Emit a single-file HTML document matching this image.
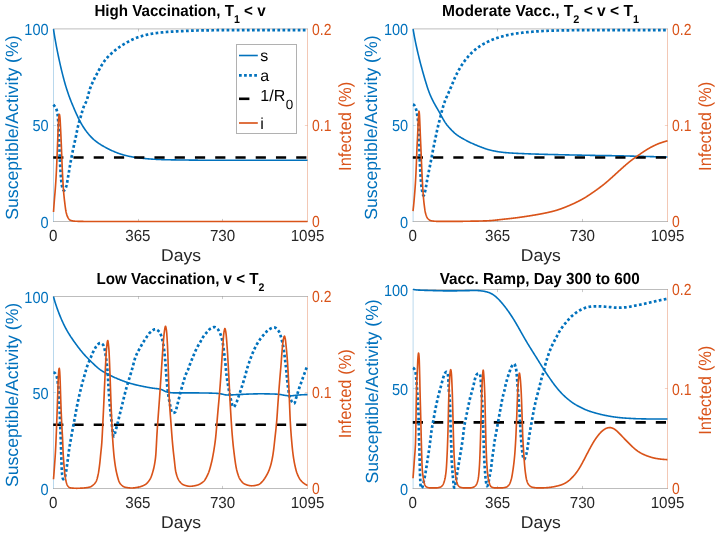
<!DOCTYPE html>
<html><head><meta charset="utf-8"><title>Vaccination scenarios</title>
<!-- Chart: four-panel epidemic model figure (s, a, 1/R0, i) recreated as inline SVG -->
<style>html,body{margin:0;padding:0;background:#fff;}body{width:720px;height:538px;overflow:hidden;font-family:"Liberation Sans",sans-serif;}svg{display:block;}</style></head>
<body>
<svg width="720" height="538" viewBox="0 0 720 538" font-family="'Liberation Sans', sans-serif" text-rendering="geometricPrecision">
<rect width="720" height="538" fill="#fff"/>
<g opacity="0.999">
<clipPath id="clip0"><rect x="52.1" y="27.299999999999997" width="256.8" height="195.6"/></clipPath>
<line x1="53.0" y1="28.9" x2="308.0" y2="28.9" stroke="#262626" stroke-width="1" stroke-opacity="0.3"/>
<line x1="53.0" y1="221.5" x2="308.0" y2="221.5" stroke="#262626" stroke-width="1" stroke-opacity="0.3"/>
<line x1="53.5" y1="28.9" x2="53.5" y2="221.5" stroke="#0072BD" stroke-width="1" stroke-opacity="0.28"/>
<line x1="307.5" y1="28.9" x2="307.5" y2="221.5" stroke="#D95319" stroke-width="1" stroke-opacity="0.32"/>
<line x1="138.50" y1="221.5" x2="138.50" y2="218.9" stroke="#262626" stroke-width="1" stroke-opacity="0.24"/>
<line x1="138.50" y1="28.9" x2="138.50" y2="31.5" stroke="#262626" stroke-width="1" stroke-opacity="0.24"/>
<line x1="222.50" y1="221.5" x2="222.50" y2="218.9" stroke="#262626" stroke-width="1" stroke-opacity="0.24"/>
<line x1="222.50" y1="28.9" x2="222.50" y2="31.5" stroke="#262626" stroke-width="1" stroke-opacity="0.24"/>
<line x1="53.5" y1="125.50" x2="56.1" y2="125.50" stroke="#0072BD" stroke-width="1" stroke-opacity="0.22400000000000003"/>
<line x1="307.5" y1="125.50" x2="304.9" y2="125.50" stroke="#D95319" stroke-width="1" stroke-opacity="0.256"/>
<g clip-path="url(#clip0)" fill="none" stroke-linejoin="round">
<path d="M53.50,29.10 L54.00,32.53 L54.50,35.68 L55.00,38.63 L55.50,41.45 L56.00,44.16 L56.50,46.80 L57.00,49.38 L57.50,51.90 L58.00,54.36 L58.50,56.75 L59.00,59.09 L59.50,61.41 L60.00,63.67 L60.50,65.87 L61.00,68.02 L61.50,70.10 L62.00,72.14 L62.50,74.13 L63.00,76.08 L63.50,77.99 L64.00,79.85 L64.50,81.67 L65.00,83.45 L65.50,85.19 L66.00,86.87 L66.50,88.51 L67.00,90.09 L67.50,91.62 L68.00,93.11 L68.50,94.54 L69.00,95.94 L69.50,97.29 L70.00,98.62 L70.50,99.91 L71.00,101.18 L71.50,102.43 L72.00,103.65 L72.50,104.87 L73.00,106.06 L73.50,107.25 L74.00,108.42 L74.50,109.58 L75.00,110.72 L75.50,111.86 L76.00,112.98 L76.50,114.09 L77.00,115.19 L77.50,116.26 L78.00,117.32 L78.50,118.35 L79.00,119.36 L79.50,120.34 L80.00,121.30 L80.50,122.22 L81.00,123.12 L81.50,124.00 L82.00,124.85 L82.50,125.68 L83.00,126.48 L83.50,127.26 L84.00,128.02 L84.50,128.76 L85.00,129.49 L85.50,130.19 L86.00,130.87 L86.50,131.54 L87.00,132.20 L87.50,132.83 L88.00,133.46 L88.50,134.06 L89.00,134.66 L89.50,135.24 L90.00,135.80 L90.50,136.35 L91.00,136.88 L91.50,137.40 L92.00,137.90 L92.50,138.38 L93.00,138.85 L93.50,139.31 L94.00,139.75 L94.50,140.17 L95.00,140.58 L95.50,140.99 L96.00,141.38 L96.50,141.76 L97.00,142.13 L97.50,142.49 L98.00,142.85 L98.50,143.20 L99.00,143.54 L99.50,143.87 L100.00,144.20 L100.50,144.52 L101.00,144.83 L101.50,145.14 L102.00,145.44 L102.50,145.74 L103.00,146.03 L103.50,146.31 L104.00,146.60 L104.50,146.88 L105.00,147.15 L105.50,147.42 L106.00,147.69 L106.50,147.95 L107.00,148.21 L107.50,148.47 L108.00,148.73 L108.50,148.98 L109.00,149.23 L109.50,149.48 L110.00,149.72 L110.50,149.96 L111.00,150.20 L111.50,150.43 L112.00,150.66 L112.50,150.89 L113.00,151.11 L113.50,151.33 L114.00,151.55 L114.50,151.76 L115.00,151.97 L115.50,152.18 L116.00,152.38 L116.50,152.57 L117.00,152.77 L117.50,152.96 L118.00,153.14 L118.50,153.32 L119.00,153.50 L119.50,153.67 L120.00,153.84 L120.50,154.00 L121.00,154.16 L121.50,154.32 L122.00,154.47 L122.50,154.62 L123.00,154.77 L123.50,154.92 L124.00,155.06 L124.50,155.19 L125.00,155.33 L125.50,155.46 L126.00,155.58 L126.50,155.71 L127.00,155.83 L127.50,155.94 L128.00,156.06 L128.50,156.17 L129.00,156.27 L129.50,156.38 L130.00,156.47 L130.50,156.57 L131.00,156.66 L131.50,156.75 L132.00,156.84 L132.50,156.93 L133.00,157.01 L133.50,157.09 L134.00,157.17 L134.50,157.25 L135.00,157.32 L135.50,157.40 L136.00,157.47 L136.50,157.54 L137.00,157.61 L137.50,157.68 L138.00,157.74 L138.50,157.81 L139.00,157.87 L139.50,157.93 L140.00,157.99 L140.50,158.05 L141.00,158.11 L141.50,158.17 L142.00,158.23 L142.50,158.29 L143.00,158.34 L143.50,158.40 L144.00,158.45 L144.50,158.51 L145.00,158.56 L145.50,158.61 L146.00,158.66 L146.50,158.70 L147.00,158.75 L147.50,158.79 L148.00,158.84 L148.50,158.88 L149.00,158.92 L149.50,158.95 L150.00,158.99 L150.50,159.02 L151.00,159.06 L151.50,159.09 L152.00,159.12 L152.50,159.15 L153.00,159.18 L153.50,159.21 L154.00,159.24 L154.50,159.27 L155.00,159.29 L155.50,159.32 L156.00,159.34 L156.50,159.37 L157.00,159.39 L157.50,159.42 L158.00,159.44 L158.50,159.46 L159.00,159.49 L159.50,159.51 L160.00,159.53 L160.50,159.55 L161.00,159.57 L161.50,159.59 L162.00,159.60 L162.50,159.62 L163.00,159.64 L163.50,159.65 L164.00,159.67 L164.50,159.68 L165.00,159.70 L165.50,159.71 L166.00,159.72 L166.50,159.73 L167.00,159.75 L167.50,159.76 L168.00,159.77 L168.50,159.78 L169.00,159.79 L169.50,159.80 L170.00,159.81 L170.50,159.82 L171.00,159.83 L171.50,159.84 L172.00,159.85 L172.50,159.86 L173.00,159.87 L173.50,159.88 L174.00,159.89 L174.50,159.90 L175.00,159.90 L175.50,159.91 L176.00,159.92 L176.50,159.93 L177.00,159.93 L177.50,159.94 L178.00,159.95 L178.50,159.96 L179.00,159.96 L179.50,159.97 L180.00,159.97 L180.50,159.98 L181.00,159.99 L181.50,159.99 L182.00,160.00 L182.50,160.01 L183.00,160.01 L183.50,160.02 L184.00,160.02 L184.50,160.03 L185.00,160.03 L185.50,160.04 L186.00,160.05 L186.50,160.05 L187.00,160.06 L187.50,160.06 L188.00,160.07 L188.50,160.07 L189.00,160.08 L189.50,160.09 L190.00,160.09 L190.50,160.10 L191.00,160.10 L191.50,160.11 L192.00,160.11 L192.50,160.12 L193.00,160.12 L193.50,160.13 L194.00,160.13 L194.50,160.14 L195.00,160.15 L195.50,160.15 L196.00,160.16 L196.50,160.16 L197.00,160.17 L197.50,160.17 L198.00,160.18 L198.50,160.18 L199.00,160.19 L199.50,160.19 L200.00,160.19 L200.50,160.20 L201.00,160.20 L201.50,160.21 L202.00,160.21 L202.50,160.22 L203.00,160.22 L203.50,160.23 L204.00,160.23 L204.50,160.23 L205.00,160.24 L205.50,160.24 L206.00,160.24 L206.50,160.25 L207.00,160.25 L207.50,160.25 L208.00,160.26 L208.50,160.26 L209.00,160.26 L209.50,160.27 L210.00,160.27 L210.50,160.27 L211.00,160.28 L211.50,160.28 L212.00,160.28 L212.50,160.28 L213.00,160.28 L213.50,160.29 L214.00,160.29 L214.50,160.29 L215.00,160.29 L215.50,160.29 L216.00,160.29 L216.50,160.30 L217.00,160.30 L217.50,160.30 L218.00,160.30 L218.50,160.30 L219.00,160.30 L219.50,160.30 L220.00,160.30 L220.50,160.30 L221.00,160.30 L221.50,160.30 L222.00,160.30 L222.50,160.30 L223.00,160.30 L223.50,160.30 L224.00,160.30 L224.50,160.30 L225.00,160.30 L225.50,160.30 L226.00,160.30 L226.50,160.30 L227.00,160.30 L227.50,160.30 L228.00,160.30 L228.50,160.30 L229.00,160.30 L229.50,160.30 L230.00,160.30 L230.50,160.30 L231.00,160.30 L231.50,160.30 L232.00,160.30 L232.50,160.30 L233.00,160.30 L233.50,160.30 L234.00,160.30 L234.50,160.30 L235.00,160.30 L235.50,160.30 L236.00,160.30 L236.50,160.30 L237.00,160.30 L237.50,160.30 L238.00,160.30 L238.50,160.30 L239.00,160.30 L239.50,160.30 L240.00,160.30 L240.50,160.30 L241.00,160.30 L241.50,160.30 L242.00,160.30 L242.50,160.30 L243.00,160.30 L243.50,160.30 L244.00,160.30 L244.50,160.30 L245.00,160.30 L245.50,160.30 L246.00,160.30 L246.50,160.30 L247.00,160.30 L247.50,160.30 L248.00,160.30 L248.50,160.30 L249.00,160.30 L249.50,160.30 L250.00,160.30 L250.50,160.30 L251.00,160.30 L251.50,160.30 L252.00,160.30 L252.50,160.30 L253.00,160.30 L253.50,160.30 L254.00,160.30 L254.50,160.30 L255.00,160.30 L255.50,160.30 L256.00,160.30 L256.50,160.30 L257.00,160.30 L257.50,160.30 L258.00,160.30 L258.50,160.30 L259.00,160.30 L259.50,160.30 L260.00,160.30 L260.50,160.30 L261.00,160.30 L261.50,160.30 L262.00,160.30 L262.50,160.30 L263.00,160.30 L263.50,160.30 L264.00,160.30 L264.50,160.30 L265.00,160.30 L265.50,160.30 L266.00,160.30 L266.50,160.30 L267.00,160.30 L267.50,160.30 L268.00,160.30 L268.50,160.30 L269.00,160.30 L269.50,160.30 L270.00,160.30 L270.50,160.30 L271.00,160.30 L271.50,160.30 L272.00,160.30 L272.50,160.30 L273.00,160.30 L273.50,160.30 L274.00,160.30 L274.50,160.30 L275.00,160.30 L275.50,160.30 L276.00,160.30 L276.50,160.30 L277.00,160.30 L277.50,160.30 L278.00,160.30 L278.50,160.30 L279.00,160.30 L279.50,160.30 L280.00,160.30 L280.50,160.30 L281.00,160.30 L281.50,160.30 L282.00,160.30 L282.50,160.30 L283.00,160.30 L283.50,160.30 L284.00,160.30 L284.50,160.30 L285.00,160.30 L285.50,160.30 L286.00,160.30 L286.50,160.30 L287.00,160.30 L287.50,160.30 L288.00,160.30 L288.50,160.30 L289.00,160.30 L289.50,160.30 L290.00,160.30 L290.50,160.30 L291.00,160.30 L291.50,160.30 L292.00,160.30 L292.50,160.30 L293.00,160.30 L293.50,160.30 L294.00,160.30 L294.50,160.30 L295.00,160.30 L295.50,160.30 L296.00,160.30 L296.50,160.30 L297.00,160.30 L297.50,160.30 L298.00,160.30 L298.50,160.30 L299.00,160.30 L299.50,160.30 L300.00,160.30 L300.50,160.30 L301.00,160.30 L301.50,160.30 L302.00,160.30 L302.50,160.30 L303.00,160.30 L303.50,160.30 L304.00,160.30 L304.50,160.30 L305.00,160.30 L305.50,160.30 L306.00,160.30 L306.50,160.30 L307.00,160.30 L307.50,160.30" stroke="#0072BD" stroke-width="1.6"/>
<line x1="53.2" y1="157.55" x2="307.5" y2="157.55" stroke="#000" stroke-width="2.6" stroke-dasharray="10.2 10.05"/>
<path d="M53.40,104.60 L53.65,104.92 L53.90,105.26 L54.15,105.61 L54.40,105.94 L54.65,106.26 L54.90,106.59 L55.15,106.93 L55.40,107.30 L55.65,107.70 L55.90,108.16 L56.15,108.67 L56.40,109.27 L56.65,109.97 L56.90,110.83 L57.15,111.86 L57.40,113.12 L57.65,114.64 L57.90,117.03 L58.15,120.39 L58.40,124.47 L58.65,129.05 L58.90,133.90 L59.15,139.82 L59.40,146.50 L59.65,153.39 L59.90,160.07 L60.15,165.23 L60.40,169.54 L60.65,173.23 L60.90,176.54 L61.15,179.63 L61.40,182.22 L61.65,184.06 L61.90,185.48 L62.15,186.73 L62.40,187.79 L62.65,188.65 L62.90,189.30 L63.15,189.77 L63.40,190.18 L63.65,190.48 L63.90,190.60 L64.15,190.52 L64.40,190.30 L64.65,189.99 L64.90,189.64 L65.15,189.26 L65.40,188.77 L65.65,188.17 L65.90,187.47 L66.15,186.69 L66.40,185.85 L66.65,184.93 L66.90,183.80 L67.15,182.50 L67.40,181.08 L67.65,179.59 L67.90,178.07 L68.15,176.57 L68.40,175.13 L68.65,173.66 L68.90,172.17 L69.15,170.65 L69.40,169.14 L69.65,167.63 L69.90,166.15 L70.15,164.72 L70.40,163.30 L70.65,161.90 L70.90,160.52 L71.15,159.16 L71.40,157.81 L71.65,156.49 L71.90,155.20 L72.15,153.93 L72.40,152.69 L72.65,151.47 L72.90,150.27 L73.15,149.08 L73.40,147.91 L73.65,146.73 L73.90,145.57 L74.15,144.43 L74.40,143.31 L74.65,142.19 L74.90,141.08 L75.15,139.96 L75.40,138.82 L75.65,137.67 L75.90,136.47 L76.15,135.24 L76.40,133.99 L76.65,132.72 L76.90,131.46 L77.15,130.22 L77.40,129.01 L77.65,127.85 L77.90,126.74 L78.15,125.70 L78.40,124.71 L78.65,123.77 L78.90,122.85 L79.15,121.97 L79.40,121.11 L79.65,120.26 L79.90,119.43 L80.15,118.60 L80.40,117.77 L80.65,116.94 L80.90,116.10 L81.15,115.24 L81.40,114.37 L81.65,113.48 L81.90,112.60 L82.15,111.72 L82.40,110.85 L82.65,110.00 L82.90,109.17 L83.15,108.37 L83.40,107.62 L83.65,106.91 L83.90,106.25 L84.15,105.65 L84.40,105.11 L84.65,104.61 L84.90,104.13 L85.15,103.67 L85.40,103.22 L85.65,102.75 L85.90,102.26 L86.15,101.73 L86.40,101.15 L86.65,100.50 L86.90,99.78 L87.15,99.00 L87.40,98.15 L87.65,97.26 L87.90,96.34 L88.15,95.39 L88.40,94.43 L88.65,93.47 L88.90,92.52 L89.15,91.60 L89.40,90.70 L89.65,89.86 L89.90,89.06 L90.15,88.34 L90.40,87.67 L90.65,87.01 L90.90,86.38 L91.15,85.76 L91.40,85.15 L91.65,84.55 L91.90,83.97 L92.15,83.40 L92.40,82.84 L92.65,82.29 L92.90,81.76 L93.15,81.23 L93.40,80.71 L93.65,80.19 L93.90,79.69 L94.15,79.19 L94.40,78.69 L94.65,78.20 L94.90,77.72 L95.15,77.24 L95.40,76.76 L95.65,76.29 L95.90,75.81 L96.15,75.34 L96.40,74.87 L96.65,74.39 L96.90,73.92 L97.15,73.45 L97.40,72.97 L97.65,72.50 L97.90,72.03 L98.15,71.56 L98.40,71.09 L98.65,70.62 L98.90,70.16 L99.15,69.70 L99.40,69.24 L99.65,68.78 L99.90,68.33 L100.15,67.88 L100.40,67.43 L100.65,66.99 L100.90,66.56 L101.15,66.12 L101.40,65.70 L101.65,65.28 L101.90,64.86 L102.15,64.45 L102.40,64.05 L102.65,63.65 L102.90,63.26 L103.15,62.88 L103.40,62.50 L103.65,62.14 L103.90,61.78 L104.15,61.43 L104.40,61.08 L104.65,60.75 L104.90,60.43 L105.15,60.11 L105.40,59.80 L105.65,59.50 L105.90,59.19 L106.15,58.90 L106.40,58.60 L106.65,58.32 L106.90,58.03 L107.15,57.75 L107.40,57.47 L107.65,57.20 L107.90,56.93 L108.15,56.67 L108.40,56.40 L108.65,56.15 L108.90,55.89 L109.15,55.64 L109.40,55.39 L109.65,55.14 L109.90,54.90 L110.15,54.66 L110.40,54.42 L110.65,54.19 L110.90,53.95 L111.15,53.73 L111.40,53.50 L111.65,53.27 L111.90,53.05 L112.15,52.83 L112.40,52.61 L112.65,52.39 L112.90,52.18 L113.15,51.96 L113.40,51.75 L113.65,51.54 L113.90,51.33 L114.15,51.12 L114.40,50.92 L114.65,50.71 L114.90,50.51 L115.15,50.31 L115.40,50.11 L115.65,49.91 L115.90,49.71 L116.15,49.51 L116.40,49.32 L116.65,49.12 L116.90,48.93 L117.15,48.74 L117.40,48.55 L117.65,48.36 L117.90,48.17 L118.15,47.99 L118.40,47.81 L118.65,47.62 L118.90,47.44 L119.15,47.26 L119.40,47.08 L119.65,46.91 L119.90,46.73 L120.15,46.56 L120.40,46.39 L120.65,46.22 L120.90,46.05 L121.15,45.88 L121.40,45.71 L121.65,45.55 L121.90,45.39 L122.15,45.22 L122.40,45.06 L122.65,44.90 L122.90,44.75 L123.15,44.59 L123.40,44.44 L123.65,44.28 L123.90,44.13 L124.15,43.98 L124.40,43.83 L124.65,43.69 L124.90,43.54 L125.15,43.40 L125.40,43.26 L125.65,43.12 L125.90,42.98 L126.15,42.84 L126.40,42.70 L126.65,42.56 L126.90,42.42 L127.15,42.28 L127.40,42.14 L127.65,42.01 L127.90,41.87 L128.15,41.74 L128.40,41.60 L128.65,41.47 L128.90,41.34 L129.15,41.21 L129.40,41.08 L129.65,40.95 L129.90,40.82 L130.15,40.69 L130.40,40.56 L130.65,40.43 L130.90,40.31 L131.15,40.18 L131.40,40.06 L131.65,39.94 L131.90,39.82 L132.15,39.70 L132.40,39.58 L132.65,39.46 L132.90,39.34 L133.15,39.23 L133.40,39.12 L133.65,39.00 L133.90,38.89 L134.15,38.78 L134.40,38.67 L134.65,38.56 L134.90,38.46 L135.15,38.35 L135.40,38.25 L135.65,38.15 L135.90,38.05 L136.15,37.95 L136.40,37.85 L136.65,37.76 L136.90,37.66 L137.15,37.57 L137.40,37.48 L137.65,37.39 L137.90,37.30 L138.15,37.22 L138.40,37.13 L138.65,37.05 L138.90,36.97 L139.15,36.89 L139.40,36.81 L139.65,36.73 L139.90,36.65 L140.15,36.57 L140.40,36.49 L140.65,36.41 L140.90,36.34 L141.15,36.26 L141.40,36.19 L141.65,36.11 L141.90,36.04 L142.15,35.97 L142.40,35.89 L142.65,35.82 L142.90,35.75 L143.15,35.68 L143.40,35.61 L143.65,35.54 L143.90,35.47 L144.15,35.41 L144.40,35.34 L144.65,35.27 L144.90,35.21 L145.15,35.14 L145.40,35.08 L145.65,35.02 L145.90,34.96 L146.15,34.90 L146.40,34.84 L146.65,34.78 L146.90,34.72 L147.15,34.66 L147.40,34.60 L147.65,34.55 L147.90,34.49 L148.15,34.44 L148.40,34.38 L148.65,34.33 L148.90,34.28 L149.15,34.23 L149.40,34.18 L149.65,34.13 L149.90,34.08 L150.15,34.04 L150.40,33.99 L150.65,33.95 L150.90,33.90 L151.15,33.86 L151.40,33.82 L151.65,33.78 L151.90,33.73 L152.15,33.69 L152.40,33.65 L152.65,33.61 L152.90,33.58 L153.15,33.54 L153.40,33.50 L153.65,33.46 L153.90,33.42 L154.15,33.39 L154.40,33.35 L154.65,33.31 L154.90,33.28 L155.15,33.24 L155.40,33.20 L155.65,33.17 L155.90,33.14 L156.15,33.10 L156.40,33.07 L156.65,33.03 L156.90,33.00 L157.15,32.97 L157.40,32.94 L157.65,32.90 L157.90,32.87 L158.15,32.84 L158.40,32.81 L158.65,32.78 L158.90,32.75 L159.15,32.72 L159.40,32.69 L159.65,32.66 L159.90,32.63 L160.15,32.60 L160.40,32.58 L160.65,32.55 L160.90,32.52 L161.15,32.49 L161.40,32.47 L161.65,32.44 L161.90,32.41 L162.15,32.39 L162.40,32.36 L162.65,32.34 L162.90,32.31 L163.15,32.29 L163.40,32.26 L163.65,32.24 L163.90,32.22 L164.15,32.19 L164.40,32.17 L164.65,32.15 L164.90,32.13 L165.15,32.10 L165.40,32.08 L165.65,32.06 L165.90,32.04 L166.15,32.02 L166.40,32.00 L166.65,31.98 L166.90,31.96 L167.15,31.94 L167.40,31.92 L167.65,31.90 L167.90,31.88 L168.15,31.86 L168.40,31.85 L168.65,31.83 L168.90,31.81 L169.15,31.79 L169.40,31.77 L169.65,31.76 L169.90,31.74 L170.15,31.72 L170.40,31.70 L170.65,31.69 L170.90,31.67 L171.15,31.65 L171.40,31.64 L171.65,31.62 L171.90,31.61 L172.15,31.59 L172.40,31.57 L172.65,31.56 L172.90,31.54 L173.15,31.53 L173.40,31.51 L173.65,31.50 L173.90,31.49 L174.15,31.47 L174.40,31.46 L174.65,31.44 L174.90,31.43 L175.15,31.41 L175.40,31.40 L175.65,31.39 L175.90,31.37 L176.15,31.36 L176.40,31.35 L176.65,31.33 L176.90,31.32 L177.15,31.31 L177.40,31.30 L177.65,31.28 L177.90,31.27 L178.15,31.26 L178.40,31.25 L178.65,31.24 L178.90,31.22 L179.15,31.21 L179.40,31.20 L179.65,31.19 L179.90,31.18 L180.15,31.17 L180.40,31.15 L180.65,31.14 L180.90,31.13 L181.15,31.12 L181.40,31.11 L181.65,31.10 L181.90,31.08 L182.15,31.07 L182.40,31.06 L182.65,31.05 L182.90,31.04 L183.15,31.03 L183.40,31.02 L183.65,31.00 L183.90,30.99 L184.15,30.98 L184.40,30.97 L184.65,30.96 L184.90,30.95 L185.15,30.94 L185.40,30.93 L185.65,30.91 L185.90,30.90 L186.15,30.89 L186.40,30.88 L186.65,30.87 L186.90,30.86 L187.15,30.85 L187.40,30.84 L187.65,30.83 L187.90,30.82 L188.15,30.81 L188.40,30.80 L188.65,30.79 L188.90,30.78 L189.15,30.77 L189.40,30.76 L189.65,30.75 L189.90,30.74 L190.15,30.73 L190.40,30.72 L190.65,30.71 L190.90,30.70 L191.15,30.69 L191.40,30.68 L191.65,30.67 L191.90,30.67 L192.15,30.66 L192.40,30.65 L192.65,30.64 L192.90,30.63 L193.15,30.62 L193.40,30.61 L193.65,30.61 L193.90,30.60 L194.15,30.59 L194.40,30.58 L194.65,30.58 L194.90,30.57 L195.15,30.56 L195.40,30.55 L195.65,30.55 L195.90,30.54 L196.15,30.53 L196.40,30.53 L196.65,30.52 L196.90,30.51 L197.15,30.51 L197.40,30.50 L197.65,30.50 L197.90,30.49 L198.15,30.48 L198.40,30.48 L198.65,30.47 L198.90,30.47 L199.15,30.46 L199.40,30.46 L199.65,30.46 L199.90,30.45 L200.15,30.45 L200.40,30.44 L200.65,30.44 L200.90,30.44 L201.15,30.43 L201.40,30.43 L201.65,30.42 L201.90,30.42 L202.15,30.42 L202.40,30.41 L202.65,30.41 L202.90,30.40 L203.15,30.40 L203.40,30.40 L203.65,30.39 L203.90,30.39 L204.15,30.38 L204.40,30.38 L204.65,30.38 L204.90,30.37 L205.15,30.37 L205.40,30.37 L205.65,30.36 L205.90,30.36 L206.15,30.36 L206.40,30.35 L206.65,30.35 L206.90,30.34 L207.15,30.34 L207.40,30.34 L207.65,30.33 L207.90,30.33 L208.15,30.33 L208.40,30.32 L208.65,30.32 L208.90,30.32 L209.15,30.31 L209.40,30.31 L209.65,30.31 L209.90,30.30 L210.15,30.30 L210.40,30.30 L210.65,30.29 L210.90,30.29 L211.15,30.29 L211.40,30.29 L211.65,30.28 L211.90,30.28 L212.15,30.28 L212.40,30.27 L212.65,30.27 L212.90,30.27 L213.15,30.26 L213.40,30.26 L213.65,30.26 L213.90,30.26 L214.15,30.25 L214.40,30.25 L214.65,30.25 L214.90,30.25 L215.15,30.24 L215.40,30.24 L215.65,30.24 L215.90,30.23 L216.15,30.23 L216.40,30.23 L216.65,30.23 L216.90,30.23 L217.15,30.22 L217.40,30.22 L217.65,30.22 L217.90,30.22 L218.15,30.21 L218.40,30.21 L218.65,30.21 L218.90,30.21 L219.15,30.20 L219.40,30.20 L219.65,30.20 L219.90,30.20 L220.15,30.20 L220.40,30.19 L220.65,30.19 L220.90,30.19 L221.15,30.19 L221.40,30.19 L221.65,30.19 L221.90,30.18 L222.15,30.18 L222.40,30.18 L222.65,30.18 L222.90,30.18 L223.15,30.18 L223.40,30.17 L223.65,30.17 L223.90,30.17 L224.15,30.17 L224.40,30.17 L224.65,30.17 L224.90,30.17 L225.15,30.17 L225.40,30.16 L225.65,30.16 L225.90,30.16 L226.15,30.16 L226.40,30.16 L226.65,30.16 L226.90,30.16 L227.15,30.16 L227.40,30.16 L227.65,30.16 L227.90,30.15 L228.15,30.15 L228.40,30.15 L228.65,30.15 L228.90,30.15 L229.15,30.15 L229.40,30.15 L229.65,30.15 L229.90,30.15 L230.15,30.15 L230.40,30.15 L230.65,30.15 L230.90,30.15 L231.15,30.15 L231.40,30.15 L231.65,30.15 L231.90,30.15 L232.15,30.15 L232.40,30.15 L232.65,30.15 L232.90,30.15 L233.15,30.15 L233.40,30.15 L233.65,30.15 L233.90,30.14 L234.15,30.14 L234.40,30.14 L234.65,30.14 L234.90,30.14 L235.15,30.14 L235.40,30.14 L235.65,30.14 L235.90,30.14 L236.15,30.14 L236.40,30.14 L236.65,30.14 L236.90,30.14 L237.15,30.14 L237.40,30.14 L237.65,30.14 L237.90,30.14 L238.15,30.14 L238.40,30.14 L238.65,30.14 L238.90,30.14 L239.15,30.14 L239.40,30.14 L239.65,30.14 L239.90,30.14 L240.15,30.14 L240.40,30.14 L240.65,30.14 L240.90,30.14 L241.15,30.14 L241.40,30.14 L241.65,30.14 L241.90,30.13 L242.15,30.13 L242.40,30.13 L242.65,30.13 L242.90,30.13 L243.15,30.13 L243.40,30.13 L243.65,30.13 L243.90,30.13 L244.15,30.13 L244.40,30.13 L244.65,30.13 L244.90,30.13 L245.15,30.13 L245.40,30.13 L245.65,30.13 L245.90,30.13 L246.15,30.13 L246.40,30.13 L246.65,30.13 L246.90,30.13 L247.15,30.13 L247.40,30.13 L247.65,30.13 L247.90,30.13 L248.15,30.13 L248.40,30.13 L248.65,30.13 L248.90,30.13 L249.15,30.13 L249.40,30.13 L249.65,30.13 L249.90,30.13 L250.15,30.13 L250.40,30.13 L250.65,30.13 L250.90,30.13 L251.15,30.13 L251.40,30.13 L251.65,30.12 L251.90,30.12 L252.15,30.12 L252.40,30.12 L252.65,30.12 L252.90,30.12 L253.15,30.12 L253.40,30.12 L253.65,30.12 L253.90,30.12 L254.15,30.12 L254.40,30.12 L254.65,30.12 L254.90,30.12 L255.15,30.12 L255.40,30.12 L255.65,30.12 L255.90,30.12 L256.15,30.12 L256.40,30.12 L256.65,30.12 L256.90,30.12 L257.15,30.12 L257.40,30.12 L257.65,30.12 L257.90,30.12 L258.15,30.12 L258.40,30.12 L258.65,30.12 L258.90,30.12 L259.15,30.12 L259.40,30.12 L259.65,30.12 L259.90,30.12 L260.15,30.12 L260.40,30.12 L260.65,30.12 L260.90,30.12 L261.15,30.12 L261.40,30.12 L261.65,30.12 L261.90,30.12 L262.15,30.12 L262.40,30.12 L262.65,30.12 L262.90,30.12 L263.15,30.12 L263.40,30.12 L263.65,30.11 L263.90,30.11 L264.15,30.11 L264.40,30.11 L264.65,30.11 L264.90,30.11 L265.15,30.11 L265.40,30.11 L265.65,30.11 L265.90,30.11 L266.15,30.11 L266.40,30.11 L266.65,30.11 L266.90,30.11 L267.15,30.11 L267.40,30.11 L267.65,30.11 L267.90,30.11 L268.15,30.11 L268.40,30.11 L268.65,30.11 L268.90,30.11 L269.15,30.11 L269.40,30.11 L269.65,30.11 L269.90,30.11 L270.15,30.11 L270.40,30.11 L270.65,30.11 L270.90,30.11 L271.15,30.11 L271.40,30.11 L271.65,30.11 L271.90,30.11 L272.15,30.11 L272.40,30.11 L272.65,30.11 L272.90,30.11 L273.15,30.11 L273.40,30.11 L273.65,30.11 L273.90,30.11 L274.15,30.11 L274.40,30.11 L274.65,30.11 L274.90,30.11 L275.15,30.11 L275.40,30.11 L275.65,30.11 L275.90,30.11 L276.15,30.11 L276.40,30.11 L276.65,30.11 L276.90,30.11 L277.15,30.11 L277.40,30.11 L277.65,30.11 L277.90,30.11 L278.15,30.11 L278.40,30.11 L278.65,30.11 L278.90,30.11 L279.15,30.11 L279.40,30.11 L279.65,30.11 L279.90,30.11 L280.15,30.11 L280.40,30.11 L280.65,30.11 L280.90,30.11 L281.15,30.11 L281.40,30.11 L281.65,30.10 L281.90,30.10 L282.15,30.10 L282.40,30.10 L282.65,30.10 L282.90,30.10 L283.15,30.10 L283.40,30.10 L283.65,30.10 L283.90,30.10 L284.15,30.10 L284.40,30.10 L284.65,30.10 L284.90,30.10 L285.15,30.10 L285.40,30.10 L285.65,30.10 L285.90,30.10 L286.15,30.10 L286.40,30.10 L286.65,30.10 L286.90,30.10 L287.15,30.10 L287.40,30.10 L287.65,30.10 L287.90,30.10 L288.15,30.10 L288.40,30.10 L288.65,30.10 L288.90,30.10 L289.15,30.10 L289.40,30.10 L289.65,30.10 L289.90,30.10 L290.15,30.10 L290.40,30.10 L290.65,30.10 L290.90,30.10 L291.15,30.10 L291.40,30.10 L291.65,30.10 L291.90,30.10 L292.15,30.10 L292.40,30.10 L292.65,30.10 L292.90,30.10 L293.15,30.10 L293.40,30.10 L293.65,30.10 L293.90,30.10 L294.15,30.10 L294.40,30.10 L294.65,30.10 L294.90,30.10 L295.15,30.10 L295.40,30.10 L295.65,30.10 L295.90,30.10 L296.15,30.10 L296.40,30.10 L296.65,30.10 L296.90,30.10 L297.15,30.10 L297.40,30.10 L297.65,30.10 L297.90,30.10 L298.15,30.10 L298.40,30.10 L298.65,30.10 L298.90,30.10 L299.15,30.10 L299.40,30.10 L299.65,30.10 L299.90,30.10 L300.15,30.10 L300.40,30.10 L300.65,30.10 L300.90,30.10 L301.15,30.10 L301.40,30.10 L301.65,30.10 L301.90,30.10 L302.15,30.10 L302.40,30.10 L302.65,30.10 L302.90,30.10 L303.15,30.10 L303.40,30.10 L303.65,30.10 L303.90,30.10 L304.15,30.10 L304.40,30.10 L304.65,30.10 L304.90,30.10 L305.15,30.10 L305.40,30.10 L305.65,30.10 L305.90,30.10 L306.15,30.10 L306.40,30.10 L306.65,30.10 L306.90,30.10 L307.15,30.10 L307.40,30.10 L307.50,30.10" stroke="#0072BD" stroke-width="2.7" stroke-dasharray="2.7 2.38" stroke-dashoffset="0"/>
<path d="M53.50,212.00 L53.75,208.46 L54.00,205.03 L54.25,201.71 L54.50,198.50 L54.75,195.53 L55.00,192.69 L55.25,189.66 L55.50,186.24 L55.75,182.53 L56.00,178.50 L56.25,174.07 L56.50,168.99 L56.75,163.42 L57.00,157.70 L57.25,151.73 L57.50,145.53 L57.75,138.93 L58.00,131.84 L58.25,125.97 L58.50,121.03 L58.75,117.43 L59.00,115.58 L59.25,114.42 L59.50,114.57 L59.75,115.91 L60.00,118.00 L60.25,122.11 L60.50,127.00 L60.75,131.96 L61.00,137.40 L61.25,143.19 L61.50,149.61 L61.75,156.24 L62.00,162.42 L62.25,168.42 L62.50,174.05 L62.75,178.90 L63.00,183.15 L63.25,186.98 L63.50,190.37 L63.75,193.33 L64.00,195.99 L64.25,198.40 L64.50,200.63 L64.75,202.71 L65.00,204.76 L65.25,206.75 L65.50,208.61 L65.75,210.27 L66.00,211.64 L66.25,212.73 L66.50,213.70 L66.75,214.59 L67.00,215.39 L67.25,216.10 L67.50,216.72 L67.75,217.24 L68.00,217.66 L68.25,218.05 L68.50,218.42 L68.75,218.76 L69.00,219.08 L69.25,219.37 L69.50,219.63 L69.75,219.85 L70.00,220.04 L70.25,220.19 L70.50,220.30 L70.75,220.39 L71.00,220.47 L71.25,220.55 L71.50,220.62 L71.75,220.69 L72.00,220.76 L72.25,220.82 L72.50,220.88 L72.75,220.93 L73.00,220.98 L73.25,221.02 L73.50,221.06 L73.75,221.09 L74.00,221.12 L74.25,221.15 L74.50,221.17 L74.75,221.19 L75.00,221.20 L75.25,221.21 L75.50,221.22 L75.75,221.23 L76.00,221.24 L76.25,221.25 L76.50,221.26 L76.75,221.27 L77.00,221.28 L77.25,221.29 L77.50,221.30 L77.75,221.30 L78.00,221.31 L78.25,221.32 L78.50,221.33 L78.75,221.34 L79.00,221.34 L79.25,221.35 L79.50,221.36 L79.75,221.37 L80.00,221.37 L80.25,221.38 L80.50,221.39 L80.75,221.39 L81.00,221.40 L81.25,221.40 L81.50,221.41 L81.75,221.41 L82.00,221.42 L82.25,221.42 L82.50,221.43 L82.75,221.43 L83.00,221.44 L83.25,221.44 L83.50,221.45 L83.75,221.45 L84.00,221.46 L84.25,221.46 L84.50,221.46 L84.75,221.47 L85.00,221.47 L85.25,221.47 L85.50,221.48 L85.75,221.48 L86.00,221.48 L86.25,221.48 L86.50,221.49 L86.75,221.49 L87.00,221.49 L87.25,221.49 L87.50,221.49 L87.75,221.49 L88.00,221.50 L88.25,221.50 L88.50,221.50 L88.75,221.50 L89.00,221.50 L89.25,221.50 L89.50,221.50 L89.75,221.50 L90.00,221.50 L90.25,221.50 L90.50,221.50 L90.75,221.50 L91.00,221.50 L91.25,221.50 L91.50,221.50 L91.75,221.50 L92.00,221.50 L92.25,221.50 L92.50,221.50 L92.75,221.50 L93.00,221.50 L93.25,221.50 L93.50,221.50 L93.75,221.50 L94.00,221.50 L94.25,221.50 L94.50,221.50 L94.75,221.50 L95.00,221.50 L95.25,221.50 L95.50,221.50 L95.75,221.50 L96.00,221.50 L96.25,221.50 L96.50,221.50 L96.75,221.50 L97.00,221.50 L97.25,221.50 L97.50,221.50 L97.75,221.50 L98.00,221.50 L98.25,221.50 L98.50,221.50 L98.75,221.50 L99.00,221.50 L99.25,221.50 L99.50,221.50 L99.75,221.50 L100.00,221.50 L100.25,221.50 L100.50,221.50 L100.75,221.50 L101.00,221.50 L101.25,221.50 L101.50,221.50 L101.75,221.50 L102.00,221.50 L102.25,221.50 L102.50,221.50 L102.75,221.50 L103.00,221.50 L103.25,221.50 L103.50,221.50 L103.75,221.50 L104.00,221.50 L104.25,221.50 L104.50,221.50 L104.75,221.50 L105.00,221.50 L105.25,221.50 L105.50,221.50 L105.75,221.50 L106.00,221.50 L106.25,221.50 L106.50,221.50 L106.75,221.50 L107.00,221.50 L107.25,221.50 L107.50,221.50 L107.75,221.50 L108.00,221.50 L108.25,221.50 L108.50,221.50 L108.75,221.50 L109.00,221.50 L109.25,221.50 L109.50,221.50 L109.75,221.50 L110.00,221.50 L110.25,221.50 L110.50,221.50 L110.75,221.50 L111.00,221.50 L111.25,221.50 L111.50,221.50 L111.75,221.50 L112.00,221.50 L112.25,221.50 L112.50,221.50 L112.75,221.50 L113.00,221.50 L113.25,221.50 L113.50,221.50 L113.75,221.50 L114.00,221.50 L114.25,221.50 L114.50,221.50 L114.75,221.50 L115.00,221.50 L115.25,221.50 L115.50,221.50 L115.75,221.50 L116.00,221.50 L116.25,221.50 L116.50,221.50 L116.75,221.50 L117.00,221.50 L117.25,221.50 L117.50,221.50 L117.75,221.50 L118.00,221.50 L118.25,221.50 L118.50,221.50 L118.75,221.50 L119.00,221.50 L119.25,221.50 L119.50,221.50 L119.75,221.50 L120.00,221.50 L120.25,221.50 L120.50,221.50 L120.75,221.50 L121.00,221.50 L121.25,221.50 L121.50,221.50 L121.75,221.50 L122.00,221.50 L122.25,221.50 L122.50,221.50 L122.75,221.50 L123.00,221.50 L123.25,221.50 L123.50,221.50 L123.75,221.50 L124.00,221.50 L124.25,221.50 L124.50,221.50 L124.75,221.50 L125.00,221.50 L125.25,221.50 L125.50,221.50 L125.75,221.50 L126.00,221.50 L126.25,221.50 L126.50,221.50 L126.75,221.50 L127.00,221.50 L127.25,221.50 L127.50,221.50 L127.75,221.50 L128.00,221.50 L128.25,221.50 L128.50,221.50 L128.75,221.50 L129.00,221.50 L129.25,221.50 L129.50,221.50 L129.75,221.50 L130.00,221.50 L130.25,221.50 L130.50,221.50 L130.75,221.50 L131.00,221.50 L131.25,221.50 L131.50,221.50 L131.75,221.50 L132.00,221.50 L132.25,221.50 L132.50,221.50 L132.75,221.50 L133.00,221.50 L133.25,221.50 L133.50,221.50 L133.75,221.50 L134.00,221.50 L134.25,221.50 L134.50,221.50 L134.75,221.50 L135.00,221.50 L135.25,221.50 L135.50,221.50 L135.75,221.50 L136.00,221.50 L136.25,221.50 L136.50,221.50 L136.75,221.50 L137.00,221.50 L137.25,221.50 L137.50,221.50 L137.75,221.50 L138.00,221.50 L138.25,221.50 L138.50,221.50 L138.75,221.50 L139.00,221.50 L139.25,221.50 L139.50,221.50 L139.75,221.50 L140.00,221.50 L140.25,221.50 L140.50,221.50 L140.75,221.50 L141.00,221.50 L141.25,221.50 L141.50,221.50 L141.75,221.50 L142.00,221.50 L142.25,221.50 L142.50,221.50 L142.75,221.50 L143.00,221.50 L143.25,221.50 L143.50,221.50 L143.75,221.50 L144.00,221.50 L144.25,221.50 L144.50,221.50 L144.75,221.50 L145.00,221.50 L145.25,221.50 L145.50,221.50 L145.75,221.50 L146.00,221.50 L146.25,221.50 L146.50,221.50 L146.75,221.50 L147.00,221.50 L147.25,221.50 L147.50,221.50 L147.75,221.50 L148.00,221.50 L148.25,221.50 L148.50,221.50 L148.75,221.50 L149.00,221.50 L149.25,221.50 L149.50,221.50 L149.75,221.50 L150.00,221.50 L150.25,221.50 L150.50,221.50 L150.75,221.50 L151.00,221.50 L151.25,221.50 L151.50,221.50 L151.75,221.50 L152.00,221.50 L152.25,221.50 L152.50,221.50 L152.75,221.50 L153.00,221.50 L153.25,221.50 L153.50,221.50 L153.75,221.50 L154.00,221.50 L154.25,221.50 L154.50,221.50 L154.75,221.50 L155.00,221.50 L155.25,221.50 L155.50,221.50 L155.75,221.50 L156.00,221.50 L156.25,221.50 L156.50,221.50 L156.75,221.50 L157.00,221.50 L157.25,221.50 L157.50,221.50 L157.75,221.50 L158.00,221.50 L158.25,221.50 L158.50,221.50 L158.75,221.50 L159.00,221.50 L159.25,221.50 L159.50,221.50 L159.75,221.50 L160.00,221.50 L160.25,221.50 L160.50,221.50 L160.75,221.50 L161.00,221.50 L161.25,221.50 L161.50,221.50 L161.75,221.50 L162.00,221.50 L162.25,221.50 L162.50,221.50 L162.75,221.50 L163.00,221.50 L163.25,221.50 L163.50,221.50 L163.75,221.50 L164.00,221.50 L164.25,221.50 L164.50,221.50 L164.75,221.50 L165.00,221.50 L165.25,221.50 L165.50,221.50 L165.75,221.50 L166.00,221.50 L166.25,221.50 L166.50,221.50 L166.75,221.50 L167.00,221.50 L167.25,221.50 L167.50,221.50 L167.75,221.50 L168.00,221.50 L168.25,221.50 L168.50,221.50 L168.75,221.50 L169.00,221.50 L169.25,221.50 L169.50,221.50 L169.75,221.50 L170.00,221.50 L170.25,221.50 L170.50,221.50 L170.75,221.50 L171.00,221.50 L171.25,221.50 L171.50,221.50 L171.75,221.50 L172.00,221.50 L172.25,221.50 L172.50,221.50 L172.75,221.50 L173.00,221.50 L173.25,221.50 L173.50,221.50 L173.75,221.50 L174.00,221.50 L174.25,221.50 L174.50,221.50 L174.75,221.50 L175.00,221.50 L175.25,221.50 L175.50,221.50 L175.75,221.50 L176.00,221.50 L176.25,221.50 L176.50,221.50 L176.75,221.50 L177.00,221.50 L177.25,221.50 L177.50,221.50 L177.75,221.50 L178.00,221.50 L178.25,221.50 L178.50,221.50 L178.75,221.50 L179.00,221.50 L179.25,221.50 L179.50,221.50 L179.75,221.50 L180.00,221.50 L180.25,221.50 L180.50,221.50 L180.75,221.50 L181.00,221.50 L181.25,221.50 L181.50,221.50 L181.75,221.50 L182.00,221.50 L182.25,221.50 L182.50,221.50 L182.75,221.50 L183.00,221.50 L183.25,221.50 L183.50,221.50 L183.75,221.50 L184.00,221.50 L184.25,221.50 L184.50,221.50 L184.75,221.50 L185.00,221.50 L185.25,221.50 L185.50,221.50 L185.75,221.50 L186.00,221.50 L186.25,221.50 L186.50,221.50 L186.75,221.50 L187.00,221.50 L187.25,221.50 L187.50,221.50 L187.75,221.50 L188.00,221.50 L188.25,221.50 L188.50,221.50 L188.75,221.50 L189.00,221.50 L189.25,221.50 L189.50,221.50 L189.75,221.50 L190.00,221.50 L190.25,221.50 L190.50,221.50 L190.75,221.50 L191.00,221.50 L191.25,221.50 L191.50,221.50 L191.75,221.50 L192.00,221.50 L192.25,221.50 L192.50,221.50 L192.75,221.50 L193.00,221.50 L193.25,221.50 L193.50,221.50 L193.75,221.50 L194.00,221.50 L194.25,221.50 L194.50,221.50 L194.75,221.50 L195.00,221.50 L195.25,221.50 L195.50,221.50 L195.75,221.50 L196.00,221.50 L196.25,221.50 L196.50,221.50 L196.75,221.50 L197.00,221.50 L197.25,221.50 L197.50,221.50 L197.75,221.50 L198.00,221.50 L198.25,221.50 L198.50,221.50 L198.75,221.50 L199.00,221.50 L199.25,221.50 L199.50,221.50 L199.75,221.50 L200.00,221.50 L200.25,221.50 L200.50,221.50 L200.75,221.50 L201.00,221.50 L201.25,221.50 L201.50,221.50 L201.75,221.50 L202.00,221.50 L202.25,221.50 L202.50,221.50 L202.75,221.50 L203.00,221.50 L203.25,221.50 L203.50,221.50 L203.75,221.50 L204.00,221.50 L204.25,221.50 L204.50,221.50 L204.75,221.50 L205.00,221.50 L205.25,221.50 L205.50,221.50 L205.75,221.50 L206.00,221.50 L206.25,221.50 L206.50,221.50 L206.75,221.50 L207.00,221.50 L207.25,221.50 L207.50,221.50 L207.75,221.50 L208.00,221.50 L208.25,221.50 L208.50,221.50 L208.75,221.50 L209.00,221.50 L209.25,221.50 L209.50,221.50 L209.75,221.50 L210.00,221.50 L210.25,221.50 L210.50,221.50 L210.75,221.50 L211.00,221.50 L211.25,221.50 L211.50,221.50 L211.75,221.50 L212.00,221.50 L212.25,221.50 L212.50,221.50 L212.75,221.50 L213.00,221.50 L213.25,221.50 L213.50,221.50 L213.75,221.50 L214.00,221.50 L214.25,221.50 L214.50,221.50 L214.75,221.50 L215.00,221.50 L215.25,221.50 L215.50,221.50 L215.75,221.50 L216.00,221.50 L216.25,221.50 L216.50,221.50 L216.75,221.50 L217.00,221.50 L217.25,221.50 L217.50,221.50 L217.75,221.50 L218.00,221.50 L218.25,221.50 L218.50,221.50 L218.75,221.50 L219.00,221.50 L219.25,221.50 L219.50,221.50 L219.75,221.50 L220.00,221.50 L220.25,221.50 L220.50,221.50 L220.75,221.50 L221.00,221.50 L221.25,221.50 L221.50,221.50 L221.75,221.50 L222.00,221.50 L222.25,221.50 L222.50,221.50 L222.75,221.50 L223.00,221.50 L223.25,221.50 L223.50,221.50 L223.75,221.50 L224.00,221.50 L224.25,221.50 L224.50,221.50 L224.75,221.50 L225.00,221.50 L225.25,221.50 L225.50,221.50 L225.75,221.50 L226.00,221.50 L226.25,221.50 L226.50,221.50 L226.75,221.50 L227.00,221.50 L227.25,221.50 L227.50,221.50 L227.75,221.50 L228.00,221.50 L228.25,221.50 L228.50,221.50 L228.75,221.50 L229.00,221.50 L229.25,221.50 L229.50,221.50 L229.75,221.50 L230.00,221.50 L230.25,221.50 L230.50,221.50 L230.75,221.50 L231.00,221.50 L231.25,221.50 L231.50,221.50 L231.75,221.50 L232.00,221.50 L232.25,221.50 L232.50,221.50 L232.75,221.50 L233.00,221.50 L233.25,221.50 L233.50,221.50 L233.75,221.50 L234.00,221.50 L234.25,221.50 L234.50,221.50 L234.75,221.50 L235.00,221.50 L235.25,221.50 L235.50,221.50 L235.75,221.50 L236.00,221.50 L236.25,221.50 L236.50,221.50 L236.75,221.50 L237.00,221.50 L237.25,221.50 L237.50,221.50 L237.75,221.50 L238.00,221.50 L238.25,221.50 L238.50,221.50 L238.75,221.50 L239.00,221.50 L239.25,221.50 L239.50,221.50 L239.75,221.50 L240.00,221.50 L240.25,221.50 L240.50,221.50 L240.75,221.50 L241.00,221.50 L241.25,221.50 L241.50,221.50 L241.75,221.50 L242.00,221.50 L242.25,221.50 L242.50,221.50 L242.75,221.50 L243.00,221.50 L243.25,221.50 L243.50,221.50 L243.75,221.50 L244.00,221.50 L244.25,221.50 L244.50,221.50 L244.75,221.50 L245.00,221.50 L245.25,221.50 L245.50,221.50 L245.75,221.50 L246.00,221.50 L246.25,221.50 L246.50,221.50 L246.75,221.50 L247.00,221.50 L247.25,221.50 L247.50,221.50 L247.75,221.50 L248.00,221.50 L248.25,221.50 L248.50,221.50 L248.75,221.50 L249.00,221.50 L249.25,221.50 L249.50,221.50 L249.75,221.50 L250.00,221.50 L250.25,221.50 L250.50,221.50 L250.75,221.50 L251.00,221.50 L251.25,221.50 L251.50,221.50 L251.75,221.50 L252.00,221.50 L252.25,221.50 L252.50,221.50 L252.75,221.50 L253.00,221.50 L253.25,221.50 L253.50,221.50 L253.75,221.50 L254.00,221.50 L254.25,221.50 L254.50,221.50 L254.75,221.50 L255.00,221.50 L255.25,221.50 L255.50,221.50 L255.75,221.50 L256.00,221.50 L256.25,221.50 L256.50,221.50 L256.75,221.50 L257.00,221.50 L257.25,221.50 L257.50,221.50 L257.75,221.50 L258.00,221.50 L258.25,221.50 L258.50,221.50 L258.75,221.50 L259.00,221.50 L259.25,221.50 L259.50,221.50 L259.75,221.50 L260.00,221.50 L260.25,221.50 L260.50,221.50 L260.75,221.50 L261.00,221.50 L261.25,221.50 L261.50,221.50 L261.75,221.50 L262.00,221.50 L262.25,221.50 L262.50,221.50 L262.75,221.50 L263.00,221.50 L263.25,221.50 L263.50,221.50 L263.75,221.50 L264.00,221.50 L264.25,221.50 L264.50,221.50 L264.75,221.50 L265.00,221.50 L265.25,221.50 L265.50,221.50 L265.75,221.50 L266.00,221.50 L266.25,221.50 L266.50,221.50 L266.75,221.50 L267.00,221.50 L267.25,221.50 L267.50,221.50 L267.75,221.50 L268.00,221.50 L268.25,221.50 L268.50,221.50 L268.75,221.50 L269.00,221.50 L269.25,221.50 L269.50,221.50 L269.75,221.50 L270.00,221.50 L270.25,221.50 L270.50,221.50 L270.75,221.50 L271.00,221.50 L271.25,221.50 L271.50,221.50 L271.75,221.50 L272.00,221.50 L272.25,221.50 L272.50,221.50 L272.75,221.50 L273.00,221.50 L273.25,221.50 L273.50,221.50 L273.75,221.50 L274.00,221.50 L274.25,221.50 L274.50,221.50 L274.75,221.50 L275.00,221.50 L275.25,221.50 L275.50,221.50 L275.75,221.50 L276.00,221.50 L276.25,221.50 L276.50,221.50 L276.75,221.50 L277.00,221.50 L277.25,221.50 L277.50,221.50 L277.75,221.50 L278.00,221.50 L278.25,221.50 L278.50,221.50 L278.75,221.50 L279.00,221.50 L279.25,221.50 L279.50,221.50 L279.75,221.50 L280.00,221.50 L280.25,221.50 L280.50,221.50 L280.75,221.50 L281.00,221.50 L281.25,221.50 L281.50,221.50 L281.75,221.50 L282.00,221.50 L282.25,221.50 L282.50,221.50 L282.75,221.50 L283.00,221.50 L283.25,221.50 L283.50,221.50 L283.75,221.50 L284.00,221.50 L284.25,221.50 L284.50,221.50 L284.75,221.50 L285.00,221.50 L285.25,221.50 L285.50,221.50 L285.75,221.50 L286.00,221.50 L286.25,221.50 L286.50,221.50 L286.75,221.50 L287.00,221.50 L287.25,221.50 L287.50,221.50 L287.75,221.50 L288.00,221.50 L288.25,221.50 L288.50,221.50 L288.75,221.50 L289.00,221.50 L289.25,221.50 L289.50,221.50 L289.75,221.50 L290.00,221.50 L290.25,221.50 L290.50,221.50 L290.75,221.50 L291.00,221.50 L291.25,221.50 L291.50,221.50 L291.75,221.50 L292.00,221.50 L292.25,221.50 L292.50,221.50 L292.75,221.50 L293.00,221.50 L293.25,221.50 L293.50,221.50 L293.75,221.50 L294.00,221.50 L294.25,221.50 L294.50,221.50 L294.75,221.50 L295.00,221.50 L295.25,221.50 L295.50,221.50 L295.75,221.50 L296.00,221.50 L296.25,221.50 L296.50,221.50 L296.75,221.50 L297.00,221.50 L297.25,221.50 L297.50,221.50 L297.75,221.50 L298.00,221.50 L298.25,221.50 L298.50,221.50 L298.75,221.50 L299.00,221.50 L299.25,221.50 L299.50,221.50 L299.75,221.50 L300.00,221.50 L300.25,221.50 L300.50,221.50 L300.75,221.50 L301.00,221.50 L301.25,221.50 L301.50,221.50 L301.75,221.50 L302.00,221.50 L302.25,221.50 L302.50,221.50 L302.75,221.50 L303.00,221.50 L303.25,221.50 L303.50,221.50 L303.75,221.50 L304.00,221.50 L304.25,221.50 L304.50,221.50 L304.75,221.50 L305.00,221.50 L305.25,221.50 L305.50,221.50 L305.75,221.50 L306.00,221.50 L306.25,221.50 L306.50,221.50 L306.75,221.50 L307.00,221.50 L307.25,221.50 L307.50,221.50" stroke="#D95319" stroke-width="1.65"/>
</g>
<text transform="translate(48.60,34.90) scale(0.91,1)" font-size="16.0" text-anchor="end" fill="#0072BD" font-weight="normal" >100</text>
<text transform="translate(48.60,131.20) scale(0.91,1)" font-size="16.0" text-anchor="end" fill="#0072BD" font-weight="normal" >50</text>
<text transform="translate(48.60,227.50) scale(0.91,1)" font-size="16.0" text-anchor="end" fill="#0072BD" font-weight="normal" >0</text>
<text transform="translate(312.10,34.65) scale(0.87,1)" font-size="16.0" text-anchor="start" fill="#D95319" font-weight="normal" >0.2</text>
<text transform="translate(312.10,130.95) scale(0.87,1)" font-size="16.0" text-anchor="start" fill="#D95319" font-weight="normal" >0.1</text>
<text transform="translate(312.10,227.20) scale(0.87,1)" font-size="16.0" text-anchor="start" fill="#D95319" font-weight="normal" >0</text>
<text transform="translate(53.10,240.70) scale(0.945,1)" font-size="16.0" text-anchor="middle" fill="#262626" font-weight="normal" >0</text>
<text transform="translate(137.87,240.70) scale(0.945,1)" font-size="16.0" text-anchor="middle" fill="#262626" font-weight="normal" >365</text>
<text transform="translate(222.53,240.70) scale(0.945,1)" font-size="16.0" text-anchor="middle" fill="#262626" font-weight="normal" >730</text>
<text transform="translate(307.50,240.70) scale(0.945,1)" font-size="16.0" text-anchor="middle" fill="#262626" font-weight="normal" >1095</text>
<text transform="translate(181.00,261.40) scale(1,1)" font-size="17.0" text-anchor="middle" fill="#262626" font-weight="normal" textLength="40.0" lengthAdjust="spacingAndGlyphs">Days</text>
<text transform="translate(17.70,127.60) rotate(-90)" font-size="17.6" text-anchor="middle" fill="#0072BD" textLength="184.3" lengthAdjust="spacingAndGlyphs">Susceptible/Activity (%)</text>
<text transform="translate(350.50,126.40) rotate(-90)" font-size="17.6" text-anchor="middle" fill="#D95319" textLength="89.1" lengthAdjust="spacingAndGlyphs">Infected (%)</text>
<text transform="translate(180.0,16.3) scale(0.91,1)" font-size="16.0" font-weight="bold" text-anchor="middle" fill="#000" textLength="188.13" lengthAdjust="spacingAndGlyphs"><tspan>High Vaccination, T</tspan><tspan font-size="11.20" dy="6.80">1</tspan><tspan dy="-6.80"> &lt; v</tspan></text>
<clipPath id="clip1"><rect x="411.70000000000005" y="27.299999999999997" width="257.2" height="195.6"/></clipPath>
<line x1="412.6" y1="28.9" x2="668.0" y2="28.9" stroke="#262626" stroke-width="1" stroke-opacity="0.3"/>
<line x1="412.6" y1="221.5" x2="668.0" y2="221.5" stroke="#262626" stroke-width="1" stroke-opacity="0.3"/>
<line x1="413.1" y1="28.9" x2="413.1" y2="221.5" stroke="#0072BD" stroke-width="1" stroke-opacity="0.28"/>
<line x1="667.5" y1="28.9" x2="667.5" y2="221.5" stroke="#D95319" stroke-width="1" stroke-opacity="0.32"/>
<line x1="497.50" y1="221.5" x2="497.50" y2="218.9" stroke="#262626" stroke-width="1" stroke-opacity="0.24"/>
<line x1="497.50" y1="28.9" x2="497.50" y2="31.5" stroke="#262626" stroke-width="1" stroke-opacity="0.24"/>
<line x1="582.50" y1="221.5" x2="582.50" y2="218.9" stroke="#262626" stroke-width="1" stroke-opacity="0.24"/>
<line x1="582.50" y1="28.9" x2="582.50" y2="31.5" stroke="#262626" stroke-width="1" stroke-opacity="0.24"/>
<line x1="413.1" y1="125.50" x2="415.70000000000005" y2="125.50" stroke="#0072BD" stroke-width="1" stroke-opacity="0.22400000000000003"/>
<line x1="667.5" y1="125.50" x2="664.9" y2="125.50" stroke="#D95319" stroke-width="1" stroke-opacity="0.256"/>
<g clip-path="url(#clip1)" fill="none" stroke-linejoin="round">
<path d="M413.10,29.10 L413.60,32.18 L414.10,35.01 L414.60,37.67 L415.10,40.20 L415.60,42.63 L416.10,44.99 L416.60,47.29 L417.10,49.54 L417.60,51.72 L418.10,53.84 L418.60,55.91 L419.10,57.97 L419.60,59.99 L420.10,61.95 L420.60,63.86 L421.10,65.74 L421.60,67.58 L422.10,69.40 L422.60,71.20 L423.10,72.97 L423.60,74.74 L424.10,76.48 L424.60,78.21 L425.10,79.91 L425.60,81.59 L426.10,83.24 L426.60,84.85 L427.10,86.41 L427.60,87.94 L428.10,89.40 L428.60,90.82 L429.10,92.18 L429.60,93.48 L430.10,94.72 L430.60,95.91 L431.10,97.05 L431.60,98.14 L432.10,99.19 L432.60,100.20 L433.10,101.18 L433.60,102.14 L434.10,103.07 L434.60,103.98 L435.10,104.87 L435.60,105.75 L436.10,106.62 L436.60,107.48 L437.10,108.34 L437.60,109.20 L438.10,110.07 L438.60,110.94 L439.10,111.81 L439.60,112.70 L440.10,113.59 L440.60,114.50 L441.10,115.41 L441.60,116.33 L442.10,117.24 L442.60,118.15 L443.10,119.05 L443.60,119.92 L444.10,120.77 L444.60,121.58 L445.10,122.37 L445.60,123.11 L446.10,123.82 L446.60,124.50 L447.10,125.14 L447.60,125.76 L448.10,126.36 L448.60,126.94 L449.10,127.51 L449.60,128.06 L450.10,128.60 L450.60,129.14 L451.10,129.66 L451.60,130.18 L452.10,130.69 L452.60,131.18 L453.10,131.67 L453.60,132.14 L454.10,132.60 L454.60,133.05 L455.10,133.48 L455.60,133.89 L456.10,134.29 L456.60,134.68 L457.10,135.05 L457.60,135.41 L458.10,135.76 L458.60,136.10 L459.10,136.42 L459.60,136.74 L460.10,137.05 L460.60,137.35 L461.10,137.65 L461.60,137.94 L462.10,138.23 L462.60,138.51 L463.10,138.79 L463.60,139.07 L464.10,139.34 L464.60,139.61 L465.10,139.88 L465.60,140.15 L466.10,140.42 L466.60,140.68 L467.10,140.94 L467.60,141.20 L468.10,141.45 L468.60,141.70 L469.10,141.95 L469.60,142.19 L470.10,142.43 L470.60,142.67 L471.10,142.90 L471.60,143.13 L472.10,143.36 L472.60,143.59 L473.10,143.81 L473.60,144.03 L474.10,144.25 L474.60,144.47 L475.10,144.69 L475.60,144.90 L476.10,145.11 L476.60,145.32 L477.10,145.53 L477.60,145.74 L478.10,145.94 L478.60,146.14 L479.10,146.34 L479.60,146.54 L480.10,146.73 L480.60,146.92 L481.10,147.11 L481.60,147.30 L482.10,147.49 L482.60,147.68 L483.10,147.86 L483.60,148.05 L484.10,148.23 L484.60,148.41 L485.10,148.58 L485.60,148.76 L486.10,148.92 L486.60,149.09 L487.10,149.25 L487.60,149.40 L488.10,149.55 L488.60,149.69 L489.10,149.83 L489.60,149.96 L490.10,150.08 L490.60,150.21 L491.10,150.32 L491.60,150.44 L492.10,150.55 L492.60,150.66 L493.10,150.76 L493.60,150.87 L494.10,150.97 L494.60,151.07 L495.10,151.16 L495.60,151.26 L496.10,151.35 L496.60,151.44 L497.10,151.53 L497.60,151.61 L498.10,151.70 L498.60,151.78 L499.10,151.86 L499.60,151.93 L500.10,152.01 L500.60,152.08 L501.10,152.14 L501.60,152.21 L502.10,152.27 L502.60,152.33 L503.10,152.38 L503.60,152.44 L504.10,152.49 L504.60,152.54 L505.10,152.58 L505.60,152.63 L506.10,152.67 L506.60,152.71 L507.10,152.75 L507.60,152.79 L508.10,152.82 L508.60,152.86 L509.10,152.90 L509.60,152.93 L510.10,152.96 L510.60,153.00 L511.10,153.03 L511.60,153.06 L512.10,153.09 L512.60,153.12 L513.10,153.15 L513.60,153.18 L514.10,153.21 L514.60,153.24 L515.10,153.26 L515.60,153.29 L516.10,153.32 L516.60,153.34 L517.10,153.37 L517.60,153.39 L518.10,153.41 L518.60,153.44 L519.10,153.46 L519.60,153.48 L520.10,153.51 L520.60,153.53 L521.10,153.55 L521.60,153.57 L522.10,153.59 L522.60,153.61 L523.10,153.63 L523.60,153.65 L524.10,153.67 L524.60,153.69 L525.10,153.71 L525.60,153.73 L526.10,153.75 L526.60,153.77 L527.10,153.79 L527.60,153.80 L528.10,153.82 L528.60,153.84 L529.10,153.86 L529.60,153.88 L530.10,153.90 L530.60,153.91 L531.10,153.93 L531.60,153.95 L532.10,153.97 L532.60,153.98 L533.10,154.00 L533.60,154.02 L534.10,154.03 L534.60,154.05 L535.10,154.07 L535.60,154.08 L536.10,154.10 L536.60,154.11 L537.10,154.13 L537.60,154.14 L538.10,154.16 L538.60,154.17 L539.10,154.19 L539.60,154.20 L540.10,154.22 L540.60,154.23 L541.10,154.25 L541.60,154.26 L542.10,154.28 L542.60,154.29 L543.10,154.30 L543.60,154.32 L544.10,154.33 L544.60,154.34 L545.10,154.36 L545.60,154.37 L546.10,154.38 L546.60,154.40 L547.10,154.41 L547.60,154.42 L548.10,154.43 L548.60,154.45 L549.10,154.46 L549.60,154.47 L550.10,154.48 L550.60,154.50 L551.10,154.51 L551.60,154.52 L552.10,154.53 L552.60,154.55 L553.10,154.56 L553.60,154.57 L554.10,154.58 L554.60,154.59 L555.10,154.60 L555.60,154.62 L556.10,154.63 L556.60,154.64 L557.10,154.65 L557.60,154.66 L558.10,154.67 L558.60,154.68 L559.10,154.70 L559.60,154.71 L560.10,154.72 L560.60,154.73 L561.10,154.74 L561.60,154.75 L562.10,154.76 L562.60,154.78 L563.10,154.79 L563.60,154.80 L564.10,154.81 L564.60,154.82 L565.10,154.83 L565.60,154.84 L566.10,154.85 L566.60,154.86 L567.10,154.87 L567.60,154.89 L568.10,154.90 L568.60,154.91 L569.10,154.92 L569.60,154.93 L570.10,154.94 L570.60,154.95 L571.10,154.96 L571.60,154.97 L572.10,154.98 L572.60,154.99 L573.10,155.00 L573.60,155.01 L574.10,155.02 L574.60,155.03 L575.10,155.04 L575.60,155.05 L576.10,155.06 L576.60,155.07 L577.10,155.08 L577.60,155.09 L578.10,155.10 L578.60,155.11 L579.10,155.12 L579.60,155.13 L580.10,155.14 L580.60,155.15 L581.10,155.16 L581.60,155.17 L582.10,155.18 L582.60,155.19 L583.10,155.20 L583.60,155.21 L584.10,155.22 L584.60,155.23 L585.10,155.24 L585.60,155.25 L586.10,155.26 L586.60,155.27 L587.10,155.28 L587.60,155.28 L588.10,155.29 L588.60,155.30 L589.10,155.31 L589.60,155.32 L590.10,155.33 L590.60,155.34 L591.10,155.35 L591.60,155.36 L592.10,155.37 L592.60,155.37 L593.10,155.38 L593.60,155.39 L594.10,155.40 L594.60,155.41 L595.10,155.42 L595.60,155.43 L596.10,155.43 L596.60,155.44 L597.10,155.45 L597.60,155.46 L598.10,155.47 L598.60,155.48 L599.10,155.48 L599.60,155.49 L600.10,155.50 L600.60,155.51 L601.10,155.52 L601.60,155.52 L602.10,155.53 L602.60,155.54 L603.10,155.55 L603.60,155.55 L604.10,155.56 L604.60,155.57 L605.10,155.57 L605.60,155.58 L606.10,155.59 L606.60,155.60 L607.10,155.60 L607.60,155.61 L608.10,155.62 L608.60,155.62 L609.10,155.63 L609.60,155.64 L610.10,155.65 L610.60,155.65 L611.10,155.66 L611.60,155.67 L612.10,155.68 L612.60,155.69 L613.10,155.69 L613.60,155.70 L614.10,155.71 L614.60,155.72 L615.10,155.73 L615.60,155.74 L616.10,155.75 L616.60,155.76 L617.10,155.77 L617.60,155.78 L618.10,155.79 L618.60,155.80 L619.10,155.81 L619.60,155.83 L620.10,155.84 L620.60,155.85 L621.10,155.86 L621.60,155.87 L622.10,155.88 L622.60,155.90 L623.10,155.91 L623.60,155.92 L624.10,155.93 L624.60,155.94 L625.10,155.96 L625.60,155.97 L626.10,155.98 L626.60,155.99 L627.10,156.01 L627.60,156.02 L628.10,156.03 L628.60,156.05 L629.10,156.06 L629.60,156.07 L630.10,156.08 L630.60,156.10 L631.10,156.11 L631.60,156.12 L632.10,156.14 L632.60,156.15 L633.10,156.16 L633.60,156.17 L634.10,156.19 L634.60,156.20 L635.10,156.21 L635.60,156.23 L636.10,156.24 L636.60,156.25 L637.10,156.26 L637.60,156.28 L638.10,156.29 L638.60,156.30 L639.10,156.31 L639.60,156.32 L640.10,156.34 L640.60,156.35 L641.10,156.36 L641.60,156.37 L642.10,156.38 L642.60,156.40 L643.10,156.41 L643.60,156.42 L644.10,156.43 L644.60,156.44 L645.10,156.46 L645.60,156.47 L646.10,156.48 L646.60,156.49 L647.10,156.51 L647.60,156.52 L648.10,156.53 L648.60,156.54 L649.10,156.55 L649.60,156.57 L650.10,156.58 L650.60,156.59 L651.10,156.60 L651.60,156.61 L652.10,156.63 L652.60,156.64 L653.10,156.65 L653.60,156.66 L654.10,156.68 L654.60,156.69 L655.10,156.70 L655.60,156.71 L656.10,156.72 L656.60,156.74 L657.10,156.75 L657.60,156.76 L658.10,156.77 L658.60,156.78 L659.10,156.80 L659.60,156.81 L660.10,156.82 L660.60,156.83 L661.10,156.85 L661.60,156.86 L662.10,156.87 L662.60,156.88 L663.10,156.89 L663.60,156.91 L664.10,156.92 L664.60,156.93 L665.10,156.94 L665.60,156.95 L666.10,156.97 L666.60,156.98 L667.10,156.99 L667.40,157.00" stroke="#0072BD" stroke-width="1.6"/>
<line x1="412.8" y1="157.55" x2="667.5" y2="157.55" stroke="#000" stroke-width="2.6" stroke-dasharray="10.2 10.05"/>
<path d="M413.00,104.40 L413.25,104.47 L413.50,104.61 L413.75,104.79 L414.00,105.00 L414.25,105.26 L414.50,105.59 L414.75,106.00 L415.00,106.48 L415.25,107.02 L415.50,107.62 L415.75,108.28 L416.00,109.00 L416.25,109.89 L416.50,111.02 L416.75,112.35 L417.00,113.80 L417.25,115.30 L417.50,116.80 L417.75,118.39 L418.00,120.21 L418.25,122.40 L418.50,125.10 L418.75,129.30 L419.00,135.20 L419.25,143.52 L419.50,151.70 L419.75,158.90 L420.00,165.19 L420.25,170.75 L420.50,175.10 L420.75,178.53 L421.00,181.62 L421.25,184.36 L421.50,186.72 L421.75,188.68 L422.00,190.20 L422.25,191.49 L422.50,192.71 L422.75,193.81 L423.00,194.70 L423.25,195.31 L423.50,195.59 L423.75,195.48 L424.00,195.05 L424.25,194.36 L424.50,193.50 L424.75,192.55 L425.00,191.58 L425.25,190.60 L425.50,189.45 L425.75,188.13 L426.00,186.69 L426.25,185.18 L426.50,183.66 L426.75,182.16 L427.00,180.74 L427.25,179.41 L427.50,178.12 L427.75,176.85 L428.00,175.59 L428.25,174.34 L428.50,173.10 L428.75,171.85 L429.00,170.60 L429.25,169.35 L429.50,168.10 L429.75,166.86 L430.00,165.62 L430.25,164.38 L430.50,163.14 L430.75,161.88 L431.00,160.61 L431.25,159.33 L431.50,158.02 L431.75,156.69 L432.00,155.35 L432.25,154.01 L432.50,152.67 L432.75,151.35 L433.00,150.04 L433.25,148.75 L433.50,147.50 L433.75,146.26 L434.00,145.03 L434.25,143.82 L434.50,142.61 L434.75,141.42 L435.00,140.23 L435.25,139.04 L435.50,137.85 L435.75,136.65 L436.00,135.46 L436.25,134.27 L436.50,133.09 L436.75,131.92 L437.00,130.77 L437.25,129.64 L437.50,128.53 L437.75,127.46 L438.00,126.41 L438.25,125.38 L438.50,124.37 L438.75,123.38 L439.00,122.39 L439.25,121.42 L439.50,120.44 L439.75,119.47 L440.00,118.49 L440.25,117.51 L440.50,116.51 L440.75,115.51 L441.00,114.50 L441.25,113.50 L441.50,112.50 L441.75,111.53 L442.00,110.57 L442.25,109.64 L442.50,108.74 L442.75,107.88 L443.00,107.04 L443.25,106.22 L443.50,105.40 L443.75,104.61 L444.00,103.83 L444.25,103.07 L444.50,102.34 L444.75,101.62 L445.00,100.92 L445.25,100.25 L445.50,99.60 L445.75,98.98 L446.00,98.39 L446.25,97.83 L446.50,97.29 L446.75,96.76 L447.00,96.23 L447.25,95.70 L447.50,95.16 L447.75,94.61 L448.00,94.05 L448.25,93.48 L448.50,92.91 L448.75,92.34 L449.00,91.76 L449.25,91.19 L449.50,90.61 L449.75,90.03 L450.00,89.45 L450.25,88.87 L450.50,88.29 L450.75,87.71 L451.00,87.13 L451.25,86.55 L451.50,85.96 L451.75,85.36 L452.00,84.76 L452.25,84.16 L452.50,83.55 L452.75,82.93 L453.00,82.32 L453.25,81.71 L453.50,81.10 L453.75,80.50 L454.00,79.89 L454.25,79.30 L454.50,78.71 L454.75,78.13 L455.00,77.56 L455.25,77.00 L455.50,76.45 L455.75,75.92 L456.00,75.40 L456.25,74.90 L456.50,74.40 L456.75,73.91 L457.00,73.42 L457.25,72.93 L457.50,72.45 L457.75,71.98 L458.00,71.51 L458.25,71.05 L458.50,70.59 L458.75,70.13 L459.00,69.68 L459.25,69.24 L459.50,68.80 L459.75,68.36 L460.00,67.94 L460.25,67.51 L460.50,67.09 L460.75,66.68 L461.00,66.27 L461.25,65.87 L461.50,65.47 L461.75,65.08 L462.00,64.70 L462.25,64.32 L462.50,63.94 L462.75,63.57 L463.00,63.21 L463.25,62.85 L463.50,62.49 L463.75,62.14 L464.00,61.79 L464.25,61.45 L464.50,61.11 L464.75,60.77 L465.00,60.44 L465.25,60.11 L465.50,59.79 L465.75,59.47 L466.00,59.15 L466.25,58.84 L466.50,58.53 L466.75,58.22 L467.00,57.92 L467.25,57.62 L467.50,57.33 L467.75,57.04 L468.00,56.75 L468.25,56.46 L468.50,56.18 L468.75,55.91 L469.00,55.64 L469.25,55.37 L469.50,55.10 L469.75,54.84 L470.00,54.58 L470.25,54.32 L470.50,54.06 L470.75,53.80 L471.00,53.55 L471.25,53.30 L471.50,53.05 L471.75,52.80 L472.00,52.56 L472.25,52.31 L472.50,52.07 L472.75,51.83 L473.00,51.60 L473.25,51.36 L473.50,51.13 L473.75,50.90 L474.00,50.68 L474.25,50.46 L474.50,50.23 L474.75,50.02 L475.00,49.80 L475.25,49.59 L475.50,49.38 L475.75,49.17 L476.00,48.97 L476.25,48.77 L476.50,48.57 L476.75,48.38 L477.00,48.19 L477.25,48.00 L477.50,47.82 L477.75,47.64 L478.00,47.46 L478.25,47.28 L478.50,47.11 L478.75,46.93 L479.00,46.76 L479.25,46.59 L479.50,46.43 L479.75,46.26 L480.00,46.10 L480.25,45.94 L480.50,45.78 L480.75,45.62 L481.00,45.46 L481.25,45.30 L481.50,45.15 L481.75,45.00 L482.00,44.85 L482.25,44.70 L482.50,44.55 L482.75,44.41 L483.00,44.26 L483.25,44.12 L483.50,43.98 L483.75,43.84 L484.00,43.70 L484.25,43.56 L484.50,43.42 L484.75,43.29 L485.00,43.16 L485.25,43.02 L485.50,42.89 L485.75,42.76 L486.00,42.63 L486.25,42.51 L486.50,42.38 L486.75,42.26 L487.00,42.13 L487.25,42.01 L487.50,41.89 L487.75,41.77 L488.00,41.65 L488.25,41.53 L488.50,41.42 L488.75,41.30 L489.00,41.19 L489.25,41.07 L489.50,40.96 L489.75,40.84 L490.00,40.73 L490.25,40.62 L490.50,40.51 L490.75,40.40 L491.00,40.29 L491.25,40.19 L491.50,40.08 L491.75,39.97 L492.00,39.87 L492.25,39.76 L492.50,39.66 L492.75,39.56 L493.00,39.46 L493.25,39.36 L493.50,39.26 L493.75,39.16 L494.00,39.07 L494.25,38.97 L494.50,38.88 L494.75,38.78 L495.00,38.69 L495.25,38.60 L495.50,38.51 L495.75,38.42 L496.00,38.33 L496.25,38.24 L496.50,38.16 L496.75,38.07 L497.00,37.99 L497.25,37.91 L497.50,37.83 L497.75,37.75 L498.00,37.67 L498.25,37.59 L498.50,37.51 L498.75,37.44 L499.00,37.36 L499.25,37.28 L499.50,37.21 L499.75,37.13 L500.00,37.06 L500.25,36.98 L500.50,36.91 L500.75,36.83 L501.00,36.76 L501.25,36.69 L501.50,36.61 L501.75,36.54 L502.00,36.47 L502.25,36.40 L502.50,36.33 L502.75,36.26 L503.00,36.19 L503.25,36.13 L503.50,36.06 L503.75,35.99 L504.00,35.92 L504.25,35.86 L504.50,35.79 L504.75,35.73 L505.00,35.66 L505.25,35.60 L505.50,35.54 L505.75,35.48 L506.00,35.42 L506.25,35.36 L506.50,35.30 L506.75,35.24 L507.00,35.18 L507.25,35.12 L507.50,35.06 L507.75,35.01 L508.00,34.95 L508.25,34.90 L508.50,34.84 L508.75,34.79 L509.00,34.74 L509.25,34.69 L509.50,34.64 L509.75,34.59 L510.00,34.54 L510.25,34.49 L510.50,34.44 L510.75,34.40 L511.00,34.35 L511.25,34.31 L511.50,34.27 L511.75,34.22 L512.00,34.18 L512.25,34.14 L512.50,34.09 L512.75,34.05 L513.00,34.01 L513.25,33.97 L513.50,33.93 L513.75,33.89 L514.00,33.85 L514.25,33.81 L514.50,33.77 L514.75,33.73 L515.00,33.69 L515.25,33.65 L515.50,33.61 L515.75,33.57 L516.00,33.54 L516.25,33.50 L516.50,33.46 L516.75,33.42 L517.00,33.39 L517.25,33.35 L517.50,33.32 L517.75,33.28 L518.00,33.25 L518.25,33.21 L518.50,33.18 L518.75,33.14 L519.00,33.11 L519.25,33.08 L519.50,33.04 L519.75,33.01 L520.00,32.98 L520.25,32.94 L520.50,32.91 L520.75,32.88 L521.00,32.85 L521.25,32.82 L521.50,32.79 L521.75,32.76 L522.00,32.73 L522.25,32.70 L522.50,32.67 L522.75,32.64 L523.00,32.61 L523.25,32.58 L523.50,32.56 L523.75,32.53 L524.00,32.50 L524.25,32.47 L524.50,32.45 L524.75,32.42 L525.00,32.40 L525.25,32.37 L525.50,32.34 L525.75,32.32 L526.00,32.29 L526.25,32.27 L526.50,32.25 L526.75,32.22 L527.00,32.20 L527.25,32.18 L527.50,32.15 L527.75,32.13 L528.00,32.11 L528.25,32.09 L528.50,32.07 L528.75,32.04 L529.00,32.02 L529.25,32.00 L529.50,31.98 L529.75,31.96 L530.00,31.94 L530.25,31.91 L530.50,31.89 L530.75,31.87 L531.00,31.85 L531.25,31.83 L531.50,31.81 L531.75,31.79 L532.00,31.77 L532.25,31.75 L532.50,31.73 L532.75,31.71 L533.00,31.69 L533.25,31.67 L533.50,31.65 L533.75,31.63 L534.00,31.61 L534.25,31.59 L534.50,31.57 L534.75,31.55 L535.00,31.53 L535.25,31.51 L535.50,31.49 L535.75,31.47 L536.00,31.45 L536.25,31.43 L536.50,31.42 L536.75,31.40 L537.00,31.38 L537.25,31.36 L537.50,31.34 L537.75,31.33 L538.00,31.31 L538.25,31.29 L538.50,31.27 L538.75,31.26 L539.00,31.24 L539.25,31.22 L539.50,31.21 L539.75,31.19 L540.00,31.17 L540.25,31.16 L540.50,31.14 L540.75,31.13 L541.00,31.11 L541.25,31.09 L541.50,31.08 L541.75,31.06 L542.00,31.05 L542.25,31.04 L542.50,31.02 L542.75,31.01 L543.00,30.99 L543.25,30.98 L543.50,30.97 L543.75,30.95 L544.00,30.94 L544.25,30.93 L544.50,30.91 L544.75,30.90 L545.00,30.89 L545.25,30.88 L545.50,30.87 L545.75,30.86 L546.00,30.84 L546.25,30.83 L546.50,30.82 L546.75,30.81 L547.00,30.80 L547.25,30.79 L547.50,30.78 L547.75,30.77 L548.00,30.76 L548.25,30.75 L548.50,30.75 L548.75,30.74 L549.00,30.73 L549.25,30.72 L549.50,30.71 L549.75,30.71 L550.00,30.70 L550.25,30.69 L550.50,30.69 L550.75,30.68 L551.00,30.67 L551.25,30.67 L551.50,30.66 L551.75,30.65 L552.00,30.65 L552.25,30.64 L552.50,30.63 L552.75,30.63 L553.00,30.62 L553.25,30.61 L553.50,30.61 L553.75,30.60 L554.00,30.59 L554.25,30.59 L554.50,30.58 L554.75,30.58 L555.00,30.57 L555.25,30.56 L555.50,30.56 L555.75,30.55 L556.00,30.55 L556.25,30.54 L556.50,30.53 L556.75,30.53 L557.00,30.52 L557.25,30.52 L557.50,30.51 L557.75,30.50 L558.00,30.50 L558.25,30.49 L558.50,30.49 L558.75,30.48 L559.00,30.48 L559.25,30.47 L559.50,30.47 L559.75,30.46 L560.00,30.45 L560.25,30.45 L560.50,30.44 L560.75,30.44 L561.00,30.43 L561.25,30.43 L561.50,30.42 L561.75,30.42 L562.00,30.41 L562.25,30.41 L562.50,30.40 L562.75,30.40 L563.00,30.39 L563.25,30.39 L563.50,30.38 L563.75,30.38 L564.00,30.38 L564.25,30.37 L564.50,30.37 L564.75,30.36 L565.00,30.36 L565.25,30.35 L565.50,30.35 L565.75,30.34 L566.00,30.34 L566.25,30.34 L566.50,30.33 L566.75,30.33 L567.00,30.32 L567.25,30.32 L567.50,30.32 L567.75,30.31 L568.00,30.31 L568.25,30.30 L568.50,30.30 L568.75,30.30 L569.00,30.29 L569.25,30.29 L569.50,30.29 L569.75,30.28 L570.00,30.28 L570.25,30.28 L570.50,30.27 L570.75,30.27 L571.00,30.27 L571.25,30.26 L571.50,30.26 L571.75,30.26 L572.00,30.26 L572.25,30.25 L572.50,30.25 L572.75,30.25 L573.00,30.25 L573.25,30.24 L573.50,30.24 L573.75,30.24 L574.00,30.24 L574.25,30.23 L574.50,30.23 L574.75,30.23 L575.00,30.23 L575.25,30.22 L575.50,30.22 L575.75,30.22 L576.00,30.22 L576.25,30.22 L576.50,30.22 L576.75,30.21 L577.00,30.21 L577.25,30.21 L577.50,30.21 L577.75,30.21 L578.00,30.21 L578.25,30.21 L578.50,30.21 L578.75,30.20 L579.00,30.20 L579.25,30.20 L579.50,30.20 L579.75,30.20 L580.00,30.20 L580.25,30.20 L580.50,30.20 L580.75,30.20 L581.00,30.20 L581.25,30.20 L581.50,30.20 L581.75,30.20 L582.00,30.20 L582.25,30.19 L582.50,30.19 L582.75,30.19 L583.00,30.19 L583.25,30.19 L583.50,30.19 L583.75,30.19 L584.00,30.19 L584.25,30.19 L584.50,30.19 L584.75,30.19 L585.00,30.19 L585.25,30.19 L585.50,30.19 L585.75,30.19 L586.00,30.19 L586.25,30.19 L586.50,30.18 L586.75,30.18 L587.00,30.18 L587.25,30.18 L587.50,30.18 L587.75,30.18 L588.00,30.18 L588.25,30.18 L588.50,30.18 L588.75,30.18 L589.00,30.18 L589.25,30.18 L589.50,30.18 L589.75,30.18 L590.00,30.18 L590.25,30.18 L590.50,30.18 L590.75,30.18 L591.00,30.17 L591.25,30.17 L591.50,30.17 L591.75,30.17 L592.00,30.17 L592.25,30.17 L592.50,30.17 L592.75,30.17 L593.00,30.17 L593.25,30.17 L593.50,30.17 L593.75,30.17 L594.00,30.17 L594.25,30.17 L594.50,30.17 L594.75,30.17 L595.00,30.17 L595.25,30.17 L595.50,30.17 L595.75,30.17 L596.00,30.16 L596.25,30.16 L596.50,30.16 L596.75,30.16 L597.00,30.16 L597.25,30.16 L597.50,30.16 L597.75,30.16 L598.00,30.16 L598.25,30.16 L598.50,30.16 L598.75,30.16 L599.00,30.16 L599.25,30.16 L599.50,30.16 L599.75,30.16 L600.00,30.16 L600.25,30.16 L600.50,30.16 L600.75,30.16 L601.00,30.16 L601.25,30.15 L601.50,30.15 L601.75,30.15 L602.00,30.15 L602.25,30.15 L602.50,30.15 L602.75,30.15 L603.00,30.15 L603.25,30.15 L603.50,30.15 L603.75,30.15 L604.00,30.15 L604.25,30.15 L604.50,30.15 L604.75,30.15 L605.00,30.15 L605.25,30.15 L605.50,30.15 L605.75,30.15 L606.00,30.15 L606.25,30.15 L606.50,30.15 L606.75,30.15 L607.00,30.15 L607.25,30.14 L607.50,30.14 L607.75,30.14 L608.00,30.14 L608.25,30.14 L608.50,30.14 L608.75,30.14 L609.00,30.14 L609.25,30.14 L609.50,30.14 L609.75,30.14 L610.00,30.14 L610.25,30.14 L610.50,30.14 L610.75,30.14 L611.00,30.14 L611.25,30.14 L611.50,30.14 L611.75,30.14 L612.00,30.14 L612.25,30.14 L612.50,30.14 L612.75,30.14 L613.00,30.14 L613.25,30.14 L613.50,30.14 L613.75,30.14 L614.00,30.13 L614.25,30.13 L614.50,30.13 L614.75,30.13 L615.00,30.13 L615.25,30.13 L615.50,30.13 L615.75,30.13 L616.00,30.13 L616.25,30.13 L616.50,30.13 L616.75,30.13 L617.00,30.13 L617.25,30.13 L617.50,30.13 L617.75,30.13 L618.00,30.13 L618.25,30.13 L618.50,30.13 L618.75,30.13 L619.00,30.13 L619.25,30.13 L619.50,30.13 L619.75,30.13 L620.00,30.13 L620.25,30.13 L620.50,30.13 L620.75,30.13 L621.00,30.13 L621.25,30.13 L621.50,30.13 L621.75,30.12 L622.00,30.12 L622.25,30.12 L622.50,30.12 L622.75,30.12 L623.00,30.12 L623.25,30.12 L623.50,30.12 L623.75,30.12 L624.00,30.12 L624.25,30.12 L624.50,30.12 L624.75,30.12 L625.00,30.12 L625.25,30.12 L625.50,30.12 L625.75,30.12 L626.00,30.12 L626.25,30.12 L626.50,30.12 L626.75,30.12 L627.00,30.12 L627.25,30.12 L627.50,30.12 L627.75,30.12 L628.00,30.12 L628.25,30.12 L628.50,30.12 L628.75,30.12 L629.00,30.12 L629.25,30.12 L629.50,30.12 L629.75,30.12 L630.00,30.12 L630.25,30.12 L630.50,30.12 L630.75,30.12 L631.00,30.12 L631.25,30.12 L631.50,30.12 L631.75,30.11 L632.00,30.11 L632.25,30.11 L632.50,30.11 L632.75,30.11 L633.00,30.11 L633.25,30.11 L633.50,30.11 L633.75,30.11 L634.00,30.11 L634.25,30.11 L634.50,30.11 L634.75,30.11 L635.00,30.11 L635.25,30.11 L635.50,30.11 L635.75,30.11 L636.00,30.11 L636.25,30.11 L636.50,30.11 L636.75,30.11 L637.00,30.11 L637.25,30.11 L637.50,30.11 L637.75,30.11 L638.00,30.11 L638.25,30.11 L638.50,30.11 L638.75,30.11 L639.00,30.11 L639.25,30.11 L639.50,30.11 L639.75,30.11 L640.00,30.11 L640.25,30.11 L640.50,30.11 L640.75,30.11 L641.00,30.11 L641.25,30.11 L641.50,30.11 L641.75,30.11 L642.00,30.11 L642.25,30.11 L642.50,30.11 L642.75,30.11 L643.00,30.11 L643.25,30.11 L643.50,30.11 L643.75,30.11 L644.00,30.11 L644.25,30.11 L644.50,30.11 L644.75,30.11 L645.00,30.11 L645.25,30.11 L645.50,30.11 L645.75,30.11 L646.00,30.11 L646.25,30.11 L646.50,30.10 L646.75,30.10 L647.00,30.10 L647.25,30.10 L647.50,30.10 L647.75,30.10 L648.00,30.10 L648.25,30.10 L648.50,30.10 L648.75,30.10 L649.00,30.10 L649.25,30.10 L649.50,30.10 L649.75,30.10 L650.00,30.10 L650.25,30.10 L650.50,30.10 L650.75,30.10 L651.00,30.10 L651.25,30.10 L651.50,30.10 L651.75,30.10 L652.00,30.10 L652.25,30.10 L652.50,30.10 L652.75,30.10 L653.00,30.10 L653.25,30.10 L653.50,30.10 L653.75,30.10 L654.00,30.10 L654.25,30.10 L654.50,30.10 L654.75,30.10 L655.00,30.10 L655.25,30.10 L655.50,30.10 L655.75,30.10 L656.00,30.10 L656.25,30.10 L656.50,30.10 L656.75,30.10 L657.00,30.10 L657.25,30.10 L657.50,30.10 L657.75,30.10 L658.00,30.10 L658.25,30.10 L658.50,30.10 L658.75,30.10 L659.00,30.10 L659.25,30.10 L659.50,30.10 L659.75,30.10 L660.00,30.10 L660.25,30.10 L660.50,30.10 L660.75,30.10 L661.00,30.10 L661.25,30.10 L661.50,30.10 L661.75,30.10 L662.00,30.10 L662.25,30.10 L662.50,30.10 L662.75,30.10 L663.00,30.10 L663.25,30.10 L663.50,30.10 L663.75,30.10 L664.00,30.10 L664.25,30.10 L664.50,30.10 L664.75,30.10 L665.00,30.10 L665.25,30.10 L665.50,30.10 L665.75,30.10 L666.00,30.10 L666.25,30.10 L666.50,30.10 L666.75,30.10 L667.00,30.10 L667.25,30.10 L667.50,30.10" stroke="#0072BD" stroke-width="2.7" stroke-dasharray="2.7 2.38" stroke-dashoffset="0"/>
<path d="M413.00,211.10 L413.25,208.93 L413.50,206.56 L413.75,204.01 L414.00,201.31 L414.25,198.46 L414.50,195.50 L414.75,192.41 L415.00,189.13 L415.25,185.58 L415.50,181.68 L415.75,177.28 L416.00,172.15 L416.25,166.52 L416.50,160.49 L416.75,153.57 L417.00,147.20 L417.25,142.39 L417.50,137.97 L417.75,132.64 L418.00,126.54 L418.25,120.95 L418.50,115.93 L418.75,112.78 L419.00,111.20 L419.25,112.52 L419.50,115.33 L419.75,120.50 L420.00,126.42 L420.25,133.16 L420.50,139.29 L420.75,144.58 L421.00,150.00 L421.25,156.21 L421.50,162.60 L421.75,168.45 L422.00,173.96 L422.25,178.95 L422.50,183.53 L422.75,187.76 L423.00,191.50 L423.25,194.86 L423.50,197.95 L423.75,200.72 L424.00,203.10 L424.25,205.21 L424.50,207.19 L424.75,209.01 L425.00,210.63 L425.25,212.00 L425.50,213.10 L425.75,214.01 L426.00,214.85 L426.25,215.61 L426.50,216.30 L426.75,216.90 L427.00,217.43 L427.25,217.86 L427.50,218.20 L427.75,218.49 L428.00,218.76 L428.25,219.01 L428.50,219.25 L428.75,219.48 L429.00,219.68 L429.25,219.87 L429.50,220.04 L429.75,220.20 L430.00,220.34 L430.25,220.46 L430.50,220.56 L430.75,220.64 L431.00,220.70 L431.25,220.75 L431.50,220.80 L431.75,220.85 L432.00,220.89 L432.25,220.94 L432.50,220.98 L432.75,221.02 L433.00,221.05 L433.25,221.09 L433.50,221.12 L433.75,221.15 L434.00,221.17 L434.25,221.20 L434.50,221.22 L434.75,221.24 L435.00,221.26 L435.25,221.27 L435.50,221.28 L435.75,221.29 L436.00,221.30 L436.25,221.30 L436.50,221.31 L436.75,221.31 L437.00,221.31 L437.25,221.32 L437.50,221.32 L437.75,221.32 L438.00,221.33 L438.25,221.33 L438.50,221.33 L438.75,221.34 L439.00,221.34 L439.25,221.34 L439.50,221.35 L439.75,221.35 L440.00,221.35 L440.25,221.35 L440.50,221.36 L440.75,221.36 L441.00,221.36 L441.25,221.36 L441.50,221.37 L441.75,221.37 L442.00,221.37 L442.25,221.37 L442.50,221.37 L442.75,221.38 L443.00,221.38 L443.25,221.38 L443.50,221.38 L443.75,221.38 L444.00,221.38 L444.25,221.38 L444.50,221.39 L444.75,221.39 L445.00,221.39 L445.25,221.39 L445.50,221.39 L445.75,221.39 L446.00,221.39 L446.25,221.39 L446.50,221.39 L446.75,221.39 L447.00,221.39 L447.25,221.40 L447.50,221.40 L447.75,221.40 L448.00,221.40 L448.25,221.40 L448.50,221.40 L448.75,221.40 L449.00,221.40 L449.25,221.40 L449.50,221.40 L449.75,221.40 L450.00,221.40 L450.25,221.40 L450.50,221.40 L450.75,221.40 L451.00,221.40 L451.25,221.39 L451.50,221.39 L451.75,221.39 L452.00,221.39 L452.25,221.39 L452.50,221.39 L452.75,221.39 L453.00,221.39 L453.25,221.39 L453.50,221.39 L453.75,221.38 L454.00,221.38 L454.25,221.38 L454.50,221.38 L454.75,221.38 L455.00,221.38 L455.25,221.38 L455.50,221.37 L455.75,221.37 L456.00,221.37 L456.25,221.37 L456.50,221.37 L456.75,221.36 L457.00,221.36 L457.25,221.36 L457.50,221.36 L457.75,221.36 L458.00,221.35 L458.25,221.35 L458.50,221.35 L458.75,221.35 L459.00,221.34 L459.25,221.34 L459.50,221.34 L459.75,221.34 L460.00,221.33 L460.25,221.33 L460.50,221.33 L460.75,221.32 L461.00,221.32 L461.25,221.32 L461.50,221.32 L461.75,221.31 L462.00,221.31 L462.25,221.31 L462.50,221.30 L462.75,221.30 L463.00,221.30 L463.25,221.29 L463.50,221.29 L463.75,221.29 L464.00,221.28 L464.25,221.28 L464.50,221.28 L464.75,221.27 L465.00,221.27 L465.25,221.27 L465.50,221.26 L465.75,221.26 L466.00,221.26 L466.25,221.25 L466.50,221.25 L466.75,221.25 L467.00,221.24 L467.25,221.24 L467.50,221.24 L467.75,221.23 L468.00,221.23 L468.25,221.22 L468.50,221.22 L468.75,221.22 L469.00,221.21 L469.25,221.21 L469.50,221.21 L469.75,221.20 L470.00,221.20 L470.25,221.20 L470.50,221.19 L470.75,221.19 L471.00,221.18 L471.25,221.18 L471.50,221.18 L471.75,221.17 L472.00,221.17 L472.25,221.16 L472.50,221.16 L472.75,221.16 L473.00,221.15 L473.25,221.15 L473.50,221.14 L473.75,221.14 L474.00,221.14 L474.25,221.13 L474.50,221.13 L474.75,221.12 L475.00,221.12 L475.25,221.11 L475.50,221.11 L475.75,221.11 L476.00,221.10 L476.25,221.10 L476.50,221.09 L476.75,221.09 L477.00,221.08 L477.25,221.08 L477.50,221.07 L477.75,221.07 L478.00,221.06 L478.25,221.06 L478.50,221.05 L478.75,221.05 L479.00,221.04 L479.25,221.03 L479.50,221.03 L479.75,221.02 L480.00,221.02 L480.25,221.01 L480.50,221.01 L480.75,221.00 L481.00,220.99 L481.25,220.99 L481.50,220.98 L481.75,220.97 L482.00,220.97 L482.25,220.96 L482.50,220.95 L482.75,220.95 L483.00,220.94 L483.25,220.93 L483.50,220.92 L483.75,220.92 L484.00,220.91 L484.25,220.90 L484.50,220.89 L484.75,220.89 L485.00,220.88 L485.25,220.87 L485.50,220.86 L485.75,220.85 L486.00,220.84 L486.25,220.83 L486.50,220.82 L486.75,220.81 L487.00,220.80 L487.25,220.79 L487.50,220.78 L487.75,220.77 L488.00,220.76 L488.25,220.75 L488.50,220.73 L488.75,220.72 L489.00,220.71 L489.25,220.69 L489.50,220.68 L489.75,220.66 L490.00,220.65 L490.25,220.63 L490.50,220.62 L490.75,220.60 L491.00,220.58 L491.25,220.56 L491.50,220.54 L491.75,220.52 L492.00,220.50 L492.25,220.48 L492.50,220.46 L492.75,220.43 L493.00,220.41 L493.25,220.39 L493.50,220.36 L493.75,220.34 L494.00,220.31 L494.25,220.28 L494.50,220.26 L494.75,220.23 L495.00,220.20 L495.25,220.17 L495.50,220.15 L495.75,220.12 L496.00,220.09 L496.25,220.06 L496.50,220.03 L496.75,220.00 L497.00,219.97 L497.25,219.94 L497.50,219.91 L497.75,219.88 L498.00,219.85 L498.25,219.82 L498.50,219.79 L498.75,219.77 L499.00,219.74 L499.25,219.71 L499.50,219.68 L499.75,219.65 L500.00,219.62 L500.25,219.59 L500.50,219.56 L500.75,219.54 L501.00,219.51 L501.25,219.48 L501.50,219.45 L501.75,219.43 L502.00,219.40 L502.25,219.37 L502.50,219.34 L502.75,219.32 L503.00,219.29 L503.25,219.26 L503.50,219.24 L503.75,219.21 L504.00,219.18 L504.25,219.16 L504.50,219.13 L504.75,219.11 L505.00,219.08 L505.25,219.05 L505.50,219.03 L505.75,219.00 L506.00,218.97 L506.25,218.95 L506.50,218.92 L506.75,218.90 L507.00,218.87 L507.25,218.84 L507.50,218.82 L507.75,218.79 L508.00,218.76 L508.25,218.74 L508.50,218.71 L508.75,218.68 L509.00,218.66 L509.25,218.63 L509.50,218.60 L509.75,218.57 L510.00,218.55 L510.25,218.52 L510.50,218.49 L510.75,218.46 L511.00,218.44 L511.25,218.41 L511.50,218.38 L511.75,218.35 L512.00,218.32 L512.25,218.29 L512.50,218.26 L512.75,218.23 L513.00,218.20 L513.25,218.17 L513.50,218.14 L513.75,218.11 L514.00,218.08 L514.25,218.05 L514.50,218.02 L514.75,217.99 L515.00,217.96 L515.25,217.93 L515.50,217.90 L515.75,217.86 L516.00,217.83 L516.25,217.80 L516.50,217.77 L516.75,217.73 L517.00,217.70 L517.25,217.67 L517.50,217.63 L517.75,217.60 L518.00,217.57 L518.25,217.53 L518.50,217.50 L518.75,217.46 L519.00,217.43 L519.25,217.40 L519.50,217.36 L519.75,217.33 L520.00,217.29 L520.25,217.25 L520.50,217.22 L520.75,217.18 L521.00,217.15 L521.25,217.11 L521.50,217.08 L521.75,217.04 L522.00,217.00 L522.25,216.97 L522.50,216.93 L522.75,216.89 L523.00,216.86 L523.25,216.82 L523.50,216.78 L523.75,216.74 L524.00,216.71 L524.25,216.67 L524.50,216.63 L524.75,216.59 L525.00,216.56 L525.25,216.52 L525.50,216.48 L525.75,216.44 L526.00,216.40 L526.25,216.37 L526.50,216.33 L526.75,216.29 L527.00,216.25 L527.25,216.21 L527.50,216.17 L527.75,216.13 L528.00,216.09 L528.25,216.06 L528.50,216.02 L528.75,215.98 L529.00,215.94 L529.25,215.90 L529.50,215.86 L529.75,215.82 L530.00,215.78 L530.25,215.74 L530.50,215.70 L530.75,215.66 L531.00,215.62 L531.25,215.58 L531.50,215.54 L531.75,215.50 L532.00,215.46 L532.25,215.42 L532.50,215.38 L532.75,215.33 L533.00,215.29 L533.25,215.25 L533.50,215.21 L533.75,215.17 L534.00,215.13 L534.25,215.08 L534.50,215.04 L534.75,215.00 L535.00,214.96 L535.25,214.91 L535.50,214.87 L535.75,214.83 L536.00,214.79 L536.25,214.74 L536.50,214.70 L536.75,214.65 L537.00,214.61 L537.25,214.57 L537.50,214.52 L537.75,214.48 L538.00,214.43 L538.25,214.39 L538.50,214.34 L538.75,214.30 L539.00,214.25 L539.25,214.20 L539.50,214.16 L539.75,214.11 L540.00,214.07 L540.25,214.02 L540.50,213.97 L540.75,213.92 L541.00,213.88 L541.25,213.83 L541.50,213.78 L541.75,213.73 L542.00,213.68 L542.25,213.64 L542.50,213.59 L542.75,213.54 L543.00,213.49 L543.25,213.44 L543.50,213.39 L543.75,213.34 L544.00,213.29 L544.25,213.24 L544.50,213.19 L544.75,213.14 L545.00,213.09 L545.25,213.03 L545.50,212.98 L545.75,212.93 L546.00,212.88 L546.25,212.83 L546.50,212.77 L546.75,212.72 L547.00,212.67 L547.25,212.61 L547.50,212.56 L547.75,212.50 L548.00,212.45 L548.25,212.39 L548.50,212.34 L548.75,212.28 L549.00,212.23 L549.25,212.17 L549.50,212.11 L549.75,212.06 L550.00,212.00 L550.25,211.94 L550.50,211.88 L550.75,211.82 L551.00,211.76 L551.25,211.70 L551.50,211.64 L551.75,211.58 L552.00,211.52 L552.25,211.45 L552.50,211.39 L552.75,211.33 L553.00,211.26 L553.25,211.20 L553.50,211.13 L553.75,211.07 L554.00,211.00 L554.25,210.93 L554.50,210.86 L554.75,210.79 L555.00,210.72 L555.25,210.65 L555.50,210.58 L555.75,210.51 L556.00,210.44 L556.25,210.36 L556.50,210.29 L556.75,210.21 L557.00,210.14 L557.25,210.06 L557.50,209.98 L557.75,209.90 L558.00,209.82 L558.25,209.74 L558.50,209.66 L558.75,209.58 L559.00,209.49 L559.25,209.41 L559.50,209.32 L559.75,209.24 L560.00,209.15 L560.25,209.06 L560.50,208.97 L560.75,208.88 L561.00,208.79 L561.25,208.70 L561.50,208.61 L561.75,208.52 L562.00,208.43 L562.25,208.33 L562.50,208.24 L562.75,208.14 L563.00,208.05 L563.25,207.95 L563.50,207.85 L563.75,207.76 L564.00,207.66 L564.25,207.56 L564.50,207.46 L564.75,207.36 L565.00,207.26 L565.25,207.16 L565.50,207.06 L565.75,206.96 L566.00,206.86 L566.25,206.75 L566.50,206.65 L566.75,206.55 L567.00,206.45 L567.25,206.34 L567.50,206.24 L567.75,206.13 L568.00,206.03 L568.25,205.92 L568.50,205.82 L568.75,205.71 L569.00,205.61 L569.25,205.50 L569.50,205.39 L569.75,205.28 L570.00,205.18 L570.25,205.07 L570.50,204.96 L570.75,204.85 L571.00,204.74 L571.25,204.63 L571.50,204.52 L571.75,204.41 L572.00,204.30 L572.25,204.19 L572.50,204.08 L572.75,203.96 L573.00,203.85 L573.25,203.74 L573.50,203.62 L573.75,203.51 L574.00,203.39 L574.25,203.28 L574.50,203.16 L574.75,203.05 L575.00,202.93 L575.25,202.81 L575.50,202.69 L575.75,202.57 L576.00,202.45 L576.25,202.33 L576.50,202.21 L576.75,202.09 L577.00,201.97 L577.25,201.84 L577.50,201.72 L577.75,201.60 L578.00,201.47 L578.25,201.35 L578.50,201.22 L578.75,201.09 L579.00,200.96 L579.25,200.83 L579.50,200.70 L579.75,200.57 L580.00,200.44 L580.25,200.31 L580.50,200.18 L580.75,200.04 L581.00,199.91 L581.25,199.77 L581.50,199.64 L581.75,199.50 L582.00,199.36 L582.25,199.22 L582.50,199.08 L582.75,198.94 L583.00,198.79 L583.25,198.65 L583.50,198.51 L583.75,198.36 L584.00,198.21 L584.25,198.06 L584.50,197.92 L584.75,197.77 L585.00,197.61 L585.25,197.46 L585.50,197.31 L585.75,197.15 L586.00,197.00 L586.25,196.84 L586.50,196.69 L586.75,196.53 L587.00,196.37 L587.25,196.21 L587.50,196.05 L587.75,195.89 L588.00,195.72 L588.25,195.56 L588.50,195.40 L588.75,195.23 L589.00,195.07 L589.25,194.90 L589.50,194.73 L589.75,194.57 L590.00,194.40 L590.25,194.23 L590.50,194.06 L590.75,193.89 L591.00,193.72 L591.25,193.55 L591.50,193.38 L591.75,193.21 L592.00,193.04 L592.25,192.87 L592.50,192.69 L592.75,192.52 L593.00,192.35 L593.25,192.18 L593.50,192.00 L593.75,191.83 L594.00,191.65 L594.25,191.48 L594.50,191.30 L594.75,191.13 L595.00,190.95 L595.25,190.78 L595.50,190.60 L595.75,190.43 L596.00,190.25 L596.25,190.07 L596.50,189.89 L596.75,189.72 L597.00,189.54 L597.25,189.36 L597.50,189.18 L597.75,189.00 L598.00,188.82 L598.25,188.64 L598.50,188.45 L598.75,188.27 L599.00,188.09 L599.25,187.90 L599.50,187.72 L599.75,187.53 L600.00,187.35 L600.25,187.16 L600.50,186.97 L600.75,186.78 L601.00,186.59 L601.25,186.40 L601.50,186.21 L601.75,186.02 L602.00,185.82 L602.25,185.63 L602.50,185.43 L602.75,185.23 L603.00,185.04 L603.25,184.84 L603.50,184.64 L603.75,184.44 L604.00,184.23 L604.25,184.03 L604.50,183.83 L604.75,183.62 L605.00,183.41 L605.25,183.21 L605.50,183.00 L605.75,182.79 L606.00,182.58 L606.25,182.37 L606.50,182.16 L606.75,181.95 L607.00,181.73 L607.25,181.52 L607.50,181.30 L607.75,181.09 L608.00,180.87 L608.25,180.65 L608.50,180.44 L608.75,180.22 L609.00,180.00 L609.25,179.78 L609.50,179.56 L609.75,179.34 L610.00,179.12 L610.25,178.90 L610.50,178.67 L610.75,178.45 L611.00,178.23 L611.25,178.00 L611.50,177.78 L611.75,177.55 L612.00,177.33 L612.25,177.10 L612.50,176.88 L612.75,176.65 L613.00,176.42 L613.25,176.20 L613.50,175.97 L613.75,175.74 L614.00,175.51 L614.25,175.29 L614.50,175.06 L614.75,174.83 L615.00,174.60 L615.25,174.37 L615.50,174.14 L615.75,173.91 L616.00,173.68 L616.25,173.46 L616.50,173.23 L616.75,173.00 L617.00,172.77 L617.25,172.54 L617.50,172.31 L617.75,172.08 L618.00,171.86 L618.25,171.63 L618.50,171.40 L618.75,171.17 L619.00,170.95 L619.25,170.72 L619.50,170.49 L619.75,170.26 L620.00,170.04 L620.25,169.81 L620.50,169.59 L620.75,169.36 L621.00,169.14 L621.25,168.91 L621.50,168.69 L621.75,168.46 L622.00,168.24 L622.25,168.01 L622.50,167.79 L622.75,167.57 L623.00,167.34 L623.25,167.12 L623.50,166.90 L623.75,166.68 L624.00,166.45 L624.25,166.23 L624.50,166.01 L624.75,165.79 L625.00,165.57 L625.25,165.36 L625.50,165.14 L625.75,164.92 L626.00,164.70 L626.25,164.49 L626.50,164.27 L626.75,164.06 L627.00,163.85 L627.25,163.64 L627.50,163.43 L627.75,163.22 L628.00,163.01 L628.25,162.80 L628.50,162.60 L628.75,162.39 L629.00,162.19 L629.25,161.99 L629.50,161.78 L629.75,161.58 L630.00,161.39 L630.25,161.19 L630.50,160.99 L630.75,160.80 L631.00,160.61 L631.25,160.42 L631.50,160.23 L631.75,160.04 L632.00,159.85 L632.25,159.66 L632.50,159.48 L632.75,159.29 L633.00,159.11 L633.25,158.92 L633.50,158.74 L633.75,158.56 L634.00,158.38 L634.25,158.20 L634.50,158.02 L634.75,157.84 L635.00,157.66 L635.25,157.48 L635.50,157.31 L635.75,157.13 L636.00,156.95 L636.25,156.78 L636.50,156.60 L636.75,156.42 L637.00,156.25 L637.25,156.07 L637.50,155.89 L637.75,155.72 L638.00,155.54 L638.25,155.37 L638.50,155.19 L638.75,155.01 L639.00,154.84 L639.25,154.66 L639.50,154.49 L639.75,154.31 L640.00,154.14 L640.25,153.97 L640.50,153.79 L640.75,153.62 L641.00,153.44 L641.25,153.27 L641.50,153.10 L641.75,152.93 L642.00,152.76 L642.25,152.59 L642.50,152.42 L642.75,152.25 L643.00,152.08 L643.25,151.91 L643.50,151.75 L643.75,151.58 L644.00,151.41 L644.25,151.25 L644.50,151.09 L644.75,150.92 L645.00,150.76 L645.25,150.60 L645.50,150.44 L645.75,150.28 L646.00,150.12 L646.25,149.97 L646.50,149.81 L646.75,149.66 L647.00,149.50 L647.25,149.35 L647.50,149.20 L647.75,149.05 L648.00,148.90 L648.25,148.75 L648.50,148.60 L648.75,148.45 L649.00,148.31 L649.25,148.16 L649.50,148.02 L649.75,147.88 L650.00,147.74 L650.25,147.60 L650.50,147.46 L650.75,147.32 L651.00,147.19 L651.25,147.05 L651.50,146.92 L651.75,146.79 L652.00,146.65 L652.25,146.52 L652.50,146.40 L652.75,146.27 L653.00,146.14 L653.25,146.02 L653.50,145.90 L653.75,145.77 L654.00,145.65 L654.25,145.53 L654.50,145.41 L654.75,145.30 L655.00,145.18 L655.25,145.07 L655.50,144.95 L655.75,144.84 L656.00,144.73 L656.25,144.62 L656.50,144.51 L656.75,144.40 L657.00,144.30 L657.25,144.19 L657.50,144.09 L657.75,143.99 L658.00,143.89 L658.25,143.79 L658.50,143.69 L658.75,143.59 L659.00,143.49 L659.25,143.40 L659.50,143.30 L659.75,143.21 L660.00,143.12 L660.25,143.03 L660.50,142.94 L660.75,142.85 L661.00,142.77 L661.25,142.68 L661.50,142.60 L661.75,142.51 L662.00,142.43 L662.25,142.34 L662.50,142.26 L662.75,142.18 L663.00,142.10 L663.25,142.02 L663.50,141.95 L663.75,141.87 L664.00,141.79 L664.25,141.72 L664.50,141.65 L664.75,141.57 L665.00,141.50 L665.25,141.43 L665.50,141.36 L665.75,141.29 L666.00,141.22 L666.25,141.15 L666.50,141.08 L666.75,141.01 L667.00,140.94 L667.25,140.87 L667.50,140.80" stroke="#D95319" stroke-width="1.65"/>
</g>
<text transform="translate(408.20,34.90) scale(0.91,1)" font-size="16.0" text-anchor="end" fill="#0072BD" font-weight="normal" >100</text>
<text transform="translate(408.20,131.20) scale(0.91,1)" font-size="16.0" text-anchor="end" fill="#0072BD" font-weight="normal" >50</text>
<text transform="translate(408.20,227.50) scale(0.91,1)" font-size="16.0" text-anchor="end" fill="#0072BD" font-weight="normal" >0</text>
<text transform="translate(672.10,34.65) scale(0.87,1)" font-size="16.0" text-anchor="start" fill="#D95319" font-weight="normal" >0.2</text>
<text transform="translate(672.10,130.95) scale(0.87,1)" font-size="16.0" text-anchor="start" fill="#D95319" font-weight="normal" >0.1</text>
<text transform="translate(672.10,227.20) scale(0.87,1)" font-size="16.0" text-anchor="start" fill="#D95319" font-weight="normal" >0</text>
<text transform="translate(412.70,240.70) scale(0.945,1)" font-size="16.0" text-anchor="middle" fill="#262626" font-weight="normal" >0</text>
<text transform="translate(497.60,240.70) scale(0.945,1)" font-size="16.0" text-anchor="middle" fill="#262626" font-weight="normal" >365</text>
<text transform="translate(582.40,240.70) scale(0.945,1)" font-size="16.0" text-anchor="middle" fill="#262626" font-weight="normal" >730</text>
<text transform="translate(667.50,240.70) scale(0.945,1)" font-size="16.0" text-anchor="middle" fill="#262626" font-weight="normal" >1095</text>
<text transform="translate(540.80,261.40) scale(1,1)" font-size="17.0" text-anchor="middle" fill="#262626" font-weight="normal" textLength="40.0" lengthAdjust="spacingAndGlyphs">Days</text>
<text transform="translate(377.30,127.60) rotate(-90)" font-size="17.6" text-anchor="middle" fill="#0072BD" textLength="184.3" lengthAdjust="spacingAndGlyphs">Susceptible/Activity (%)</text>
<text transform="translate(710.50,126.40) rotate(-90)" font-size="17.6" text-anchor="middle" fill="#D95319" textLength="89.1" lengthAdjust="spacingAndGlyphs">Infected (%)</text>
<text transform="translate(540.5,16.3) scale(0.91,1)" font-size="16.0" font-weight="bold" text-anchor="middle" fill="#000" textLength="216.48" lengthAdjust="spacingAndGlyphs"><tspan>Moderate Vacc., T</tspan><tspan font-size="11.20" dy="6.80">2</tspan><tspan dy="-6.80"> &lt; v &lt; T</tspan><tspan font-size="11.20" dy="6.80">1</tspan></text>
<clipPath id="clip2"><rect x="52.1" y="294.9" width="256.8" height="195.0"/></clipPath>
<line x1="53.0" y1="296.5" x2="308.0" y2="296.5" stroke="#262626" stroke-width="1" stroke-opacity="0.3"/>
<line x1="53.0" y1="488.5" x2="308.0" y2="488.5" stroke="#262626" stroke-width="1" stroke-opacity="0.3"/>
<line x1="53.5" y1="296.5" x2="53.5" y2="488.5" stroke="#0072BD" stroke-width="1" stroke-opacity="0.28"/>
<line x1="307.5" y1="296.5" x2="307.5" y2="488.5" stroke="#D95319" stroke-width="1" stroke-opacity="0.32"/>
<line x1="138.50" y1="488.5" x2="138.50" y2="485.9" stroke="#262626" stroke-width="1" stroke-opacity="0.24"/>
<line x1="138.50" y1="296.5" x2="138.50" y2="299.1" stroke="#262626" stroke-width="1" stroke-opacity="0.24"/>
<line x1="222.50" y1="488.5" x2="222.50" y2="485.9" stroke="#262626" stroke-width="1" stroke-opacity="0.24"/>
<line x1="222.50" y1="296.5" x2="222.50" y2="299.1" stroke="#262626" stroke-width="1" stroke-opacity="0.24"/>
<line x1="53.5" y1="392.50" x2="56.1" y2="392.50" stroke="#0072BD" stroke-width="1" stroke-opacity="0.22400000000000003"/>
<line x1="307.5" y1="392.50" x2="304.9" y2="392.50" stroke="#D95319" stroke-width="1" stroke-opacity="0.256"/>
<g clip-path="url(#clip2)" fill="none" stroke-linejoin="round">
<path d="M53.50,296.60 L54.00,298.52 L54.50,300.29 L55.00,301.96 L55.50,303.54 L56.00,305.06 L56.50,306.54 L57.00,307.98 L57.50,309.37 L58.00,310.73 L58.50,312.06 L59.00,313.35 L59.50,314.64 L60.00,315.89 L60.50,317.11 L61.00,318.30 L61.50,319.46 L62.00,320.59 L62.50,321.70 L63.00,322.78 L63.50,323.83 L64.00,324.86 L64.50,325.87 L65.00,326.85 L65.50,327.81 L66.00,328.75 L66.50,329.67 L67.00,330.57 L67.50,331.44 L68.00,332.30 L68.50,333.13 L69.00,333.95 L69.50,334.76 L70.00,335.54 L70.50,336.32 L71.00,337.08 L71.50,337.82 L72.00,338.56 L72.50,339.29 L73.00,340.01 L73.50,340.72 L74.00,341.43 L74.50,342.13 L75.00,342.83 L75.50,343.52 L76.00,344.21 L76.50,344.89 L77.00,345.57 L77.50,346.24 L78.00,346.91 L78.50,347.57 L79.00,348.22 L79.50,348.86 L80.00,349.50 L80.50,350.13 L81.00,350.75 L81.50,351.36 L82.00,351.97 L82.50,352.56 L83.00,353.15 L83.50,353.73 L84.00,354.29 L84.50,354.85 L85.00,355.40 L85.50,355.95 L86.00,356.48 L86.50,357.01 L87.00,357.53 L87.50,358.04 L88.00,358.55 L88.50,359.06 L89.00,359.56 L89.50,360.05 L90.00,360.55 L90.50,361.03 L91.00,361.52 L91.50,362.01 L92.00,362.49 L92.50,362.97 L93.00,363.45 L93.50,363.93 L94.00,364.40 L94.50,364.87 L95.00,365.34 L95.50,365.80 L96.00,366.26 L96.50,366.71 L97.00,367.14 L97.50,367.57 L98.00,367.99 L98.50,368.40 L99.00,368.79 L99.50,369.18 L100.00,369.55 L100.50,369.90 L101.00,370.25 L101.50,370.58 L102.00,370.90 L102.50,371.21 L103.00,371.52 L103.50,371.81 L104.00,372.10 L104.50,372.38 L105.00,372.66 L105.50,372.94 L106.00,373.21 L106.50,373.47 L107.00,373.74 L107.50,374.00 L108.00,374.26 L108.50,374.52 L109.00,374.78 L109.50,375.03 L110.00,375.28 L110.50,375.53 L111.00,375.78 L111.50,376.02 L112.00,376.26 L112.50,376.50 L113.00,376.74 L113.50,376.97 L114.00,377.20 L114.50,377.43 L115.00,377.65 L115.50,377.87 L116.00,378.09 L116.50,378.31 L117.00,378.52 L117.50,378.74 L118.00,378.95 L118.50,379.15 L119.00,379.36 L119.50,379.56 L120.00,379.77 L120.50,379.97 L121.00,380.16 L121.50,380.36 L122.00,380.55 L122.50,380.75 L123.00,380.93 L123.50,381.12 L124.00,381.30 L124.50,381.48 L125.00,381.66 L125.50,381.84 L126.00,382.01 L126.50,382.18 L127.00,382.34 L127.50,382.50 L128.00,382.66 L128.50,382.82 L129.00,382.97 L129.50,383.12 L130.00,383.26 L130.50,383.41 L131.00,383.55 L131.50,383.69 L132.00,383.83 L132.50,383.96 L133.00,384.10 L133.50,384.23 L134.00,384.36 L134.50,384.49 L135.00,384.61 L135.50,384.74 L136.00,384.86 L136.50,384.98 L137.00,385.10 L137.50,385.22 L138.00,385.33 L138.50,385.44 L139.00,385.56 L139.50,385.67 L140.00,385.77 L140.50,385.88 L141.00,385.99 L141.50,386.09 L142.00,386.19 L142.50,386.29 L143.00,386.40 L143.50,386.50 L144.00,386.60 L144.50,386.70 L145.00,386.79 L145.50,386.89 L146.00,386.99 L146.50,387.08 L147.00,387.18 L147.50,387.27 L148.00,387.37 L148.50,387.46 L149.00,387.55 L149.50,387.63 L150.00,387.72 L150.50,387.81 L151.00,387.89 L151.50,387.97 L152.00,388.05 L152.50,388.12 L153.00,388.19 L153.50,388.26 L154.00,388.33 L154.50,388.39 L155.00,388.45 L155.50,388.51 L156.00,388.57 L156.50,388.62 L157.00,388.67 L157.50,388.73 L158.00,388.79 L158.50,388.85 L159.00,388.93 L159.50,389.03 L160.00,389.14 L160.50,389.28 L161.00,389.43 L161.50,389.62 L162.00,389.82 L162.50,390.05 L163.00,390.29 L163.50,390.53 L164.00,390.78 L164.50,391.02 L165.00,391.25 L165.50,391.46 L166.00,391.66 L166.50,391.83 L167.00,391.99 L167.50,392.13 L168.00,392.25 L168.50,392.35 L169.00,392.44 L169.50,392.52 L170.00,392.59 L170.50,392.65 L171.00,392.71 L171.50,392.75 L172.00,392.79 L172.50,392.82 L173.00,392.84 L173.50,392.86 L174.00,392.87 L174.50,392.88 L175.00,392.89 L175.50,392.89 L176.00,392.90 L176.50,392.90 L177.00,392.90 L177.50,392.90 L178.00,392.90 L178.50,392.90 L179.00,392.90 L179.50,392.90 L180.00,392.90 L180.50,392.90 L181.00,392.90 L181.50,392.90 L182.00,392.90 L182.50,392.90 L183.00,392.90 L183.50,392.90 L184.00,392.90 L184.50,392.90 L185.00,392.90 L185.50,392.90 L186.00,392.90 L186.50,392.90 L187.00,392.90 L187.50,392.90 L188.00,392.90 L188.50,392.90 L189.00,392.90 L189.50,392.90 L190.00,392.90 L190.50,392.90 L191.00,392.90 L191.50,392.90 L192.00,392.90 L192.50,392.90 L193.00,392.90 L193.50,392.90 L194.00,392.90 L194.50,392.90 L195.00,392.90 L195.50,392.91 L196.00,392.91 L196.50,392.91 L197.00,392.91 L197.50,392.91 L198.00,392.92 L198.50,392.92 L199.00,392.92 L199.50,392.93 L200.00,392.93 L200.50,392.94 L201.00,392.94 L201.50,392.95 L202.00,392.96 L202.50,392.96 L203.00,392.97 L203.50,392.98 L204.00,392.98 L204.50,392.99 L205.00,393.00 L205.50,393.01 L206.00,393.02 L206.50,393.03 L207.00,393.04 L207.50,393.05 L208.00,393.06 L208.50,393.07 L209.00,393.09 L209.50,393.10 L210.00,393.11 L210.50,393.12 L211.00,393.14 L211.50,393.15 L212.00,393.17 L212.50,393.18 L213.00,393.20 L213.50,393.21 L214.00,393.23 L214.50,393.25 L215.00,393.27 L215.50,393.29 L216.00,393.31 L216.50,393.33 L217.00,393.36 L217.50,393.40 L218.00,393.44 L218.50,393.48 L219.00,393.54 L219.50,393.61 L220.00,393.69 L220.50,393.78 L221.00,393.88 L221.50,393.99 L222.00,394.11 L222.50,394.22 L223.00,394.34 L223.50,394.46 L224.00,394.57 L224.50,394.67 L225.00,394.76 L225.50,394.84 L226.00,394.90 L226.50,394.95 L227.00,394.98 L227.50,395.01 L228.00,395.02 L228.50,395.02 L229.00,395.02 L229.50,395.01 L230.00,394.99 L230.50,394.97 L231.00,394.95 L231.50,394.92 L232.00,394.89 L232.50,394.86 L233.00,394.83 L233.50,394.80 L234.00,394.77 L234.50,394.74 L235.00,394.71 L235.50,394.69 L236.00,394.66 L236.50,394.63 L237.00,394.61 L237.50,394.58 L238.00,394.56 L238.50,394.54 L239.00,394.51 L239.50,394.49 L240.00,394.47 L240.50,394.45 L241.00,394.42 L241.50,394.40 L242.00,394.38 L242.50,394.35 L243.00,394.33 L243.50,394.31 L244.00,394.29 L244.50,394.26 L245.00,394.24 L245.50,394.22 L246.00,394.20 L246.50,394.17 L247.00,394.15 L247.50,394.13 L248.00,394.11 L248.50,394.09 L249.00,394.07 L249.50,394.05 L250.00,394.03 L250.50,394.01 L251.00,393.99 L251.50,393.98 L252.00,393.96 L252.50,393.94 L253.00,393.93 L253.50,393.91 L254.00,393.90 L254.50,393.89 L255.00,393.88 L255.50,393.86 L256.00,393.85 L256.50,393.84 L257.00,393.84 L257.50,393.83 L258.00,393.82 L258.50,393.82 L259.00,393.81 L259.50,393.81 L260.00,393.81 L260.50,393.81 L261.00,393.81 L261.50,393.81 L262.00,393.81 L262.50,393.81 L263.00,393.81 L263.50,393.82 L264.00,393.82 L264.50,393.83 L265.00,393.83 L265.50,393.84 L266.00,393.85 L266.50,393.85 L267.00,393.86 L267.50,393.87 L268.00,393.88 L268.50,393.89 L269.00,393.90 L269.50,393.91 L270.00,393.93 L270.50,393.94 L271.00,393.95 L271.50,393.97 L272.00,393.98 L272.50,394.00 L273.00,394.01 L273.50,394.03 L274.00,394.05 L274.50,394.07 L275.00,394.09 L275.50,394.11 L276.00,394.13 L276.50,394.16 L277.00,394.19 L277.50,394.23 L278.00,394.27 L278.50,394.32 L279.00,394.38 L279.50,394.44 L280.00,394.51 L280.50,394.58 L281.00,394.66 L281.50,394.75 L282.00,394.83 L282.50,394.92 L283.00,395.00 L283.50,395.09 L284.00,395.18 L284.50,395.26 L285.00,395.34 L285.50,395.43 L286.00,395.50 L286.50,395.58 L287.00,395.65 L287.50,395.71 L288.00,395.76 L288.50,395.81 L289.00,395.84 L289.50,395.86 L290.00,395.87 L290.50,395.87 L291.00,395.85 L291.50,395.82 L292.00,395.77 L292.50,395.72 L293.00,395.66 L293.50,395.59 L294.00,395.53 L294.50,395.45 L295.00,395.39 L295.50,395.32 L296.00,395.25 L296.50,395.19 L297.00,395.14 L297.50,395.09 L298.00,395.05 L298.50,395.00 L299.00,394.96 L299.50,394.93 L300.00,394.90 L300.50,394.86 L301.00,394.83 L301.50,394.80 L302.00,394.78 L302.50,394.75 L303.00,394.73 L303.50,394.70 L304.00,394.68 L304.50,394.66 L305.00,394.65 L305.50,394.63 L306.00,394.62 L306.50,394.61 L307.00,394.60 L307.50,394.60" stroke="#0072BD" stroke-width="1.6"/>
<line x1="53.2" y1="424.75" x2="307.5" y2="424.75" stroke="#000" stroke-width="2.6" stroke-dasharray="10.2 10.05"/>
<path d="M53.40,372.50 L53.65,372.52 L53.90,372.58 L54.15,372.66 L54.40,372.76 L54.65,372.88 L54.90,373.08 L55.15,373.36 L55.40,373.72 L55.65,374.14 L55.90,374.62 L56.15,375.16 L56.40,375.75 L56.65,376.43 L56.90,377.34 L57.15,378.50 L57.40,379.88 L57.65,381.46 L57.90,383.24 L58.15,385.29 L58.40,387.95 L58.65,391.19 L58.90,394.94 L59.15,399.12 L59.40,404.18 L59.65,410.63 L59.90,417.42 L60.15,423.66 L60.40,429.61 L60.65,435.86 L60.90,443.14 L61.15,451.95 L61.40,459.58 L61.65,466.73 L61.90,472.12 L62.15,474.48 L62.40,476.20 L62.65,477.58 L62.90,478.56 L63.15,479.11 L63.40,479.19 L63.65,479.09 L63.90,478.89 L64.15,478.62 L64.40,478.29 L64.65,477.92 L64.90,477.29 L65.15,476.37 L65.40,475.26 L65.65,474.04 L65.90,472.79 L66.15,471.35 L66.40,469.73 L66.65,467.97 L66.90,466.14 L67.15,464.27 L67.40,462.42 L67.65,460.61 L67.90,458.73 L68.15,456.79 L68.40,454.85 L68.65,452.93 L68.90,451.08 L69.15,449.33 L69.40,447.70 L69.65,446.13 L69.90,444.61 L70.15,443.13 L70.40,441.69 L70.65,440.27 L70.90,438.88 L71.15,437.49 L71.40,436.12 L71.65,434.73 L71.90,433.34 L72.15,431.97 L72.40,430.61 L72.65,429.26 L72.90,427.93 L73.15,426.60 L73.40,425.28 L73.65,423.96 L73.90,422.63 L74.15,421.30 L74.40,419.96 L74.65,418.61 L74.90,417.24 L75.15,415.87 L75.40,414.51 L75.65,413.14 L75.90,411.79 L76.15,410.45 L76.40,409.14 L76.65,407.86 L76.90,406.60 L77.15,405.37 L77.40,404.15 L77.65,402.94 L77.90,401.76 L78.15,400.59 L78.40,399.43 L78.65,398.29 L78.90,397.17 L79.15,396.06 L79.40,394.96 L79.65,393.88 L79.90,392.81 L80.15,391.75 L80.40,390.70 L80.65,389.67 L80.90,388.64 L81.15,387.63 L81.40,386.63 L81.65,385.64 L81.90,384.66 L82.15,383.70 L82.40,382.75 L82.65,381.81 L82.90,380.90 L83.15,380.01 L83.40,379.14 L83.65,378.28 L83.90,377.43 L84.15,376.59 L84.40,375.74 L84.65,374.90 L84.90,374.04 L85.15,373.18 L85.40,372.28 L85.65,371.36 L85.90,370.42 L86.15,369.49 L86.40,368.60 L86.65,367.76 L86.90,367.00 L87.15,366.29 L87.40,365.60 L87.65,364.94 L87.90,364.30 L88.15,363.69 L88.40,363.08 L88.65,362.49 L88.90,361.91 L89.15,361.34 L89.40,360.76 L89.65,360.19 L89.90,359.61 L90.15,359.02 L90.40,358.42 L90.65,357.81 L90.90,357.20 L91.15,356.59 L91.40,355.98 L91.65,355.37 L91.90,354.77 L92.15,354.17 L92.40,353.58 L92.65,353.01 L92.90,352.45 L93.15,351.91 L93.40,351.39 L93.65,350.89 L93.90,350.41 L94.15,349.94 L94.40,349.47 L94.65,349.01 L94.90,348.56 L95.15,348.12 L95.40,347.70 L95.65,347.29 L95.90,346.90 L96.15,346.53 L96.40,346.19 L96.65,345.88 L96.90,345.60 L97.15,345.33 L97.40,345.06 L97.65,344.78 L97.90,344.51 L98.15,344.25 L98.40,344.00 L98.65,343.77 L98.90,343.56 L99.15,343.38 L99.40,343.23 L99.65,343.11 L99.90,343.03 L100.15,343.00 L100.40,343.01 L100.65,343.05 L100.90,343.12 L101.15,343.23 L101.40,343.36 L101.65,343.52 L101.90,343.70 L102.15,343.91 L102.40,344.15 L102.65,344.41 L102.90,344.69 L103.15,345.00 L103.40,345.32 L103.65,345.68 L103.90,346.25 L104.15,347.08 L104.40,348.13 L104.65,349.32 L104.90,350.61 L105.15,351.94 L105.40,353.33 L105.65,354.94 L105.90,356.72 L106.15,358.63 L106.40,360.65 L106.65,362.72 L106.90,364.83 L107.15,367.06 L107.40,369.54 L107.65,372.38 L107.90,375.99 L108.15,380.58 L108.40,385.34 L108.65,389.44 L108.90,393.03 L109.15,396.41 L109.40,399.60 L109.65,402.63 L109.90,405.50 L110.15,408.26 L110.40,410.92 L110.65,413.48 L110.90,415.94 L111.15,418.28 L111.40,420.51 L111.65,422.62 L111.90,424.86 L112.15,427.22 L112.40,429.58 L112.65,431.79 L112.90,433.72 L113.15,435.22 L113.40,436.15 L113.65,436.39 L113.90,436.21 L114.15,435.79 L114.40,435.18 L114.65,434.41 L114.90,433.52 L115.15,432.56 L115.40,431.56 L115.65,430.57 L115.90,429.61 L116.15,428.73 L116.40,427.86 L116.65,426.95 L116.90,426.02 L117.15,425.05 L117.40,424.07 L117.65,423.07 L117.90,422.05 L118.15,421.03 L118.40,420.00 L118.65,418.97 L118.90,417.94 L119.15,416.91 L119.40,415.90 L119.65,414.90 L119.90,413.89 L120.15,412.88 L120.40,411.86 L120.65,410.84 L120.90,409.82 L121.15,408.80 L121.40,407.78 L121.65,406.76 L121.90,405.74 L122.15,404.72 L122.40,403.71 L122.65,402.70 L122.90,401.70 L123.15,400.69 L123.40,399.68 L123.65,398.67 L123.90,397.65 L124.15,396.64 L124.40,395.63 L124.65,394.63 L124.90,393.64 L125.15,392.66 L125.40,391.69 L125.65,390.73 L125.90,389.80 L126.15,388.88 L126.40,387.99 L126.65,387.11 L126.90,386.25 L127.15,385.41 L127.40,384.58 L127.65,383.75 L127.90,382.94 L128.15,382.12 L128.40,381.31 L128.65,380.50 L128.90,379.69 L129.15,378.87 L129.40,378.04 L129.65,377.22 L129.90,376.41 L130.15,375.60 L130.40,374.79 L130.65,373.98 L130.90,373.16 L131.15,372.35 L131.40,371.52 L131.65,370.69 L131.90,369.84 L132.15,368.98 L132.40,368.08 L132.65,367.14 L132.90,366.18 L133.15,365.21 L133.40,364.23 L133.65,363.26 L133.90,362.29 L134.15,361.35 L134.40,360.45 L134.65,359.58 L134.90,358.76 L135.15,357.99 L135.40,357.30 L135.65,356.65 L135.90,356.03 L136.15,355.43 L136.40,354.86 L136.65,354.30 L136.90,353.76 L137.15,353.23 L137.40,352.72 L137.65,352.23 L137.90,351.74 L138.15,351.27 L138.40,350.80 L138.65,350.35 L138.90,349.89 L139.15,349.44 L139.40,349.00 L139.65,348.55 L139.90,348.10 L140.15,347.65 L140.40,347.20 L140.65,346.75 L140.90,346.30 L141.15,345.85 L141.40,345.41 L141.65,344.97 L141.90,344.53 L142.15,344.10 L142.40,343.68 L142.65,343.26 L142.90,342.84 L143.15,342.42 L143.40,342.01 L143.65,341.61 L143.90,341.21 L144.15,340.81 L144.40,340.42 L144.65,340.03 L144.90,339.65 L145.15,339.27 L145.40,338.90 L145.65,338.53 L145.90,338.15 L146.15,337.77 L146.40,337.39 L146.65,337.00 L146.90,336.62 L147.15,336.25 L147.40,335.87 L147.65,335.50 L147.90,335.14 L148.15,334.79 L148.40,334.44 L148.65,334.11 L148.90,333.79 L149.15,333.48 L149.40,333.19 L149.65,332.91 L149.90,332.66 L150.15,332.42 L150.40,332.20 L150.65,331.99 L150.90,331.78 L151.15,331.57 L151.40,331.36 L151.65,331.15 L151.90,330.94 L152.15,330.74 L152.40,330.55 L152.65,330.36 L152.90,330.18 L153.15,330.01 L153.40,329.86 L153.65,329.72 L153.90,329.59 L154.15,329.47 L154.40,329.38 L154.65,329.30 L154.90,329.25 L155.15,329.21 L155.40,329.20 L155.65,329.21 L155.90,329.26 L156.15,329.32 L156.40,329.41 L156.65,329.53 L156.90,329.67 L157.15,329.82 L157.40,330.00 L157.65,330.20 L157.90,330.41 L158.15,330.64 L158.40,330.88 L158.65,331.13 L158.90,331.40 L159.15,331.68 L159.40,331.96 L159.65,332.26 L159.90,332.62 L160.15,333.07 L160.40,333.61 L160.65,334.22 L160.90,334.90 L161.15,335.64 L161.40,336.44 L161.65,337.30 L161.90,338.19 L162.15,339.13 L162.40,340.10 L162.65,341.13 L162.90,342.30 L163.15,343.62 L163.40,345.08 L163.65,346.67 L163.90,348.39 L164.15,350.22 L164.40,352.24 L164.65,354.58 L164.90,357.17 L165.15,359.95 L165.40,362.83 L165.65,365.86 L165.90,369.34 L166.15,373.05 L166.40,376.74 L166.65,380.14 L166.90,383.00 L167.15,385.43 L167.40,387.75 L167.65,389.93 L167.90,391.99 L168.15,393.92 L168.40,395.71 L168.65,397.36 L168.90,398.87 L169.15,400.24 L169.40,401.52 L169.65,402.82 L169.90,404.11 L170.15,405.38 L170.40,406.62 L170.65,407.80 L170.90,408.91 L171.15,409.92 L171.40,410.82 L171.65,411.59 L171.90,412.21 L172.15,412.66 L172.40,412.93 L172.65,413.00 L172.90,412.99 L173.15,412.96 L173.40,412.91 L173.65,412.84 L173.90,412.77 L174.15,412.67 L174.40,412.57 L174.65,412.45 L174.90,412.31 L175.15,412.17 L175.40,411.85 L175.65,411.31 L175.90,410.59 L176.15,409.73 L176.40,408.76 L176.65,407.72 L176.90,406.65 L177.15,405.58 L177.40,404.56 L177.65,403.62 L177.90,402.67 L178.15,401.70 L178.40,400.69 L178.65,399.67 L178.90,398.63 L179.15,397.60 L179.40,396.57 L179.65,395.56 L179.90,394.57 L180.15,393.61 L180.40,392.67 L180.65,391.73 L180.90,390.80 L181.15,389.88 L181.40,388.96 L181.65,388.06 L181.90,387.16 L182.15,386.27 L182.40,385.40 L182.65,384.53 L182.90,383.67 L183.15,382.83 L183.40,382.00 L183.65,381.17 L183.90,380.34 L184.15,379.51 L184.40,378.69 L184.65,377.88 L184.90,377.09 L185.15,376.33 L185.40,375.59 L185.65,374.90 L185.90,374.25 L186.15,373.65 L186.40,373.11 L186.65,372.61 L186.90,372.13 L187.15,371.65 L187.40,371.14 L187.65,370.58 L187.90,369.98 L188.15,369.34 L188.40,368.68 L188.65,367.99 L188.90,367.29 L189.15,366.59 L189.40,365.89 L189.65,365.20 L189.90,364.52 L190.15,363.87 L190.40,363.23 L190.65,362.59 L190.90,361.96 L191.15,361.33 L191.40,360.70 L191.65,360.08 L191.90,359.46 L192.15,358.85 L192.40,358.24 L192.65,357.63 L192.90,357.03 L193.15,356.43 L193.40,355.84 L193.65,355.24 L193.90,354.65 L194.15,354.05 L194.40,353.46 L194.65,352.86 L194.90,352.27 L195.15,351.69 L195.40,351.11 L195.65,350.54 L195.90,349.98 L196.15,349.44 L196.40,348.91 L196.65,348.40 L196.90,347.90 L197.15,347.43 L197.40,346.96 L197.65,346.51 L197.90,346.08 L198.15,345.65 L198.40,345.22 L198.65,344.80 L198.90,344.39 L199.15,343.98 L199.40,343.56 L199.65,343.14 L199.90,342.72 L200.15,342.29 L200.40,341.85 L200.65,341.40 L200.90,340.94 L201.15,340.48 L201.40,340.01 L201.65,339.55 L201.90,339.09 L202.15,338.63 L202.40,338.19 L202.65,337.75 L202.90,337.33 L203.15,336.93 L203.40,336.55 L203.65,336.18 L203.90,335.83 L204.15,335.49 L204.40,335.16 L204.65,334.84 L204.90,334.53 L205.15,334.22 L205.40,333.92 L205.65,333.62 L205.90,333.33 L206.15,333.05 L206.40,332.76 L206.65,332.48 L206.90,332.20 L207.15,331.91 L207.40,331.62 L207.65,331.33 L207.90,331.03 L208.15,330.74 L208.40,330.45 L208.65,330.17 L208.90,329.90 L209.15,329.65 L209.40,329.41 L209.65,329.19 L209.90,329.00 L210.15,328.83 L210.40,328.68 L210.65,328.53 L210.90,328.39 L211.15,328.24 L211.40,328.10 L211.65,327.96 L211.90,327.83 L212.15,327.71 L212.40,327.59 L212.65,327.49 L212.90,327.39 L213.15,327.31 L213.40,327.24 L213.65,327.18 L213.90,327.14 L214.15,327.11 L214.40,327.10 L214.65,327.12 L214.90,327.17 L215.15,327.25 L215.40,327.36 L215.65,327.50 L215.90,327.65 L216.15,327.83 L216.40,328.02 L216.65,328.23 L216.90,328.45 L217.15,328.68 L217.40,328.91 L217.65,329.15 L217.90,329.41 L218.15,329.71 L218.40,330.05 L218.65,330.44 L218.90,330.87 L219.15,331.33 L219.40,331.82 L219.65,332.34 L219.90,332.88 L220.15,333.45 L220.40,334.04 L220.65,334.67 L220.90,335.37 L221.15,336.12 L221.40,336.94 L221.65,337.83 L221.90,338.80 L222.15,339.84 L222.40,340.98 L222.65,342.36 L222.90,343.95 L223.15,345.68 L223.40,347.47 L223.65,349.25 L223.90,351.05 L224.15,352.89 L224.40,354.79 L224.65,356.76 L224.90,358.81 L225.15,360.96 L225.40,363.25 L225.65,365.89 L225.90,368.75 L226.15,371.61 L226.40,374.22 L226.65,376.39 L226.90,378.21 L227.15,379.85 L227.40,381.36 L227.65,382.82 L227.90,384.29 L228.15,385.78 L228.40,387.26 L228.65,388.73 L228.90,390.17 L229.15,391.57 L229.40,392.92 L229.65,394.20 L229.90,395.39 L230.15,396.49 L230.40,397.50 L230.65,398.51 L230.90,399.55 L231.15,400.59 L231.40,401.61 L231.65,402.60 L231.90,403.54 L232.15,404.41 L232.40,405.18 L232.65,405.85 L232.90,406.40 L233.15,406.80 L233.40,407.04 L233.65,407.10 L233.90,407.01 L234.15,406.81 L234.40,406.51 L234.65,406.14 L234.90,405.70 L235.15,405.21 L235.40,404.69 L235.65,404.15 L235.90,403.62 L236.15,403.10 L236.40,402.58 L236.65,402.02 L236.90,401.41 L237.15,400.76 L237.40,400.08 L237.65,399.37 L237.90,398.63 L238.15,397.88 L238.40,397.12 L238.65,396.36 L238.90,395.60 L239.15,394.84 L239.40,394.09 L239.65,393.36 L239.90,392.63 L240.15,391.89 L240.40,391.14 L240.65,390.39 L240.90,389.63 L241.15,388.87 L241.40,388.10 L241.65,387.33 L241.90,386.55 L242.15,385.76 L242.40,384.97 L242.65,384.18 L242.90,383.38 L243.15,382.57 L243.40,381.77 L243.65,380.95 L243.90,380.13 L244.15,379.30 L244.40,378.46 L244.65,377.61 L244.90,376.75 L245.15,375.88 L245.40,375.00 L245.65,374.08 L245.90,373.13 L246.15,372.16 L246.40,371.19 L246.65,370.24 L246.90,369.34 L247.15,368.50 L247.40,367.68 L247.65,366.88 L247.90,366.09 L248.15,365.32 L248.40,364.57 L248.65,363.83 L248.90,363.10 L249.15,362.38 L249.40,361.67 L249.65,360.96 L249.90,360.27 L250.15,359.58 L250.40,358.90 L250.65,358.22 L250.90,357.55 L251.15,356.88 L251.40,356.22 L251.65,355.57 L251.90,354.92 L252.15,354.29 L252.40,353.66 L252.65,353.05 L252.90,352.44 L253.15,351.85 L253.40,351.27 L253.65,350.71 L253.90,350.16 L254.15,349.62 L254.40,349.08 L254.65,348.56 L254.90,348.04 L255.15,347.54 L255.40,347.04 L255.65,346.55 L255.90,346.07 L256.15,345.60 L256.40,345.14 L256.65,344.69 L256.90,344.25 L257.15,343.81 L257.40,343.39 L257.65,342.98 L257.90,342.57 L258.15,342.18 L258.40,341.79 L258.65,341.41 L258.90,341.03 L259.15,340.66 L259.40,340.30 L259.65,339.94 L259.90,339.59 L260.15,339.24 L260.40,338.90 L260.65,338.56 L260.90,338.23 L261.15,337.90 L261.40,337.58 L261.65,337.26 L261.90,336.94 L262.15,336.63 L262.40,336.33 L262.65,336.03 L262.90,335.73 L263.15,335.44 L263.40,335.15 L263.65,334.87 L263.90,334.59 L264.15,334.31 L264.40,334.02 L264.65,333.74 L264.90,333.45 L265.15,333.17 L265.40,332.88 L265.65,332.60 L265.90,332.32 L266.15,332.05 L266.40,331.78 L266.65,331.52 L266.90,331.27 L267.15,331.02 L267.40,330.79 L267.65,330.56 L267.90,330.35 L268.15,330.15 L268.40,329.97 L268.65,329.80 L268.90,329.64 L269.15,329.48 L269.40,329.33 L269.65,329.17 L269.90,329.01 L270.15,328.86 L270.40,328.71 L270.65,328.56 L270.90,328.42 L271.15,328.28 L271.40,328.15 L271.65,328.03 L271.90,327.91 L272.15,327.81 L272.40,327.71 L272.65,327.63 L272.90,327.55 L273.15,327.49 L273.40,327.45 L273.65,327.42 L273.90,327.40 L274.15,327.41 L274.40,327.44 L274.65,327.50 L274.90,327.58 L275.15,327.69 L275.40,327.82 L275.65,327.98 L275.90,328.15 L276.15,328.35 L276.40,328.56 L276.65,328.79 L276.90,329.03 L277.15,329.29 L277.40,329.56 L277.65,329.85 L277.90,330.14 L278.15,330.44 L278.40,330.75 L278.65,331.07 L278.90,331.44 L279.15,331.90 L279.40,332.43 L279.65,333.02 L279.90,333.68 L280.15,334.39 L280.40,335.14 L280.65,335.93 L280.90,336.75 L281.15,337.59 L281.40,338.45 L281.65,339.34 L281.90,340.30 L282.15,341.34 L282.40,342.46 L282.65,343.65 L282.90,344.91 L283.15,346.24 L283.40,347.63 L283.65,349.11 L283.90,350.77 L284.15,352.59 L284.40,354.49 L284.65,356.44 L284.90,358.37 L285.15,360.31 L285.40,362.29 L285.65,364.36 L285.90,366.57 L286.15,369.02 L286.40,371.83 L286.65,374.65 L286.90,377.17 L287.15,379.61 L287.40,382.02 L287.65,384.33 L287.90,386.49 L288.15,388.43 L288.40,390.12 L288.65,391.53 L288.90,392.86 L289.15,394.12 L289.40,395.30 L289.65,396.38 L289.90,397.35 L290.15,398.21 L290.40,398.93 L290.65,399.50 L290.90,399.97 L291.15,400.42 L291.40,400.85 L291.65,401.26 L291.90,401.65 L292.15,402.01 L292.40,402.34 L292.65,402.64 L292.90,402.90 L293.15,403.11 L293.40,403.29 L293.65,403.41 L293.90,403.48 L294.15,403.49 L294.40,403.30 L294.65,402.85 L294.90,402.22 L295.15,401.44 L295.40,400.56 L295.65,399.64 L295.90,398.73 L296.15,397.87 L296.40,397.10 L296.65,396.33 L296.90,395.54 L297.15,394.73 L297.40,393.90 L297.65,393.07 L297.90,392.24 L298.15,391.41 L298.40,390.59 L298.65,389.79 L298.90,389.01 L299.15,388.25 L299.40,387.52 L299.65,386.80 L299.90,386.09 L300.15,385.39 L300.40,384.70 L300.65,384.02 L300.90,383.34 L301.15,382.66 L301.40,381.98 L301.65,381.29 L301.90,380.60 L302.15,379.90 L302.40,379.20 L302.65,378.51 L302.90,377.81 L303.15,377.11 L303.40,376.41 L303.65,375.71 L303.90,375.01 L304.15,374.32 L304.40,373.63 L304.65,372.94 L304.90,372.25 L305.15,371.57 L305.40,370.88 L305.65,370.20 L305.90,369.52 L306.15,368.84 L306.40,368.16 L306.65,367.49 L306.90,366.81 L307.15,366.14 L307.40,365.47 L307.50,365.20" stroke="#0072BD" stroke-width="2.7" stroke-dasharray="2.7 2.38" stroke-dashoffset="0"/>
<path d="M53.50,479.20 L53.75,476.07 L54.00,472.82 L54.25,469.46 L54.50,466.00 L54.75,462.52 L55.00,458.97 L55.25,455.19 L55.50,451.00 L55.75,446.14 L56.00,440.65 L56.25,434.81 L56.50,428.52 L56.75,421.84 L57.00,415.00 L57.25,407.97 L57.50,400.75 L57.75,393.54 L58.00,385.82 L58.25,379.04 L58.50,374.35 L58.75,370.95 L59.00,368.94 L59.25,368.25 L59.50,369.66 L59.75,372.29 L60.00,376.93 L60.25,383.67 L60.50,392.00 L60.75,399.78 L61.00,407.00 L61.25,413.20 L61.50,418.84 L61.75,424.01 L62.00,428.56 L62.25,432.56 L62.50,436.98 L62.75,443.15 L63.00,449.94 L63.25,454.72 L63.50,458.81 L63.75,462.37 L64.00,465.44 L64.25,468.18 L64.50,470.76 L64.75,473.15 L65.00,475.29 L65.25,477.16 L65.50,478.69 L65.75,479.91 L66.00,481.02 L66.25,482.04 L66.50,482.97 L66.75,483.79 L67.00,484.50 L67.25,485.09 L67.50,485.55 L67.75,485.90 L68.00,486.22 L68.25,486.52 L68.50,486.79 L68.75,487.04 L69.00,487.25 L69.25,487.44 L69.50,487.59 L69.75,487.70 L70.00,487.78 L70.25,487.82 L70.50,487.86 L70.75,487.90 L71.00,487.93 L71.25,487.96 L71.50,488.00 L71.75,488.03 L72.00,488.05 L72.25,488.08 L72.50,488.10 L72.75,488.13 L73.00,488.15 L73.25,488.17 L73.50,488.19 L73.75,488.21 L74.00,488.22 L74.25,488.24 L74.50,488.25 L74.75,488.26 L75.00,488.27 L75.25,488.28 L75.50,488.28 L75.75,488.29 L76.00,488.29 L76.25,488.30 L76.50,488.30 L76.75,488.30 L77.00,488.30 L77.25,488.30 L77.50,488.29 L77.75,488.29 L78.00,488.28 L78.25,488.28 L78.50,488.27 L78.75,488.26 L79.00,488.25 L79.25,488.24 L79.50,488.23 L79.75,488.22 L80.00,488.21 L80.25,488.19 L80.50,488.18 L80.75,488.17 L81.00,488.15 L81.25,488.14 L81.50,488.12 L81.75,488.11 L82.00,488.09 L82.25,488.07 L82.50,488.06 L82.75,488.04 L83.00,488.02 L83.25,488.00 L83.50,487.99 L83.75,487.97 L84.00,487.95 L84.25,487.93 L84.50,487.90 L84.75,487.88 L85.00,487.86 L85.25,487.83 L85.50,487.80 L85.75,487.78 L86.00,487.75 L86.25,487.71 L86.50,487.68 L86.75,487.64 L87.00,487.61 L87.25,487.57 L87.50,487.53 L87.75,487.49 L88.00,487.44 L88.25,487.39 L88.50,487.34 L88.75,487.29 L89.00,487.24 L89.25,487.18 L89.50,487.12 L89.75,487.06 L90.00,487.00 L90.25,486.93 L90.50,486.83 L90.75,486.72 L91.00,486.59 L91.25,486.45 L91.50,486.30 L91.75,486.13 L92.00,485.95 L92.25,485.77 L92.50,485.57 L92.75,485.37 L93.00,485.17 L93.25,484.96 L93.50,484.74 L93.75,484.51 L94.00,484.27 L94.25,484.02 L94.50,483.74 L94.75,483.44 L95.00,483.13 L95.25,482.78 L95.50,482.41 L95.75,482.01 L96.00,481.57 L96.25,481.10 L96.50,480.54 L96.75,479.86 L97.00,479.08 L97.25,478.21 L97.50,477.25 L97.75,476.22 L98.00,475.12 L98.25,473.96 L98.50,472.64 L98.75,471.13 L99.00,469.45 L99.25,467.64 L99.50,465.71 L99.75,463.68 L100.00,461.37 L100.25,458.81 L100.50,456.17 L100.75,453.60 L101.00,451.24 L101.25,448.90 L101.50,446.35 L101.75,443.34 L102.00,439.48 L102.25,435.10 L102.50,430.25 L102.75,425.09 L103.00,419.98 L103.25,414.92 L103.50,409.77 L103.75,404.40 L104.00,398.65 L104.25,392.75 L104.50,387.00 L104.75,381.44 L105.00,376.03 L105.25,371.03 L105.50,366.08 L105.75,361.15 L106.00,356.49 L106.25,352.37 L106.50,349.05 L106.75,346.55 L107.00,344.19 L107.25,342.20 L107.50,340.87 L107.75,340.52 L108.00,341.25 L108.25,342.82 L108.50,344.98 L108.75,347.48 L109.00,350.76 L109.25,355.74 L109.50,361.79 L109.75,368.23 L110.00,374.53 L110.25,381.41 L110.50,388.74 L110.75,396.08 L111.00,402.97 L111.25,409.18 L111.50,415.25 L111.75,421.15 L112.00,426.72 L112.25,431.85 L112.50,436.38 L112.75,440.29 L113.00,443.92 L113.25,447.29 L113.50,450.40 L113.75,453.24 L114.00,455.80 L114.25,458.08 L114.50,460.13 L114.75,462.05 L115.00,463.86 L115.25,465.56 L115.50,467.15 L115.75,468.63 L116.00,470.01 L116.25,471.27 L116.50,472.44 L116.75,473.51 L117.00,474.53 L117.25,475.52 L117.50,476.49 L117.75,477.42 L118.00,478.31 L118.25,479.15 L118.50,479.94 L118.75,480.68 L119.00,481.35 L119.25,481.95 L119.50,482.48 L119.75,482.93 L120.00,483.30 L120.25,483.62 L120.50,483.92 L120.75,484.22 L121.00,484.50 L121.25,484.77 L121.50,485.02 L121.75,485.27 L122.00,485.50 L122.25,485.72 L122.50,485.92 L122.75,486.12 L123.00,486.29 L123.25,486.46 L123.50,486.61 L123.75,486.74 L124.00,486.86 L124.25,486.97 L124.50,487.06 L124.75,487.14 L125.00,487.20 L125.25,487.25 L125.50,487.30 L125.75,487.35 L126.00,487.40 L126.25,487.45 L126.50,487.50 L126.75,487.54 L127.00,487.58 L127.25,487.62 L127.50,487.66 L127.75,487.70 L128.00,487.73 L128.25,487.77 L128.50,487.80 L128.75,487.83 L129.00,487.85 L129.25,487.88 L129.50,487.90 L129.75,487.92 L130.00,487.94 L130.25,487.96 L130.50,487.97 L130.75,487.98 L131.00,487.99 L131.25,488.00 L131.50,488.00 L131.75,488.00 L132.00,488.00 L132.25,487.99 L132.50,487.98 L132.75,487.97 L133.00,487.96 L133.25,487.94 L133.50,487.92 L133.75,487.90 L134.00,487.87 L134.25,487.84 L134.50,487.82 L134.75,487.78 L135.00,487.75 L135.25,487.72 L135.50,487.68 L135.75,487.64 L136.00,487.60 L136.25,487.56 L136.50,487.52 L136.75,487.48 L137.00,487.43 L137.25,487.39 L137.50,487.35 L137.75,487.30 L138.00,487.25 L138.25,487.21 L138.50,487.16 L138.75,487.11 L139.00,487.06 L139.25,487.00 L139.50,486.94 L139.75,486.88 L140.00,486.81 L140.25,486.74 L140.50,486.66 L140.75,486.59 L141.00,486.50 L141.25,486.42 L141.50,486.33 L141.75,486.24 L142.00,486.14 L142.25,486.04 L142.50,485.94 L142.75,485.83 L143.00,485.72 L143.25,485.61 L143.50,485.49 L143.75,485.37 L144.00,485.24 L144.25,485.11 L144.50,484.98 L144.75,484.84 L145.00,484.70 L145.25,484.55 L145.50,484.39 L145.75,484.21 L146.00,484.02 L146.25,483.82 L146.50,483.60 L146.75,483.38 L147.00,483.13 L147.25,482.88 L147.50,482.61 L147.75,482.33 L148.00,482.03 L148.25,481.72 L148.50,481.40 L148.75,481.07 L149.00,480.72 L149.25,480.36 L149.50,479.99 L149.75,479.60 L150.00,479.20 L150.25,478.77 L150.50,478.29 L150.75,477.76 L151.00,477.19 L151.25,476.58 L151.50,475.92 L151.75,475.22 L152.00,474.47 L152.25,473.69 L152.50,472.87 L152.75,472.01 L153.00,471.12 L153.25,470.19 L153.50,469.23 L153.75,468.21 L154.00,467.13 L154.25,465.95 L154.50,464.65 L154.75,463.21 L155.00,461.62 L155.25,459.84 L155.50,457.86 L155.75,455.44 L156.00,451.93 L156.25,447.60 L156.50,442.85 L156.75,438.05 L157.00,433.60 L157.25,429.73 L157.50,426.06 L157.75,422.50 L158.00,419.03 L158.25,415.61 L158.50,412.23 L158.75,408.86 L159.00,405.47 L159.25,402.04 L159.50,398.53 L159.75,394.93 L160.00,391.28 L160.25,387.60 L160.50,383.89 L160.75,380.16 L161.00,376.44 L161.25,372.74 L161.50,369.00 L161.75,365.13 L162.00,361.20 L162.25,357.30 L162.50,353.49 L162.75,349.86 L163.00,346.48 L163.25,343.41 L163.50,340.45 L163.75,337.57 L164.00,334.88 L164.25,332.53 L164.50,330.61 L164.75,329.14 L165.00,327.76 L165.25,326.71 L165.50,326.30 L165.75,326.68 L166.00,327.68 L166.25,329.07 L166.50,330.73 L166.75,333.37 L167.00,336.96 L167.25,341.25 L167.50,346.00 L167.75,351.95 L168.00,359.37 L168.25,367.35 L168.50,375.15 L168.75,383.74 L169.00,391.95 L169.25,398.13 L169.50,402.84 L169.75,406.91 L170.00,410.51 L170.25,413.82 L170.50,416.98 L170.75,420.19 L171.00,423.57 L171.25,427.00 L171.50,430.40 L171.75,433.72 L172.00,436.93 L172.25,440.01 L172.50,442.90 L172.75,445.59 L173.00,448.13 L173.25,450.55 L173.50,452.86 L173.75,455.09 L174.00,457.28 L174.25,459.43 L174.50,461.68 L174.75,463.98 L175.00,466.22 L175.25,468.29 L175.50,470.08 L175.75,471.48 L176.00,472.53 L176.25,473.50 L176.50,474.41 L176.75,475.26 L177.00,476.05 L177.25,476.78 L177.50,477.45 L177.75,478.08 L178.00,478.65 L178.25,479.18 L178.50,479.66 L178.75,480.10 L179.00,480.50 L179.25,480.87 L179.50,481.22 L179.75,481.55 L180.00,481.88 L180.25,482.18 L180.50,482.48 L180.75,482.76 L181.00,483.02 L181.25,483.27 L181.50,483.51 L181.75,483.73 L182.00,483.93 L182.25,484.12 L182.50,484.28 L182.75,484.43 L183.00,484.57 L183.25,484.68 L183.50,484.78 L183.75,484.88 L184.00,484.97 L184.25,485.07 L184.50,485.16 L184.75,485.25 L185.00,485.34 L185.25,485.42 L185.50,485.50 L185.75,485.58 L186.00,485.66 L186.25,485.73 L186.50,485.80 L186.75,485.86 L187.00,485.92 L187.25,485.98 L187.50,486.03 L187.75,486.08 L188.00,486.13 L188.25,486.16 L188.50,486.20 L188.75,486.23 L189.00,486.25 L189.25,486.27 L189.50,486.29 L189.75,486.30 L190.00,486.30 L190.25,486.30 L190.50,486.29 L190.75,486.28 L191.00,486.27 L191.25,486.25 L191.50,486.23 L191.75,486.21 L192.00,486.18 L192.25,486.16 L192.50,486.12 L192.75,486.09 L193.00,486.05 L193.25,486.01 L193.50,485.97 L193.75,485.93 L194.00,485.88 L194.25,485.83 L194.50,485.79 L194.75,485.73 L195.00,485.68 L195.25,485.63 L195.50,485.57 L195.75,485.52 L196.00,485.46 L196.25,485.40 L196.50,485.35 L196.75,485.29 L197.00,485.23 L197.25,485.16 L197.50,485.08 L197.75,485.00 L198.00,484.91 L198.25,484.82 L198.50,484.72 L198.75,484.62 L199.00,484.50 L199.25,484.39 L199.50,484.26 L199.75,484.14 L200.00,484.00 L200.25,483.86 L200.50,483.72 L200.75,483.56 L201.00,483.41 L201.25,483.24 L201.50,483.08 L201.75,482.90 L202.00,482.72 L202.25,482.54 L202.50,482.35 L202.75,482.15 L203.00,481.95 L203.25,481.74 L203.50,481.52 L203.75,481.28 L204.00,481.01 L204.25,480.72 L204.50,480.40 L204.75,480.06 L205.00,479.70 L205.25,479.32 L205.50,478.92 L205.75,478.50 L206.00,478.06 L206.25,477.60 L206.50,477.13 L206.75,476.64 L207.00,476.14 L207.25,475.62 L207.50,475.08 L207.75,474.54 L208.00,473.98 L208.25,473.41 L208.50,472.82 L208.75,472.18 L209.00,471.49 L209.25,470.76 L209.50,469.98 L209.75,469.17 L210.00,468.31 L210.25,467.43 L210.50,466.50 L210.75,465.55 L211.00,464.57 L211.25,463.57 L211.50,462.54 L211.75,461.49 L212.00,460.39 L212.25,459.22 L212.50,457.99 L212.75,456.70 L213.00,455.36 L213.25,453.97 L213.50,452.54 L213.75,451.06 L214.00,449.54 L214.25,447.99 L214.50,446.38 L214.75,444.70 L215.00,442.91 L215.25,440.98 L215.50,438.90 L215.75,436.58 L216.00,434.01 L216.25,431.23 L216.50,428.30 L216.75,425.27 L217.00,422.20 L217.25,419.13 L217.50,416.13 L217.75,413.23 L218.00,410.42 L218.25,407.65 L218.50,404.90 L218.75,402.15 L219.00,399.36 L219.25,396.52 L219.50,393.60 L219.75,390.57 L220.00,387.42 L220.25,384.09 L220.50,380.63 L220.75,377.07 L221.00,373.45 L221.25,369.77 L221.50,365.90 L221.75,361.92 L222.00,357.90 L222.25,353.96 L222.50,350.18 L222.75,346.66 L223.00,343.30 L223.25,339.86 L223.50,336.64 L223.75,333.92 L224.00,332.00 L224.25,330.60 L224.50,329.40 L224.75,328.64 L225.00,328.56 L225.25,329.21 L225.50,330.35 L225.75,331.72 L226.00,333.37 L226.25,335.71 L226.50,338.58 L226.75,341.81 L227.00,345.24 L227.25,348.70 L227.50,352.45 L227.75,356.58 L228.00,360.98 L228.25,365.55 L228.50,370.16 L228.75,374.81 L229.00,379.72 L229.25,384.81 L229.50,389.97 L229.75,395.07 L230.00,399.99 L230.25,404.62 L230.50,408.96 L230.75,413.22 L231.00,417.36 L231.25,421.34 L231.50,425.14 L231.75,428.70 L232.00,432.00 L232.25,435.08 L232.50,438.01 L232.75,440.79 L233.00,443.41 L233.25,445.86 L233.50,448.14 L233.75,450.27 L234.00,452.35 L234.25,454.40 L234.50,456.39 L234.75,458.32 L235.00,460.17 L235.25,461.94 L235.50,463.62 L235.75,465.19 L236.00,466.64 L236.25,467.97 L236.50,469.16 L236.75,470.20 L237.00,471.16 L237.25,472.08 L237.50,472.96 L237.75,473.79 L238.00,474.58 L238.25,475.32 L238.50,476.02 L238.75,476.67 L239.00,477.28 L239.25,477.83 L239.50,478.34 L239.75,478.79 L240.00,479.20 L240.25,479.57 L240.50,479.94 L240.75,480.29 L241.00,480.63 L241.25,480.96 L241.50,481.27 L241.75,481.58 L242.00,481.86 L242.25,482.14 L242.50,482.40 L242.75,482.65 L243.00,482.88 L243.25,483.10 L243.50,483.31 L243.75,483.50 L244.00,483.67 L244.25,483.83 L244.50,483.97 L244.75,484.09 L245.00,484.20 L245.25,484.30 L245.50,484.40 L245.75,484.49 L246.00,484.58 L246.25,484.67 L246.50,484.76 L246.75,484.85 L247.00,484.93 L247.25,485.01 L247.50,485.09 L247.75,485.17 L248.00,485.24 L248.25,485.31 L248.50,485.37 L248.75,485.43 L249.00,485.49 L249.25,485.54 L249.50,485.59 L249.75,485.63 L250.00,485.67 L250.25,485.71 L250.50,485.73 L250.75,485.76 L251.00,485.78 L251.25,485.79 L251.50,485.80 L251.75,485.80 L252.00,485.80 L252.25,485.79 L252.50,485.78 L252.75,485.77 L253.00,485.75 L253.25,485.73 L253.50,485.70 L253.75,485.68 L254.00,485.64 L254.25,485.61 L254.50,485.57 L254.75,485.53 L255.00,485.49 L255.25,485.44 L255.50,485.40 L255.75,485.35 L256.00,485.29 L256.25,485.24 L256.50,485.18 L256.75,485.12 L257.00,485.06 L257.25,484.99 L257.50,484.92 L257.75,484.86 L258.00,484.79 L258.25,484.71 L258.50,484.63 L258.75,484.53 L259.00,484.41 L259.25,484.26 L259.50,484.10 L259.75,483.92 L260.00,483.72 L260.25,483.51 L260.50,483.29 L260.75,483.06 L261.00,482.82 L261.25,482.57 L261.50,482.32 L261.75,482.07 L262.00,481.81 L262.25,481.55 L262.50,481.29 L262.75,481.01 L263.00,480.73 L263.25,480.42 L263.50,480.11 L263.75,479.78 L264.00,479.44 L264.25,479.09 L264.50,478.72 L264.75,478.35 L265.00,477.96 L265.25,477.57 L265.50,477.16 L265.75,476.75 L266.00,476.33 L266.25,475.90 L266.50,475.46 L266.75,475.01 L267.00,474.55 L267.25,474.09 L267.50,473.61 L267.75,473.11 L268.00,472.59 L268.25,472.06 L268.50,471.51 L268.75,470.93 L269.00,470.32 L269.25,469.69 L269.50,469.03 L269.75,468.33 L270.00,467.60 L270.25,466.83 L270.50,466.01 L270.75,465.13 L271.00,464.19 L271.25,463.18 L271.50,462.12 L271.75,461.00 L272.00,459.81 L272.25,458.56 L272.50,457.24 L272.75,455.86 L273.00,454.40 L273.25,452.74 L273.50,450.89 L273.75,448.87 L274.00,446.74 L274.25,444.50 L274.50,442.22 L274.75,439.91 L275.00,437.61 L275.25,435.35 L275.50,433.10 L275.75,430.82 L276.00,428.47 L276.25,426.01 L276.50,423.40 L276.75,420.59 L277.00,417.44 L277.25,413.84 L277.50,410.02 L277.75,406.24 L278.00,402.72 L278.25,399.30 L278.50,395.94 L278.75,392.62 L279.00,389.35 L279.25,386.13 L279.50,382.95 L279.75,379.85 L280.00,376.83 L280.25,373.88 L280.50,370.95 L280.75,368.01 L281.00,365.00 L281.25,361.79 L281.50,358.37 L281.75,354.90 L282.00,351.55 L282.25,348.49 L282.50,345.88 L282.75,343.79 L283.00,341.90 L283.25,340.24 L283.50,338.86 L283.75,337.81 L284.00,336.89 L284.25,336.23 L284.50,336.16 L284.75,336.71 L285.00,337.61 L285.25,338.72 L285.50,340.42 L285.75,342.57 L286.00,345.00 L286.25,347.51 L286.50,350.02 L286.75,352.70 L287.00,355.58 L287.25,358.70 L287.50,362.08 L287.75,365.77 L288.00,369.97 L288.25,374.69 L288.50,379.80 L288.75,385.17 L289.00,390.69 L289.25,396.42 L289.50,402.89 L289.75,409.56 L290.00,415.78 L290.25,420.93 L290.50,425.29 L290.75,429.23 L291.00,432.81 L291.25,436.08 L291.50,439.13 L291.75,442.03 L292.00,444.78 L292.25,447.36 L292.50,449.76 L292.75,451.98 L293.00,454.00 L293.25,455.86 L293.50,457.59 L293.75,459.20 L294.00,460.71 L294.25,462.11 L294.50,463.41 L294.75,464.62 L295.00,465.79 L295.25,466.92 L295.50,467.99 L295.75,469.01 L296.00,469.98 L296.25,470.88 L296.50,471.71 L296.75,472.48 L297.00,473.17 L297.25,473.83 L297.50,474.46 L297.75,475.06 L298.00,475.63 L298.25,476.18 L298.50,476.71 L298.75,477.21 L299.00,477.68 L299.25,478.13 L299.50,478.55 L299.75,478.95 L300.00,479.32 L300.25,479.67 L300.50,480.00 L300.75,480.32 L301.00,480.62 L301.25,480.91 L301.50,481.19 L301.75,481.46 L302.00,481.71 L302.25,481.95 L302.50,482.19 L302.75,482.41 L303.00,482.62 L303.25,482.83 L303.50,483.02 L303.75,483.21 L304.00,483.40 L304.25,483.58 L304.50,483.76 L304.75,483.93 L305.00,484.10 L305.25,484.26 L305.50,484.41 L305.75,484.56 L306.00,484.71 L306.25,484.84 L306.50,484.97 L306.75,485.09 L307.00,485.20 L307.25,485.31 L307.50,485.40" stroke="#D95319" stroke-width="1.65"/>
</g>
<text transform="translate(48.60,302.50) scale(0.91,1)" font-size="16.0" text-anchor="end" fill="#0072BD" font-weight="normal" >100</text>
<text transform="translate(48.60,398.50) scale(0.91,1)" font-size="16.0" text-anchor="end" fill="#0072BD" font-weight="normal" >50</text>
<text transform="translate(48.60,494.50) scale(0.91,1)" font-size="16.0" text-anchor="end" fill="#0072BD" font-weight="normal" >0</text>
<text transform="translate(312.10,302.25) scale(0.87,1)" font-size="16.0" text-anchor="start" fill="#D95319" font-weight="normal" >0.2</text>
<text transform="translate(312.10,398.25) scale(0.87,1)" font-size="16.0" text-anchor="start" fill="#D95319" font-weight="normal" >0.1</text>
<text transform="translate(312.10,494.20) scale(0.87,1)" font-size="16.0" text-anchor="start" fill="#D95319" font-weight="normal" >0</text>
<text transform="translate(53.10,507.70) scale(0.945,1)" font-size="16.0" text-anchor="middle" fill="#262626" font-weight="normal" >0</text>
<text transform="translate(137.87,507.70) scale(0.945,1)" font-size="16.0" text-anchor="middle" fill="#262626" font-weight="normal" >365</text>
<text transform="translate(222.53,507.70) scale(0.945,1)" font-size="16.0" text-anchor="middle" fill="#262626" font-weight="normal" >730</text>
<text transform="translate(307.50,507.70) scale(0.945,1)" font-size="16.0" text-anchor="middle" fill="#262626" font-weight="normal" >1095</text>
<text transform="translate(181.00,528.40) scale(1,1)" font-size="17.0" text-anchor="middle" fill="#262626" font-weight="normal" textLength="40.0" lengthAdjust="spacingAndGlyphs">Days</text>
<text transform="translate(17.70,394.90) rotate(-90)" font-size="17.6" text-anchor="middle" fill="#0072BD" textLength="184.3" lengthAdjust="spacingAndGlyphs">Susceptible/Activity (%)</text>
<text transform="translate(350.50,393.70) rotate(-90)" font-size="17.6" text-anchor="middle" fill="#D95319" textLength="89.1" lengthAdjust="spacingAndGlyphs">Infected (%)</text>
<text transform="translate(180.4,284.0) scale(0.91,1)" font-size="16.0" font-weight="bold" text-anchor="middle" fill="#000" textLength="184.62" lengthAdjust="spacingAndGlyphs"><tspan>Low Vaccination, v &lt; T</tspan><tspan font-size="11.20" dy="6.80">2</tspan></text>
<clipPath id="clip3"><rect x="411.70000000000005" y="287.9" width="257.2" height="202.0"/></clipPath>
<line x1="412.6" y1="289.5" x2="668.0" y2="289.5" stroke="#262626" stroke-width="1" stroke-opacity="0.3"/>
<line x1="412.6" y1="488.5" x2="668.0" y2="488.5" stroke="#262626" stroke-width="1" stroke-opacity="0.3"/>
<line x1="413.1" y1="289.5" x2="413.1" y2="488.5" stroke="#0072BD" stroke-width="1" stroke-opacity="0.28"/>
<line x1="667.5" y1="289.5" x2="667.5" y2="488.5" stroke="#D95319" stroke-width="1" stroke-opacity="0.32"/>
<line x1="497.50" y1="488.5" x2="497.50" y2="485.9" stroke="#262626" stroke-width="1" stroke-opacity="0.24"/>
<line x1="497.50" y1="289.5" x2="497.50" y2="292.1" stroke="#262626" stroke-width="1" stroke-opacity="0.24"/>
<line x1="582.50" y1="488.5" x2="582.50" y2="485.9" stroke="#262626" stroke-width="1" stroke-opacity="0.24"/>
<line x1="582.50" y1="289.5" x2="582.50" y2="292.1" stroke="#262626" stroke-width="1" stroke-opacity="0.24"/>
<line x1="413.1" y1="388.50" x2="415.70000000000005" y2="388.50" stroke="#0072BD" stroke-width="1" stroke-opacity="0.22400000000000003"/>
<line x1="667.5" y1="388.50" x2="664.9" y2="388.50" stroke="#D95319" stroke-width="1" stroke-opacity="0.256"/>
<g clip-path="url(#clip3)" fill="none" stroke-linejoin="round">
<path d="M413.00,289.30 L413.50,289.43 L414.00,289.54 L414.50,289.65 L415.00,289.74 L415.50,289.82 L416.00,289.88 L416.50,289.93 L417.00,289.98 L417.50,290.02 L418.00,290.05 L418.50,290.09 L419.00,290.12 L419.50,290.15 L420.00,290.17 L420.50,290.20 L421.00,290.22 L421.50,290.24 L422.00,290.26 L422.50,290.27 L423.00,290.29 L423.50,290.31 L424.00,290.32 L424.50,290.34 L425.00,290.35 L425.50,290.37 L426.00,290.38 L426.50,290.40 L427.00,290.41 L427.50,290.42 L428.00,290.44 L428.50,290.45 L429.00,290.47 L429.50,290.48 L430.00,290.50 L430.50,290.51 L431.00,290.53 L431.50,290.54 L432.00,290.56 L432.50,290.57 L433.00,290.59 L433.50,290.60 L434.00,290.61 L434.50,290.63 L435.00,290.64 L435.50,290.66 L436.00,290.67 L436.50,290.68 L437.00,290.70 L437.50,290.71 L438.00,290.72 L438.50,290.73 L439.00,290.75 L439.50,290.76 L440.00,290.77 L440.50,290.78 L441.00,290.79 L441.50,290.80 L442.00,290.81 L442.50,290.82 L443.00,290.83 L443.50,290.84 L444.00,290.84 L444.50,290.85 L445.00,290.86 L445.50,290.87 L446.00,290.87 L446.50,290.88 L447.00,290.88 L447.50,290.88 L448.00,290.89 L448.50,290.89 L449.00,290.89 L449.50,290.89 L450.00,290.89 L450.50,290.89 L451.00,290.89 L451.50,290.89 L452.00,290.89 L452.50,290.89 L453.00,290.88 L453.50,290.88 L454.00,290.87 L454.50,290.87 L455.00,290.86 L455.50,290.85 L456.00,290.85 L456.50,290.84 L457.00,290.83 L457.50,290.82 L458.00,290.81 L458.50,290.81 L459.00,290.80 L459.50,290.79 L460.00,290.78 L460.50,290.77 L461.00,290.76 L461.50,290.74 L462.00,290.73 L462.50,290.72 L463.00,290.71 L463.50,290.70 L464.00,290.69 L464.50,290.68 L465.00,290.67 L465.50,290.66 L466.00,290.65 L466.50,290.64 L467.00,290.63 L467.50,290.62 L468.00,290.61 L468.50,290.60 L469.00,290.59 L469.50,290.58 L470.00,290.57 L470.50,290.56 L471.00,290.55 L471.50,290.55 L472.00,290.54 L472.50,290.53 L473.00,290.53 L473.50,290.52 L474.00,290.52 L474.50,290.52 L475.00,290.52 L475.50,290.52 L476.00,290.53 L476.50,290.53 L477.00,290.55 L477.50,290.56 L478.00,290.59 L478.50,290.62 L479.00,290.65 L479.50,290.70 L480.00,290.74 L480.50,290.80 L481.00,290.86 L481.50,290.92 L482.00,290.99 L482.50,291.06 L483.00,291.14 L483.50,291.22 L484.00,291.31 L484.50,291.40 L485.00,291.50 L485.50,291.61 L486.00,291.72 L486.50,291.85 L487.00,291.98 L487.50,292.12 L488.00,292.27 L488.50,292.44 L489.00,292.62 L489.50,292.81 L490.00,293.02 L490.50,293.24 L491.00,293.48 L491.50,293.74 L492.00,294.01 L492.50,294.30 L493.00,294.61 L493.50,294.94 L494.00,295.29 L494.50,295.66 L495.00,296.05 L495.50,296.46 L496.00,296.89 L496.50,297.34 L497.00,297.80 L497.50,298.28 L498.00,298.77 L498.50,299.27 L499.00,299.79 L499.50,300.32 L500.00,300.86 L500.50,301.41 L501.00,301.97 L501.50,302.54 L502.00,303.12 L502.50,303.71 L503.00,304.32 L503.50,304.93 L504.00,305.55 L504.50,306.18 L505.00,306.83 L505.50,307.48 L506.00,308.14 L506.50,308.81 L507.00,309.49 L507.50,310.18 L508.00,310.87 L508.50,311.58 L509.00,312.29 L509.50,313.01 L510.00,313.74 L510.50,314.48 L511.00,315.23 L511.50,315.98 L512.00,316.75 L512.50,317.53 L513.00,318.32 L513.50,319.11 L514.00,319.92 L514.50,320.74 L515.00,321.57 L515.50,322.41 L516.00,323.26 L516.50,324.11 L517.00,324.98 L517.50,325.84 L518.00,326.72 L518.50,327.60 L519.00,328.48 L519.50,329.36 L520.00,330.25 L520.50,331.14 L521.00,332.03 L521.50,332.92 L522.00,333.81 L522.50,334.70 L523.00,335.58 L523.50,336.46 L524.00,337.34 L524.50,338.21 L525.00,339.07 L525.50,339.93 L526.00,340.78 L526.50,341.62 L527.00,342.46 L527.50,343.29 L528.00,344.11 L528.50,344.93 L529.00,345.74 L529.50,346.55 L530.00,347.36 L530.50,348.17 L531.00,348.97 L531.50,349.77 L532.00,350.57 L532.50,351.37 L533.00,352.17 L533.50,352.97 L534.00,353.77 L534.50,354.56 L535.00,355.36 L535.50,356.15 L536.00,356.95 L536.50,357.75 L537.00,358.54 L537.50,359.34 L538.00,360.14 L538.50,360.94 L539.00,361.75 L539.50,362.55 L540.00,363.35 L540.50,364.16 L541.00,364.96 L541.50,365.76 L542.00,366.56 L542.50,367.35 L543.00,368.14 L543.50,368.92 L544.00,369.70 L544.50,370.46 L545.00,371.23 L545.50,371.99 L546.00,372.74 L546.50,373.49 L547.00,374.23 L547.50,374.97 L548.00,375.70 L548.50,376.43 L549.00,377.16 L549.50,377.89 L550.00,378.62 L550.50,379.34 L551.00,380.06 L551.50,380.77 L552.00,381.48 L552.50,382.19 L553.00,382.88 L553.50,383.57 L554.00,384.25 L554.50,384.92 L555.00,385.57 L555.50,386.22 L556.00,386.86 L556.50,387.48 L557.00,388.09 L557.50,388.70 L558.00,389.29 L558.50,389.88 L559.00,390.45 L559.50,391.02 L560.00,391.57 L560.50,392.12 L561.00,392.66 L561.50,393.19 L562.00,393.71 L562.50,394.22 L563.00,394.72 L563.50,395.21 L564.00,395.69 L564.50,396.16 L565.00,396.61 L565.50,397.06 L566.00,397.50 L566.50,397.93 L567.00,398.36 L567.50,398.77 L568.00,399.19 L568.50,399.59 L569.00,400.00 L569.50,400.40 L570.00,400.79 L570.50,401.18 L571.00,401.56 L571.50,401.94 L572.00,402.30 L572.50,402.66 L573.00,403.01 L573.50,403.34 L574.00,403.67 L574.50,403.99 L575.00,404.29 L575.50,404.60 L576.00,404.89 L576.50,405.18 L577.00,405.46 L577.50,405.74 L578.00,406.01 L578.50,406.28 L579.00,406.55 L579.50,406.81 L580.00,407.07 L580.50,407.33 L581.00,407.58 L581.50,407.83 L582.00,408.08 L582.50,408.32 L583.00,408.55 L583.50,408.78 L584.00,409.01 L584.50,409.23 L585.00,409.45 L585.50,409.67 L586.00,409.88 L586.50,410.08 L587.00,410.28 L587.50,410.48 L588.00,410.67 L588.50,410.85 L589.00,411.03 L589.50,411.20 L590.00,411.37 L590.50,411.54 L591.00,411.70 L591.50,411.85 L592.00,412.00 L592.50,412.15 L593.00,412.30 L593.50,412.45 L594.00,412.59 L594.50,412.73 L595.00,412.87 L595.50,413.01 L596.00,413.15 L596.50,413.29 L597.00,413.43 L597.50,413.57 L598.00,413.71 L598.50,413.84 L599.00,413.97 L599.50,414.10 L600.00,414.23 L600.50,414.35 L601.00,414.47 L601.50,414.59 L602.00,414.70 L602.50,414.82 L603.00,414.93 L603.50,415.04 L604.00,415.14 L604.50,415.25 L605.00,415.35 L605.50,415.45 L606.00,415.55 L606.50,415.65 L607.00,415.74 L607.50,415.84 L608.00,415.93 L608.50,416.02 L609.00,416.11 L609.50,416.20 L610.00,416.29 L610.50,416.37 L611.00,416.46 L611.50,416.54 L612.00,416.62 L612.50,416.70 L613.00,416.78 L613.50,416.85 L614.00,416.93 L614.50,417.00 L615.00,417.07 L615.50,417.14 L616.00,417.21 L616.50,417.27 L617.00,417.33 L617.50,417.39 L618.00,417.45 L618.50,417.51 L619.00,417.56 L619.50,417.62 L620.00,417.67 L620.50,417.72 L621.00,417.76 L621.50,417.81 L622.00,417.85 L622.50,417.90 L623.00,417.94 L623.50,417.97 L624.00,418.01 L624.50,418.05 L625.00,418.08 L625.50,418.11 L626.00,418.15 L626.50,418.18 L627.00,418.21 L627.50,418.24 L628.00,418.27 L628.50,418.30 L629.00,418.33 L629.50,418.36 L630.00,418.39 L630.50,418.42 L631.00,418.45 L631.50,418.48 L632.00,418.51 L632.50,418.54 L633.00,418.56 L633.50,418.59 L634.00,418.61 L634.50,418.63 L635.00,418.65 L635.50,418.67 L636.00,418.69 L636.50,418.71 L637.00,418.72 L637.50,418.73 L638.00,418.75 L638.50,418.76 L639.00,418.77 L639.50,418.79 L640.00,418.80 L640.50,418.81 L641.00,418.82 L641.50,418.83 L642.00,418.84 L642.50,418.85 L643.00,418.86 L643.50,418.87 L644.00,418.88 L644.50,418.89 L645.00,418.90 L645.50,418.91 L646.00,418.92 L646.50,418.93 L647.00,418.93 L647.50,418.94 L648.00,418.95 L648.50,418.95 L649.00,418.96 L649.50,418.97 L650.00,418.97 L650.50,418.98 L651.00,418.98 L651.50,418.98 L652.00,418.99 L652.50,418.99 L653.00,418.99 L653.50,418.99 L654.00,419.00 L654.50,419.00 L655.00,419.00 L655.50,419.00 L656.00,419.00 L656.50,419.00 L657.00,419.00 L657.50,419.00 L658.00,419.00 L658.50,419.00 L659.00,419.00 L659.50,419.00 L660.00,419.00 L660.50,419.00 L661.00,419.00 L661.50,419.00 L662.00,419.00 L662.50,419.00 L663.00,419.00 L663.50,419.00 L664.00,419.00 L664.50,419.00 L665.00,419.00 L665.50,419.00 L666.00,419.00 L666.50,419.00 L667.00,419.00 L667.50,419.00" stroke="#0072BD" stroke-width="1.6"/>
<line x1="412.8" y1="422.42" x2="667.5" y2="422.42" stroke="#000" stroke-width="2.6" stroke-dasharray="10.2 10.05"/>
<path d="M413.00,367.80 L413.25,367.92 L413.50,368.10 L413.75,368.33 L414.00,368.62 L414.25,368.98 L414.50,369.41 L414.75,369.93 L415.00,370.54 L415.25,371.26 L415.50,372.10 L415.75,373.65 L416.00,376.04 L416.25,378.61 L416.50,381.43 L416.75,384.56 L417.00,387.93 L417.25,391.59 L417.50,395.20 L417.75,398.46 L418.00,402.00 L418.25,406.05 L418.50,412.00 L418.75,427.58 L419.00,437.21 L419.25,444.82 L419.50,453.10 L419.75,463.74 L420.00,473.10 L420.25,479.40 L420.50,484.60 L420.75,487.36 L421.00,487.71 L421.25,487.90 L421.50,487.99 L421.75,487.95 L422.00,487.68 L422.25,487.27 L422.50,486.78 L422.75,486.00 L423.00,484.97 L423.25,483.81 L423.50,482.64 L423.75,481.55 L424.00,480.44 L424.25,479.30 L424.50,478.12 L424.75,476.90 L425.00,475.62 L425.25,474.29 L425.50,472.88 L425.75,471.40 L426.00,469.87 L426.25,468.31 L426.50,466.73 L426.75,465.14 L427.00,463.51 L427.25,461.85 L427.50,460.16 L427.75,458.46 L428.00,456.77 L428.25,455.10 L428.50,453.46 L428.75,451.83 L429.00,450.18 L429.25,448.49 L429.50,446.73 L429.75,444.87 L430.00,442.88 L430.25,440.84 L430.50,438.80 L430.75,436.80 L431.00,434.75 L431.25,432.75 L431.50,430.88 L431.75,429.23 L432.00,427.71 L432.25,426.28 L432.50,424.91 L432.75,423.59 L433.00,422.29 L433.25,420.98 L433.50,419.65 L433.75,418.27 L434.00,416.86 L434.25,415.44 L434.50,414.03 L434.75,412.62 L435.00,411.24 L435.25,409.90 L435.50,408.60 L435.75,407.36 L436.00,406.15 L436.25,404.97 L436.50,403.82 L436.75,402.70 L437.00,401.59 L437.25,400.50 L437.50,399.43 L437.75,398.36 L438.00,397.32 L438.25,396.29 L438.50,395.27 L438.75,394.27 L439.00,393.29 L439.25,392.33 L439.50,391.38 L439.75,390.45 L440.00,389.55 L440.25,388.68 L440.50,387.82 L440.75,386.95 L441.00,386.07 L441.25,385.14 L441.50,384.18 L441.75,383.20 L442.00,382.23 L442.25,381.28 L442.50,380.36 L442.75,379.44 L443.00,378.54 L443.25,377.68 L443.50,376.89 L443.75,376.18 L444.00,375.49 L444.25,374.83 L444.50,374.23 L444.75,373.69 L445.00,373.25 L445.25,372.89 L445.50,372.54 L445.75,372.24 L446.00,372.01 L446.25,371.90 L446.50,371.94 L446.75,372.09 L447.00,372.34 L447.25,372.70 L447.50,373.16 L447.75,373.75 L448.00,375.24 L448.25,377.67 L448.50,382.10 L448.75,388.99 L449.00,391.86 L449.25,393.70 L449.50,395.64 L449.75,398.80 L450.00,404.37 L450.25,411.74 L450.50,422.30 L450.75,431.68 L451.00,437.57 L451.25,445.47 L451.50,455.87 L451.75,461.23 L452.00,465.21 L452.25,468.83 L452.50,472.31 L452.75,475.45 L453.00,478.23 L453.25,480.67 L453.50,483.18 L453.75,485.54 L454.00,487.22 L454.25,487.69 L454.50,487.42 L454.75,486.88 L455.00,486.18 L455.25,484.95 L455.50,483.41 L455.75,481.92 L456.00,480.46 L456.25,478.95 L456.50,477.41 L456.75,475.86 L457.00,474.32 L457.25,472.80 L457.50,471.29 L457.75,469.79 L458.00,468.29 L458.25,466.80 L458.50,465.30 L458.75,463.80 L459.00,462.30 L459.25,460.80 L459.50,459.31 L459.75,457.81 L460.00,456.30 L460.25,454.80 L460.50,453.31 L460.75,451.82 L461.00,450.33 L461.25,448.82 L461.50,447.28 L461.75,445.68 L462.00,444.07 L462.25,442.45 L462.50,440.76 L462.75,438.96 L463.00,437.00 L463.25,434.59 L463.50,431.97 L463.75,429.83 L464.00,428.13 L464.25,426.58 L464.50,425.18 L464.75,423.86 L465.00,422.61 L465.25,421.38 L465.50,420.13 L465.75,418.84 L466.00,417.54 L466.25,416.25 L466.50,414.99 L466.75,413.74 L467.00,412.50 L467.25,411.28 L467.50,410.06 L467.75,408.86 L468.00,407.65 L468.25,406.45 L468.50,405.24 L468.75,404.05 L469.00,402.87 L469.25,401.71 L469.50,400.57 L469.75,399.47 L470.00,398.42 L470.25,397.40 L470.50,396.44 L470.75,395.53 L471.00,394.65 L471.25,393.79 L471.50,392.91 L471.75,392.02 L472.00,391.12 L472.25,390.23 L472.50,389.32 L472.75,388.39 L473.00,387.43 L473.25,386.46 L473.50,385.45 L473.75,384.41 L474.00,383.29 L474.25,382.07 L474.50,380.87 L474.75,379.79 L475.00,378.86 L475.25,377.93 L475.50,377.06 L475.75,376.27 L476.00,375.63 L476.25,375.17 L476.50,374.86 L476.75,374.57 L477.00,374.31 L477.25,374.08 L477.50,373.89 L477.75,373.74 L478.00,373.64 L478.25,373.60 L478.50,373.60 L478.75,373.62 L479.00,373.64 L479.25,373.68 L479.50,373.72 L479.75,373.79 L480.00,374.18 L480.25,375.40 L480.50,377.25 L480.75,380.27 L481.00,385.20 L481.25,389.37 L481.50,393.20 L481.75,396.31 L482.00,399.20 L482.25,402.83 L482.50,407.70 L482.75,413.56 L483.00,420.10 L483.25,427.89 L483.50,436.62 L483.75,445.21 L484.00,453.10 L484.25,458.69 L484.50,463.35 L484.75,467.35 L485.00,471.03 L485.25,474.47 L485.50,477.47 L485.75,479.82 L486.00,481.64 L486.25,483.36 L486.50,484.81 L486.75,485.82 L487.00,486.20 L487.25,486.05 L487.50,485.66 L487.75,485.11 L488.00,484.50 L488.25,483.69 L488.50,482.56 L488.75,481.21 L489.00,479.72 L489.25,478.20 L489.50,476.74 L489.75,475.42 L490.00,474.18 L490.25,472.95 L490.50,471.67 L490.75,470.30 L491.00,468.77 L491.25,466.96 L491.50,464.68 L491.75,462.23 L492.00,459.91 L492.25,457.99 L492.50,456.29 L492.75,454.70 L493.00,453.12 L493.25,451.45 L493.50,449.62 L493.75,447.65 L494.00,445.64 L494.25,443.68 L494.50,441.87 L494.75,440.25 L495.00,438.76 L495.25,437.34 L495.50,435.99 L495.75,434.68 L496.00,433.39 L496.25,432.08 L496.50,430.75 L496.75,429.37 L497.00,427.98 L497.25,426.60 L497.50,425.21 L497.75,423.82 L498.00,422.43 L498.25,421.04 L498.50,419.65 L498.75,418.27 L499.00,416.89 L499.25,415.50 L499.50,414.12 L499.75,412.74 L500.00,411.37 L500.25,410.00 L500.50,408.64 L500.75,407.28 L501.00,405.90 L501.25,404.50 L501.50,403.11 L501.75,401.74 L502.00,400.41 L502.25,399.14 L502.50,397.95 L502.75,396.86 L503.00,395.86 L503.25,394.94 L503.50,394.05 L503.75,393.15 L504.00,392.22 L504.25,391.21 L504.50,390.09 L504.75,388.86 L505.00,387.60 L505.25,386.42 L505.50,385.35 L505.75,384.33 L506.00,383.35 L506.25,382.40 L506.50,381.47 L506.75,380.55 L507.00,379.65 L507.25,378.77 L507.50,377.91 L507.75,377.08 L508.00,376.28 L508.25,375.50 L508.50,374.74 L508.75,374.00 L509.00,373.27 L509.25,372.56 L509.50,371.87 L509.75,371.19 L510.00,370.48 L510.25,369.77 L510.50,369.07 L510.75,368.40 L511.00,367.78 L511.25,367.22 L511.50,366.76 L511.75,366.38 L512.00,366.00 L512.25,365.63 L512.50,365.28 L512.75,364.95 L513.00,364.65 L513.25,364.39 L513.50,364.18 L513.75,364.02 L514.00,363.92 L514.25,363.90 L514.50,364.07 L514.75,364.45 L515.00,365.02 L515.25,365.75 L515.50,366.61 L515.75,367.57 L516.00,368.60 L516.25,370.09 L516.50,372.20 L516.75,374.60 L517.00,377.46 L517.25,380.82 L517.50,385.01 L517.75,388.88 L518.00,391.96 L518.25,394.73 L518.50,397.52 L518.75,400.67 L519.00,404.15 L519.25,407.87 L519.50,411.80 L519.75,415.96 L520.00,420.73 L520.25,425.83 L520.50,430.69 L520.75,434.72 L521.00,438.10 L521.25,441.12 L521.50,443.90 L521.75,446.52 L522.00,449.16 L522.25,451.69 L522.50,453.83 L522.75,455.36 L523.00,456.62 L523.25,457.77 L523.50,458.72 L523.75,459.36 L524.00,459.60 L524.25,459.48 L524.50,459.16 L524.75,458.67 L525.00,458.06 L525.25,457.38 L525.50,456.66 L525.75,455.96 L526.00,455.19 L526.25,454.30 L526.50,453.31 L526.75,452.21 L527.00,451.02 L527.25,449.73 L527.50,448.14 L527.75,446.31 L528.00,444.42 L528.25,442.66 L528.50,440.99 L528.75,439.34 L529.00,437.70 L529.25,436.08 L529.50,434.49 L529.75,432.93 L530.00,431.40 L530.25,429.90 L530.50,428.45 L530.75,427.03 L531.00,425.64 L531.25,424.27 L531.50,422.91 L531.75,421.56 L532.00,420.20 L532.25,418.82 L532.50,417.42 L532.75,416.00 L533.00,414.58 L533.25,413.16 L533.50,411.77 L533.75,410.41 L534.00,409.10 L534.25,407.86 L534.50,406.66 L534.75,405.49 L535.00,404.35 L535.25,403.23 L535.50,402.15 L535.75,401.08 L536.00,400.04 L536.25,399.01 L536.50,398.00 L536.75,397.02 L537.00,396.07 L537.25,395.15 L537.50,394.25 L537.75,393.34 L538.00,392.43 L538.25,391.49 L538.50,390.53 L538.75,389.55 L539.00,388.57 L539.25,387.58 L539.50,386.58 L539.75,385.59 L540.00,384.60 L540.25,383.60 L540.50,382.60 L540.75,381.58 L541.00,380.58 L541.25,379.59 L541.50,378.64 L541.75,377.72 L542.00,376.85 L542.25,376.03 L542.50,375.23 L542.75,374.44 L543.00,373.64 L543.25,372.82 L543.50,371.97 L543.75,371.06 L544.00,370.08 L544.25,369.04 L544.50,367.97 L544.75,366.90 L545.00,365.87 L545.25,364.91 L545.50,364.01 L545.75,363.13 L546.00,362.27 L546.25,361.44 L546.50,360.62 L546.75,359.80 L547.00,359.00 L547.25,358.20 L547.50,357.40 L547.75,356.61 L548.00,355.84 L548.25,355.08 L548.50,354.33 L548.75,353.62 L549.00,352.93 L549.25,352.25 L549.50,351.59 L549.75,350.95 L550.00,350.32 L550.25,349.70 L550.50,349.10 L550.75,348.50 L551.00,347.92 L551.25,347.34 L551.50,346.77 L551.75,346.22 L552.00,345.67 L552.25,345.13 L552.50,344.60 L552.75,344.08 L553.00,343.57 L553.25,343.07 L553.50,342.57 L553.75,342.09 L554.00,341.61 L554.25,341.15 L554.50,340.71 L554.75,340.27 L555.00,339.85 L555.25,339.42 L555.50,338.99 L555.75,338.55 L556.00,338.09 L556.25,337.61 L556.50,337.11 L556.75,336.59 L557.00,336.05 L557.25,335.52 L557.50,334.99 L557.75,334.47 L558.00,333.97 L558.25,333.49 L558.50,333.04 L558.75,332.61 L559.00,332.18 L559.25,331.77 L559.50,331.36 L559.75,330.96 L560.00,330.57 L560.25,330.18 L560.50,329.80 L560.75,329.42 L561.00,329.05 L561.25,328.68 L561.50,328.31 L561.75,327.94 L562.00,327.58 L562.25,327.22 L562.50,326.87 L562.75,326.53 L563.00,326.18 L563.25,325.85 L563.50,325.52 L563.75,325.19 L564.00,324.87 L564.25,324.56 L564.50,324.26 L564.75,323.96 L565.00,323.67 L565.25,323.38 L565.50,323.09 L565.75,322.81 L566.00,322.52 L566.25,322.24 L566.50,321.96 L566.75,321.68 L567.00,321.39 L567.25,321.10 L567.50,320.81 L567.75,320.51 L568.00,320.20 L568.25,319.90 L568.50,319.59 L568.75,319.29 L569.00,318.98 L569.25,318.68 L569.50,318.39 L569.75,318.10 L570.00,317.83 L570.25,317.56 L570.50,317.30 L570.75,317.05 L571.00,316.81 L571.25,316.58 L571.50,316.35 L571.75,316.13 L572.00,315.91 L572.25,315.70 L572.50,315.49 L572.75,315.28 L573.00,315.08 L573.25,314.88 L573.50,314.68 L573.75,314.48 L574.00,314.29 L574.25,314.09 L574.50,313.90 L574.75,313.71 L575.00,313.51 L575.25,313.32 L575.50,313.13 L575.75,312.94 L576.00,312.75 L576.25,312.56 L576.50,312.38 L576.75,312.20 L577.00,312.02 L577.25,311.84 L577.50,311.67 L577.75,311.51 L578.00,311.35 L578.25,311.19 L578.50,311.04 L578.75,310.89 L579.00,310.75 L579.25,310.60 L579.50,310.46 L579.75,310.33 L580.00,310.19 L580.25,310.06 L580.50,309.93 L580.75,309.80 L581.00,309.68 L581.25,309.55 L581.50,309.43 L581.75,309.31 L582.00,309.20 L582.25,309.08 L582.50,308.97 L582.75,308.86 L583.00,308.76 L583.25,308.65 L583.50,308.54 L583.75,308.44 L584.00,308.33 L584.25,308.23 L584.50,308.12 L584.75,308.02 L585.00,307.92 L585.25,307.82 L585.50,307.73 L585.75,307.64 L586.00,307.56 L586.25,307.48 L586.50,307.40 L586.75,307.33 L587.00,307.27 L587.25,307.21 L587.50,307.16 L587.75,307.11 L588.00,307.06 L588.25,307.01 L588.50,306.96 L588.75,306.91 L589.00,306.86 L589.25,306.82 L589.50,306.78 L589.75,306.73 L590.00,306.69 L590.25,306.66 L590.50,306.62 L590.75,306.59 L591.00,306.55 L591.25,306.52 L591.50,306.50 L591.75,306.47 L592.00,306.45 L592.25,306.43 L592.50,306.42 L592.75,306.41 L593.00,306.40 L593.25,306.39 L593.50,306.38 L593.75,306.37 L594.00,306.36 L594.25,306.36 L594.50,306.35 L594.75,306.34 L595.00,306.34 L595.25,306.33 L595.50,306.33 L595.75,306.32 L596.00,306.32 L596.25,306.31 L596.50,306.31 L596.75,306.31 L597.00,306.30 L597.25,306.30 L597.50,306.30 L597.75,306.30 L598.00,306.30 L598.25,306.30 L598.50,306.31 L598.75,306.32 L599.00,306.32 L599.25,306.34 L599.50,306.35 L599.75,306.36 L600.00,306.38 L600.25,306.40 L600.50,306.42 L600.75,306.43 L601.00,306.45 L601.25,306.47 L601.50,306.49 L601.75,306.51 L602.00,306.53 L602.25,306.55 L602.50,306.57 L602.75,306.58 L603.00,306.60 L603.25,306.61 L603.50,306.63 L603.75,306.64 L604.00,306.66 L604.25,306.67 L604.50,306.68 L604.75,306.70 L605.00,306.71 L605.25,306.73 L605.50,306.74 L605.75,306.75 L606.00,306.77 L606.25,306.78 L606.50,306.80 L606.75,306.81 L607.00,306.83 L607.25,306.85 L607.50,306.86 L607.75,306.88 L608.00,306.90 L608.25,306.92 L608.50,306.94 L608.75,306.96 L609.00,306.99 L609.25,307.01 L609.50,307.04 L609.75,307.06 L610.00,307.09 L610.25,307.12 L610.50,307.15 L610.75,307.17 L611.00,307.20 L611.25,307.23 L611.50,307.26 L611.75,307.28 L612.00,307.31 L612.25,307.33 L612.50,307.36 L612.75,307.38 L613.00,307.40 L613.25,307.42 L613.50,307.44 L613.75,307.46 L614.00,307.49 L614.25,307.51 L614.50,307.53 L614.75,307.55 L615.00,307.57 L615.25,307.59 L615.50,307.61 L615.75,307.63 L616.00,307.65 L616.25,307.66 L616.50,307.68 L616.75,307.69 L617.00,307.69 L617.25,307.70 L617.50,307.70 L617.75,307.70 L618.00,307.70 L618.25,307.70 L618.50,307.69 L618.75,307.69 L619.00,307.68 L619.25,307.68 L619.50,307.67 L619.75,307.66 L620.00,307.65 L620.25,307.64 L620.50,307.63 L620.75,307.62 L621.00,307.61 L621.25,307.60 L621.50,307.59 L621.75,307.57 L622.00,307.56 L622.25,307.55 L622.50,307.53 L622.75,307.51 L623.00,307.50 L623.25,307.48 L623.50,307.47 L623.75,307.45 L624.00,307.43 L624.25,307.41 L624.50,307.40 L624.75,307.38 L625.00,307.36 L625.25,307.34 L625.50,307.32 L625.75,307.30 L626.00,307.28 L626.25,307.26 L626.50,307.24 L626.75,307.21 L627.00,307.18 L627.25,307.14 L627.50,307.11 L627.75,307.07 L628.00,307.03 L628.25,306.99 L628.50,306.95 L628.75,306.91 L629.00,306.86 L629.25,306.81 L629.50,306.76 L629.75,306.72 L630.00,306.67 L630.25,306.61 L630.50,306.56 L630.75,306.51 L631.00,306.46 L631.25,306.40 L631.50,306.35 L631.75,306.30 L632.00,306.24 L632.25,306.19 L632.50,306.14 L632.75,306.09 L633.00,306.04 L633.25,305.98 L633.50,305.93 L633.75,305.89 L634.00,305.84 L634.25,305.79 L634.50,305.74 L634.75,305.70 L635.00,305.65 L635.25,305.61 L635.50,305.56 L635.75,305.51 L636.00,305.47 L636.25,305.42 L636.50,305.37 L636.75,305.33 L637.00,305.28 L637.25,305.23 L637.50,305.19 L637.75,305.14 L638.00,305.09 L638.25,305.04 L638.50,305.00 L638.75,304.95 L639.00,304.90 L639.25,304.85 L639.50,304.80 L639.75,304.75 L640.00,304.71 L640.25,304.66 L640.50,304.61 L640.75,304.56 L641.00,304.51 L641.25,304.46 L641.50,304.41 L641.75,304.36 L642.00,304.30 L642.25,304.25 L642.50,304.20 L642.75,304.15 L643.00,304.09 L643.25,304.04 L643.50,303.99 L643.75,303.93 L644.00,303.88 L644.25,303.82 L644.50,303.76 L644.75,303.71 L645.00,303.65 L645.25,303.59 L645.50,303.54 L645.75,303.48 L646.00,303.42 L646.25,303.36 L646.50,303.30 L646.75,303.25 L647.00,303.19 L647.25,303.13 L647.50,303.07 L647.75,303.01 L648.00,302.95 L648.25,302.89 L648.50,302.83 L648.75,302.78 L649.00,302.72 L649.25,302.66 L649.50,302.60 L649.75,302.54 L650.00,302.48 L650.25,302.43 L650.50,302.37 L650.75,302.31 L651.00,302.25 L651.25,302.20 L651.50,302.14 L651.75,302.08 L652.00,302.03 L652.25,301.97 L652.50,301.91 L652.75,301.85 L653.00,301.80 L653.25,301.74 L653.50,301.68 L653.75,301.62 L654.00,301.56 L654.25,301.51 L654.50,301.45 L654.75,301.39 L655.00,301.33 L655.25,301.28 L655.50,301.22 L655.75,301.16 L656.00,301.11 L656.25,301.05 L656.50,300.99 L656.75,300.94 L657.00,300.88 L657.25,300.83 L657.50,300.77 L657.75,300.71 L658.00,300.66 L658.25,300.60 L658.50,300.55 L658.75,300.50 L659.00,300.44 L659.25,300.39 L659.50,300.34 L659.75,300.28 L660.00,300.23 L660.25,300.18 L660.50,300.13 L660.75,300.07 L661.00,300.02 L661.25,299.97 L661.50,299.92 L661.75,299.87 L662.00,299.81 L662.25,299.76 L662.50,299.71 L662.75,299.66 L663.00,299.61 L663.25,299.56 L663.50,299.51 L663.75,299.46 L664.00,299.41 L664.25,299.36 L664.50,299.31 L664.75,299.26 L665.00,299.21 L665.25,299.16 L665.50,299.11 L665.75,299.07 L666.00,299.02 L666.25,298.97 L666.50,298.92 L666.75,298.87 L667.00,298.83 L667.25,298.78 L667.40,298.75" stroke="#0072BD" stroke-width="2.7" stroke-dasharray="2.7 2.38" stroke-dashoffset="0"/>
<path d="M413.00,478.20 L413.25,475.06 L413.50,471.82 L413.75,468.50 L414.00,465.10 L414.25,461.63 L414.50,458.10 L414.75,454.84 L415.00,451.71 L415.25,448.00 L415.50,443.00 L415.75,432.87 L416.00,417.45 L416.25,401.56 L416.50,390.00 L416.75,383.33 L417.00,378.08 L417.25,373.08 L417.50,367.22 L417.75,361.21 L418.00,357.00 L418.25,354.48 L418.50,353.05 L418.75,353.65 L419.00,355.86 L419.25,359.97 L419.50,368.31 L419.75,378.37 L420.00,390.00 L420.25,399.76 L420.50,408.87 L420.75,418.08 L421.00,428.14 L421.25,438.61 L421.50,448.00 L421.75,456.48 L422.00,464.00 L422.25,468.81 L422.50,471.87 L422.75,474.29 L423.00,476.23 L423.25,477.89 L423.50,479.41 L423.75,480.82 L424.00,482.08 L424.25,483.14 L424.50,483.95 L424.75,484.53 L425.00,485.03 L425.25,485.49 L425.50,485.90 L425.75,486.25 L426.00,486.54 L426.25,486.78 L426.50,486.95 L426.75,487.07 L427.00,487.18 L427.25,487.28 L427.50,487.38 L427.75,487.47 L428.00,487.55 L428.25,487.63 L428.50,487.69 L428.75,487.75 L429.00,487.80 L429.25,487.84 L429.50,487.87 L429.75,487.89 L430.00,487.90 L430.25,487.90 L430.50,487.90 L430.75,487.90 L431.00,487.90 L431.25,487.90 L431.50,487.90 L431.75,487.90 L432.00,487.90 L432.25,487.90 L432.50,487.90 L432.75,487.90 L433.00,487.90 L433.25,487.90 L433.50,487.90 L433.75,487.90 L434.00,487.90 L434.25,487.90 L434.50,487.90 L434.75,487.90 L435.00,487.90 L435.25,487.90 L435.50,487.90 L435.75,487.90 L436.00,487.90 L436.25,487.90 L436.50,487.89 L436.75,487.88 L437.00,487.86 L437.25,487.83 L437.50,487.80 L437.75,487.76 L438.00,487.72 L438.25,487.67 L438.50,487.62 L438.75,487.56 L439.00,487.50 L439.25,487.44 L439.50,487.37 L439.75,487.30 L440.00,487.23 L440.25,487.15 L440.50,487.04 L440.75,486.91 L441.00,486.75 L441.25,486.57 L441.50,486.37 L441.75,486.14 L442.00,485.89 L442.25,485.61 L442.50,485.32 L442.75,485.00 L443.00,484.59 L443.25,484.11 L443.50,483.54 L443.75,482.90 L444.00,482.19 L444.25,481.40 L444.50,480.56 L444.75,479.63 L445.00,478.54 L445.25,477.25 L445.50,475.75 L445.75,474.00 L446.00,471.99 L446.25,469.53 L446.50,466.09 L446.75,461.84 L447.00,457.03 L447.25,451.72 L447.50,445.41 L447.75,438.12 L448.00,430.00 L448.25,419.52 L448.50,407.72 L448.75,398.48 L449.00,391.63 L449.25,385.94 L449.50,381.14 L449.75,376.76 L450.00,373.38 L450.25,371.44 L450.50,370.03 L450.75,369.63 L451.00,370.49 L451.25,372.13 L451.50,374.73 L451.75,379.22 L452.00,384.96 L452.25,391.34 L452.50,399.62 L452.75,409.26 L453.00,418.81 L453.25,428.73 L453.50,438.00 L453.75,446.27 L454.00,453.10 L454.25,458.21 L454.50,462.55 L454.75,466.20 L455.00,469.28 L455.25,472.04 L455.50,474.49 L455.75,476.57 L456.00,478.20 L456.25,479.54 L456.50,480.77 L456.75,481.88 L457.00,482.85 L457.25,483.66 L457.50,484.31 L457.75,484.78 L458.00,485.17 L458.25,485.53 L458.50,485.86 L458.75,486.15 L459.00,486.42 L459.25,486.64 L459.50,486.84 L459.75,487.00 L460.00,487.13 L460.25,487.22 L460.50,487.29 L460.75,487.36 L461.00,487.43 L461.25,487.50 L461.50,487.56 L461.75,487.62 L462.00,487.67 L462.25,487.72 L462.50,487.76 L462.75,487.80 L463.00,487.83 L463.25,487.85 L463.50,487.88 L463.75,487.89 L464.00,487.90 L464.25,487.90 L464.50,487.90 L464.75,487.90 L465.00,487.90 L465.25,487.90 L465.50,487.90 L465.75,487.90 L466.00,487.90 L466.25,487.90 L466.50,487.90 L466.75,487.90 L467.00,487.90 L467.25,487.90 L467.50,487.90 L467.75,487.90 L468.00,487.90 L468.25,487.90 L468.50,487.90 L468.75,487.90 L469.00,487.90 L469.25,487.90 L469.50,487.90 L469.75,487.90 L470.00,487.90 L470.25,487.90 L470.50,487.89 L470.75,487.87 L471.00,487.84 L471.25,487.80 L471.50,487.75 L471.75,487.70 L472.00,487.63 L472.25,487.56 L472.50,487.48 L472.75,487.40 L473.00,487.31 L473.25,487.22 L473.50,487.12 L473.75,487.02 L474.00,486.91 L474.25,486.78 L474.50,486.62 L474.75,486.44 L475.00,486.23 L475.25,485.99 L475.50,485.73 L475.75,485.44 L476.00,485.12 L476.25,484.77 L476.50,484.38 L476.75,483.88 L477.00,483.27 L477.25,482.56 L477.50,481.72 L477.75,480.76 L478.00,479.68 L478.25,478.46 L478.50,476.93 L478.75,474.75 L479.00,472.00 L479.25,468.72 L479.50,465.00 L479.75,460.09 L480.00,453.69 L480.25,446.48 L480.50,438.49 L480.75,429.28 L481.00,420.00 L481.25,410.68 L481.50,401.45 L481.75,393.55 L482.00,386.52 L482.25,380.59 L482.50,376.58 L482.75,373.22 L483.00,370.80 L483.25,370.15 L483.50,371.65 L483.75,374.57 L484.00,378.00 L484.25,382.00 L484.50,387.22 L484.75,393.59 L485.00,402.21 L485.25,413.45 L485.50,424.19 L485.75,434.88 L486.00,444.00 L486.25,451.14 L486.50,457.29 L486.75,462.26 L487.00,466.17 L487.25,469.55 L487.50,472.40 L487.75,474.71 L488.00,476.56 L488.25,478.20 L488.50,479.63 L488.75,480.84 L489.00,481.85 L489.25,482.69 L489.50,483.47 L489.75,484.21 L490.00,484.88 L490.25,485.47 L490.50,485.97 L490.75,486.36 L491.00,486.63 L491.25,486.79 L491.50,486.92 L491.75,487.05 L492.00,487.17 L492.25,487.28 L492.50,487.38 L492.75,487.47 L493.00,487.56 L493.25,487.63 L493.50,487.70 L493.75,487.76 L494.00,487.80 L494.25,487.84 L494.50,487.87 L494.75,487.89 L495.00,487.90 L495.25,487.90 L495.50,487.90 L495.75,487.90 L496.00,487.90 L496.25,487.90 L496.50,487.90 L496.75,487.90 L497.00,487.90 L497.25,487.90 L497.50,487.90 L497.75,487.90 L498.00,487.90 L498.25,487.90 L498.50,487.90 L498.75,487.90 L499.00,487.90 L499.25,487.90 L499.50,487.90 L499.75,487.90 L500.00,487.90 L500.25,487.90 L500.50,487.90 L500.75,487.90 L501.00,487.90 L501.25,487.90 L501.50,487.89 L501.75,487.89 L502.00,487.87 L502.25,487.86 L502.50,487.84 L502.75,487.81 L503.00,487.79 L503.25,487.76 L503.50,487.72 L503.75,487.69 L504.00,487.65 L504.25,487.60 L504.50,487.56 L504.75,487.51 L505.00,487.46 L505.25,487.40 L505.50,487.35 L505.75,487.29 L506.00,487.23 L506.25,487.16 L506.50,487.06 L506.75,486.94 L507.00,486.79 L507.25,486.62 L507.50,486.42 L507.75,486.20 L508.00,485.96 L508.25,485.70 L508.50,485.43 L508.75,485.14 L509.00,484.83 L509.25,484.49 L509.50,484.09 L509.75,483.60 L510.00,483.05 L510.25,482.43 L510.50,481.75 L510.75,481.01 L511.00,480.22 L511.25,479.37 L511.50,478.44 L511.75,477.31 L512.00,476.03 L512.25,474.61 L512.50,473.08 L512.75,471.46 L513.00,469.78 L513.25,468.05 L513.50,466.22 L513.75,464.25 L514.00,462.12 L514.25,459.80 L514.50,457.28 L514.75,454.52 L515.00,451.31 L515.25,447.62 L515.50,443.52 L515.75,439.08 L516.00,433.99 L516.25,428.32 L516.50,422.38 L516.75,416.27 L517.00,409.52 L517.25,402.66 L517.50,396.30 L517.75,391.04 L518.00,386.40 L518.25,382.25 L518.50,378.98 L518.75,376.68 L519.00,374.68 L519.25,373.35 L519.50,373.22 L519.75,374.37 L520.00,376.29 L520.25,378.44 L520.50,381.08 L520.75,384.44 L521.00,388.42 L521.25,392.98 L521.50,399.01 L521.75,406.32 L522.00,414.06 L522.25,421.44 L522.50,429.16 L522.75,436.48 L523.00,441.88 L523.25,445.76 L523.50,449.57 L523.75,453.54 L524.00,457.35 L524.25,460.74 L524.50,463.86 L524.75,466.76 L525.00,469.35 L525.25,471.50 L525.50,473.42 L525.75,475.20 L526.00,476.83 L526.25,478.25 L526.50,479.44 L526.75,480.37 L527.00,481.16 L527.25,481.88 L527.50,482.53 L527.75,483.12 L528.00,483.63 L528.25,484.07 L528.50,484.45 L528.75,484.76 L529.00,485.03 L529.25,485.29 L529.50,485.54 L529.75,485.78 L530.00,486.00 L530.25,486.20 L530.50,486.39 L530.75,486.56 L531.00,486.72 L531.25,486.85 L531.50,486.97 L531.75,487.07 L532.00,487.15 L532.25,487.21 L532.50,487.26 L532.75,487.31 L533.00,487.36 L533.25,487.41 L533.50,487.46 L533.75,487.50 L534.00,487.54 L534.25,487.58 L534.50,487.62 L534.75,487.65 L535.00,487.69 L535.25,487.72 L535.50,487.75 L535.75,487.77 L536.00,487.80 L536.25,487.82 L536.50,487.84 L536.75,487.85 L537.00,487.87 L537.25,487.88 L537.50,487.89 L537.75,487.90 L538.00,487.90 L538.25,487.90 L538.50,487.90 L538.75,487.90 L539.00,487.90 L539.25,487.90 L539.50,487.90 L539.75,487.89 L540.00,487.89 L540.25,487.89 L540.50,487.88 L540.75,487.88 L541.00,487.88 L541.25,487.87 L541.50,487.87 L541.75,487.87 L542.00,487.86 L542.25,487.86 L542.50,487.85 L542.75,487.84 L543.00,487.84 L543.25,487.83 L543.50,487.83 L543.75,487.82 L544.00,487.81 L544.25,487.80 L544.50,487.79 L544.75,487.78 L545.00,487.77 L545.25,487.76 L545.50,487.75 L545.75,487.73 L546.00,487.72 L546.25,487.70 L546.50,487.68 L546.75,487.66 L547.00,487.64 L547.25,487.62 L547.50,487.60 L547.75,487.58 L548.00,487.56 L548.25,487.53 L548.50,487.51 L548.75,487.49 L549.00,487.46 L549.25,487.43 L549.50,487.40 L549.75,487.37 L550.00,487.34 L550.25,487.31 L550.50,487.28 L550.75,487.24 L551.00,487.21 L551.25,487.17 L551.50,487.13 L551.75,487.09 L552.00,487.05 L552.25,487.01 L552.50,486.97 L552.75,486.93 L553.00,486.88 L553.25,486.84 L553.50,486.79 L553.75,486.74 L554.00,486.70 L554.25,486.65 L554.50,486.60 L554.75,486.55 L555.00,486.50 L555.25,486.44 L555.50,486.39 L555.75,486.34 L556.00,486.28 L556.25,486.23 L556.50,486.17 L556.75,486.11 L557.00,486.06 L557.25,486.00 L557.50,485.94 L557.75,485.88 L558.00,485.81 L558.25,485.75 L558.50,485.69 L558.75,485.62 L559.00,485.55 L559.25,485.48 L559.50,485.41 L559.75,485.34 L560.00,485.27 L560.25,485.19 L560.50,485.11 L560.75,485.03 L561.00,484.94 L561.25,484.86 L561.50,484.77 L561.75,484.68 L562.00,484.58 L562.25,484.49 L562.50,484.39 L562.75,484.28 L563.00,484.18 L563.25,484.07 L563.50,483.95 L563.75,483.84 L564.00,483.72 L564.25,483.60 L564.50,483.47 L564.75,483.34 L565.00,483.20 L565.25,483.07 L565.50,482.92 L565.75,482.78 L566.00,482.63 L566.25,482.47 L566.50,482.32 L566.75,482.15 L567.00,481.99 L567.25,481.81 L567.50,481.64 L567.75,481.46 L568.00,481.27 L568.25,481.08 L568.50,480.88 L568.75,480.68 L569.00,480.48 L569.25,480.27 L569.50,480.06 L569.75,479.84 L570.00,479.61 L570.25,479.39 L570.50,479.15 L570.75,478.92 L571.00,478.68 L571.25,478.43 L571.50,478.19 L571.75,477.93 L572.00,477.68 L572.25,477.42 L572.50,477.16 L572.75,476.89 L573.00,476.62 L573.25,476.34 L573.50,476.07 L573.75,475.78 L574.00,475.50 L574.25,475.21 L574.50,474.91 L574.75,474.62 L575.00,474.31 L575.25,474.01 L575.50,473.69 L575.75,473.38 L576.00,473.06 L576.25,472.73 L576.50,472.40 L576.75,472.06 L577.00,471.71 L577.25,471.36 L577.50,471.01 L577.75,470.64 L578.00,470.28 L578.25,469.90 L578.50,469.52 L578.75,469.13 L579.00,468.74 L579.25,468.34 L579.50,467.93 L579.75,467.52 L580.00,467.10 L580.25,466.67 L580.50,466.24 L580.75,465.80 L581.00,465.36 L581.25,464.91 L581.50,464.46 L581.75,464.01 L582.00,463.55 L582.25,463.08 L582.50,462.62 L582.75,462.15 L583.00,461.67 L583.25,461.20 L583.50,460.72 L583.75,460.25 L584.00,459.77 L584.25,459.29 L584.50,458.81 L584.75,458.32 L585.00,457.84 L585.25,457.36 L585.50,456.88 L585.75,456.39 L586.00,455.91 L586.25,455.43 L586.50,454.94 L586.75,454.46 L587.00,453.98 L587.25,453.50 L587.50,453.02 L587.75,452.54 L588.00,452.06 L588.25,451.58 L588.50,451.10 L588.75,450.62 L589.00,450.15 L589.25,449.68 L589.50,449.21 L589.75,448.74 L590.00,448.27 L590.25,447.81 L590.50,447.35 L590.75,446.89 L591.00,446.43 L591.25,445.98 L591.50,445.53 L591.75,445.09 L592.00,444.65 L592.25,444.22 L592.50,443.79 L592.75,443.36 L593.00,442.94 L593.25,442.53 L593.50,442.11 L593.75,441.71 L594.00,441.31 L594.25,440.91 L594.50,440.52 L594.75,440.13 L595.00,439.75 L595.25,439.38 L595.50,439.01 L595.75,438.64 L596.00,438.28 L596.25,437.92 L596.50,437.57 L596.75,437.23 L597.00,436.89 L597.25,436.55 L597.50,436.22 L597.75,435.90 L598.00,435.58 L598.25,435.26 L598.50,434.95 L598.75,434.65 L599.00,434.35 L599.25,434.06 L599.50,433.77 L599.75,433.49 L600.00,433.21 L600.25,432.94 L600.50,432.68 L600.75,432.42 L601.00,432.17 L601.25,431.92 L601.50,431.68 L601.75,431.45 L602.00,431.22 L602.25,431.00 L602.50,430.79 L602.75,430.58 L603.00,430.37 L603.25,430.18 L603.50,429.99 L603.75,429.81 L604.00,429.63 L604.25,429.46 L604.50,429.30 L604.75,429.14 L605.00,429.00 L605.25,428.86 L605.50,428.72 L605.75,428.59 L606.00,428.47 L606.25,428.36 L606.50,428.25 L606.75,428.16 L607.00,428.07 L607.25,427.98 L607.50,427.91 L607.75,427.84 L608.00,427.78 L608.25,427.73 L608.50,427.69 L608.75,427.65 L609.00,427.63 L609.25,427.61 L609.50,427.60 L609.75,427.60 L610.00,427.61 L610.25,427.62 L610.50,427.65 L610.75,427.68 L611.00,427.73 L611.25,427.78 L611.50,427.84 L611.75,427.91 L612.00,427.98 L612.25,428.07 L612.50,428.16 L612.75,428.26 L613.00,428.37 L613.25,428.49 L613.50,428.61 L613.75,428.75 L614.00,428.89 L614.25,429.04 L614.50,429.19 L614.75,429.36 L615.00,429.53 L615.25,429.71 L615.50,429.89 L615.75,430.09 L616.00,430.29 L616.25,430.49 L616.50,430.71 L616.75,430.92 L617.00,431.15 L617.25,431.38 L617.50,431.61 L617.75,431.85 L618.00,432.09 L618.25,432.33 L618.50,432.58 L618.75,432.83 L619.00,433.08 L619.25,433.34 L619.50,433.59 L619.75,433.85 L620.00,434.11 L620.25,434.37 L620.50,434.63 L620.75,434.89 L621.00,435.15 L621.25,435.41 L621.50,435.68 L621.75,435.94 L622.00,436.20 L622.25,436.46 L622.50,436.73 L622.75,436.99 L623.00,437.25 L623.25,437.51 L623.50,437.78 L623.75,438.04 L624.00,438.30 L624.25,438.56 L624.50,438.82 L624.75,439.08 L625.00,439.34 L625.25,439.60 L625.50,439.86 L625.75,440.12 L626.00,440.38 L626.25,440.64 L626.50,440.90 L626.75,441.15 L627.00,441.41 L627.25,441.67 L627.50,441.92 L627.75,442.18 L628.00,442.43 L628.25,442.68 L628.50,442.93 L628.75,443.18 L629.00,443.43 L629.25,443.68 L629.50,443.93 L629.75,444.18 L630.00,444.42 L630.25,444.67 L630.50,444.91 L630.75,445.15 L631.00,445.39 L631.25,445.63 L631.50,445.87 L631.75,446.11 L632.00,446.34 L632.25,446.57 L632.50,446.80 L632.75,447.03 L633.00,447.26 L633.25,447.49 L633.50,447.71 L633.75,447.94 L634.00,448.16 L634.25,448.37 L634.50,448.59 L634.75,448.80 L635.00,449.01 L635.25,449.22 L635.50,449.43 L635.75,449.63 L636.00,449.83 L636.25,450.03 L636.50,450.22 L636.75,450.41 L637.00,450.60 L637.25,450.78 L637.50,450.96 L637.75,451.14 L638.00,451.31 L638.25,451.48 L638.50,451.64 L638.75,451.81 L639.00,451.97 L639.25,452.13 L639.50,452.28 L639.75,452.43 L640.00,452.58 L640.25,452.72 L640.50,452.87 L640.75,453.01 L641.00,453.14 L641.25,453.28 L641.50,453.41 L641.75,453.54 L642.00,453.67 L642.25,453.80 L642.50,453.92 L642.75,454.04 L643.00,454.16 L643.25,454.28 L643.50,454.40 L643.75,454.51 L644.00,454.62 L644.25,454.73 L644.50,454.84 L644.75,454.95 L645.00,455.06 L645.25,455.16 L645.50,455.27 L645.75,455.37 L646.00,455.47 L646.25,455.57 L646.50,455.67 L646.75,455.76 L647.00,455.86 L647.25,455.95 L647.50,456.05 L647.75,456.14 L648.00,456.23 L648.25,456.32 L648.50,456.41 L648.75,456.49 L649.00,456.58 L649.25,456.66 L649.50,456.75 L649.75,456.83 L650.00,456.91 L650.25,456.99 L650.50,457.07 L650.75,457.14 L651.00,457.22 L651.25,457.29 L651.50,457.37 L651.75,457.44 L652.00,457.51 L652.25,457.58 L652.50,457.64 L652.75,457.71 L653.00,457.77 L653.25,457.84 L653.50,457.90 L653.75,457.96 L654.00,458.01 L654.25,458.07 L654.50,458.12 L654.75,458.18 L655.00,458.23 L655.25,458.28 L655.50,458.33 L655.75,458.38 L656.00,458.43 L656.25,458.47 L656.50,458.52 L656.75,458.56 L657.00,458.60 L657.25,458.64 L657.50,458.68 L657.75,458.72 L658.00,458.76 L658.25,458.80 L658.50,458.84 L658.75,458.87 L659.00,458.91 L659.25,458.94 L659.50,458.97 L659.75,459.00 L660.00,459.03 L660.25,459.06 L660.50,459.09 L660.75,459.12 L661.00,459.15 L661.25,459.18 L661.50,459.20 L661.75,459.23 L662.00,459.25 L662.25,459.27 L662.50,459.30 L662.75,459.32 L663.00,459.34 L663.25,459.36 L663.50,459.38 L663.75,459.40 L664.00,459.42 L664.25,459.44 L664.50,459.45 L664.75,459.47 L665.00,459.49 L665.25,459.50 L665.50,459.52 L665.75,459.53 L666.00,459.54 L666.25,459.55 L666.50,459.57 L666.75,459.58 L667.00,459.59 L667.25,459.60 L667.40,459.60" stroke="#D95319" stroke-width="1.65"/>
</g>
<text transform="translate(408.20,295.50) scale(0.91,1)" font-size="16.0" text-anchor="end" fill="#0072BD" font-weight="normal" >100</text>
<text transform="translate(408.20,395.00) scale(0.91,1)" font-size="16.0" text-anchor="end" fill="#0072BD" font-weight="normal" >50</text>
<text transform="translate(408.20,494.50) scale(0.91,1)" font-size="16.0" text-anchor="end" fill="#0072BD" font-weight="normal" >0</text>
<text transform="translate(672.10,295.25) scale(0.87,1)" font-size="16.0" text-anchor="start" fill="#D95319" font-weight="normal" >0.2</text>
<text transform="translate(672.10,394.75) scale(0.87,1)" font-size="16.0" text-anchor="start" fill="#D95319" font-weight="normal" >0.1</text>
<text transform="translate(672.10,494.20) scale(0.87,1)" font-size="16.0" text-anchor="start" fill="#D95319" font-weight="normal" >0</text>
<text transform="translate(412.70,507.70) scale(0.945,1)" font-size="16.0" text-anchor="middle" fill="#262626" font-weight="normal" >0</text>
<text transform="translate(497.60,507.70) scale(0.945,1)" font-size="16.0" text-anchor="middle" fill="#262626" font-weight="normal" >365</text>
<text transform="translate(582.40,507.70) scale(0.945,1)" font-size="16.0" text-anchor="middle" fill="#262626" font-weight="normal" >730</text>
<text transform="translate(667.50,507.70) scale(0.945,1)" font-size="16.0" text-anchor="middle" fill="#262626" font-weight="normal" >1095</text>
<text transform="translate(540.80,528.40) scale(1,1)" font-size="17.0" text-anchor="middle" fill="#262626" font-weight="normal" textLength="40.0" lengthAdjust="spacingAndGlyphs">Days</text>
<text transform="translate(378.00,391.40) rotate(-90)" font-size="17.6" text-anchor="middle" fill="#0072BD" textLength="184.3" lengthAdjust="spacingAndGlyphs">Susceptible/Activity (%)</text>
<text transform="translate(710.50,390.20) rotate(-90)" font-size="17.6" text-anchor="middle" fill="#D95319" textLength="89.1" lengthAdjust="spacingAndGlyphs">Infected (%)</text>
<text transform="translate(539.7,283.7) scale(0.91,1)" font-size="16.0" font-weight="bold" text-anchor="middle" fill="#000" textLength="219.78" lengthAdjust="spacingAndGlyphs"><tspan>Vacc. Ramp, Day 300 to 600</tspan></text>
<rect x="236.5" y="44.5" width="60" height="89" fill="none" stroke="#262626" stroke-width="1" stroke-opacity="0.36"/>
<line x1="239.0" y1="55.5" x2="257.8" y2="55.5" stroke="#0072BD" stroke-width="1.6"/>
<line x1="239.0" y1="75.3" x2="257.8" y2="75.3" stroke="#0072BD" stroke-width="2.7" stroke-dasharray="2.7 2.38"/>
<line x1="239.0" y1="98.8" x2="249.4" y2="98.8" stroke="#000" stroke-width="2.6"/>
<line x1="239.0" y1="123.0" x2="257.8" y2="123.0" stroke="#D95319" stroke-width="1.65"/>
<text x="260.3" y="61.0" font-size="16.0" fill="#000">s</text>
<text x="260.3" y="80.9" font-size="16.0" fill="#000">a</text>
<text x="260.3" y="101.2" font-size="16.0" fill="#000">1/R<tspan font-size="13.4" dy="8.0" dx="0.6">0</tspan></text>
<text x="260.3" y="128.7" font-size="16.0" fill="#000">i</text>
</g>
</svg>
</body></html>
